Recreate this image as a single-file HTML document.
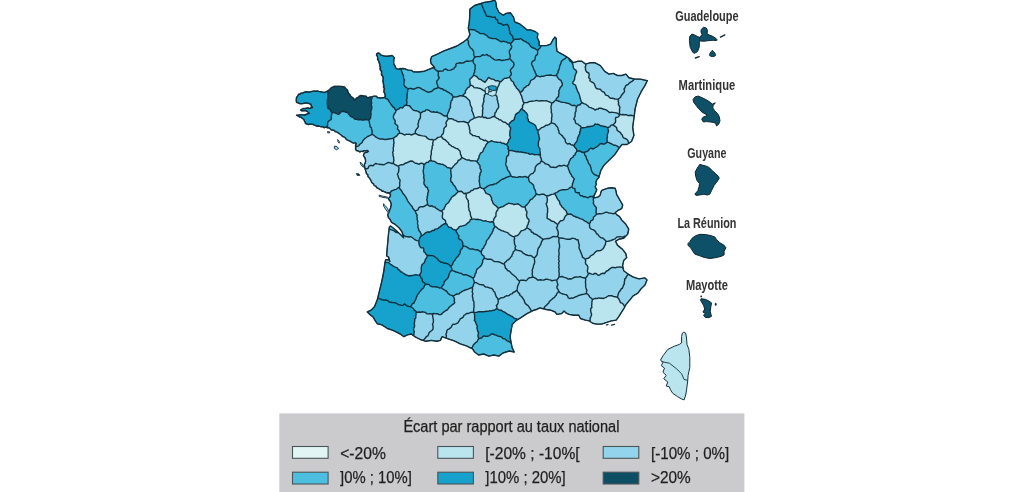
<!DOCTYPE html>
<html><head><meta charset="utf-8"><style>
html,body{margin:0;padding:0;background:#fff;}
body{width:1024px;height:492px;overflow:hidden;}
svg{display:block;filter:blur(0.35px);}
.lb{font-family:"Liberation Sans",sans-serif;font-weight:bold;font-size:15px;fill:#333;}
.lt{font-family:"Liberation Sans",sans-serif;font-size:16px;fill:#1e1e1e;stroke:#1e1e1e;stroke-width:0.25;}
.li{font-family:"Liberation Sans",sans-serif;font-size:17.2px;fill:#1e1e1e;stroke:#1e1e1e;stroke-width:0.25;}
</style></head><body>
<svg width="1024" height="492" viewBox="0 0 1024 492">
<g fill="none">
<path d="M332.0 113.2 331.2 111.9 330.6 110.5 329.8 109.2 328.1 108.6 327.5 107.1 327.7 105.5 327.2 103.9 327.5 102.3 327.3 100.7 327.6 99.1 327.9 97.5 327.9 95.9 327.7 94.3 328.0 92.7 327.5 91.0 325.4 92.2 323.8 92.6 322.2 92.1 320.7 91.7 319.1 91.4 317.5 91.0 315.9 91.2 314.3 90.9 312.7 91.1 311.1 91.7 309.5 92.2 307.9 92.1 306.3 91.7 305.0 92.0 303.7 92.5 302.5 93.1 301.1 93.0 300.1 94.2 298.7 94.1 298.0 95.3 297.3 96.5 296.4 97.7 296.3 99.3 296.1 101.0 296.8 102.5 298.3 102.7 299.5 103.6 301.2 103.7 303.0 103.6 304.6 102.9 306.3 103.0 308.0 103.1 309.4 103.9 311.0 104.3 311.2 106.2 312.5 107.5 311.1 107.6 310.0 108.6 308.3 107.8 306.5 108.2 305.2 108.5 303.8 108.4 302.5 108.8 300.5 110.0 301.8 111.0 303.5 110.8 304.9 110.4 306.3 110.6 307.5 111.5 308.3 112.7 309.5 113.3 307.7 113.7 306.0 114.5 304.4 115.3 302.7 114.9 301.0 114.8 299.5 114.9 298.0 115.3 296.5 115.3 298.2 115.8 299.5 117.0 301.3 117.2 302.5 118.5 303.9 119.4 304.5 121.0 305.2 122.2 305.5 123.5 307.0 124.0 308.5 124.6 309.9 123.9 311.5 124.3 313.0 124.2 314.2 125.1 315.6 125.5 316.9 126.4 318.5 126.0 319.9 126.4 321.3 126.9 322.8 126.4 324.1 127.8 325.7 126.9 327.0 127.7 327.3 127.8 327.3 126.2 327.7 124.7 327.6 123.1 328.0 121.6 329.6 120.5 331.2 119.4 331.4 117.9 331.3 116.2 331.6 114.7Z" fill="#16a2cc"/>
<path d="M396.1 110.3 397.5 109.4 399.1 108.8 400.2 107.4 402.4 108.1 403.5 106.7 404.8 105.5 406.4 105.0 406.8 103.4 406.9 101.8 406.4 100.2 407.0 98.7 407.0 97.1 407.1 95.5 407.2 93.9 407.4 92.3 407.7 90.8 407.8 89.2 406.6 87.6 405.0 86.6 404.1 85.1 403.9 83.5 404.0 81.8 404.5 80.1 403.7 78.6 403.5 77.0 403.4 75.3 402.5 73.9 402.2 72.3 401.4 70.8 401.3 69.2 401.4 68.7 399.9 68.5 398.5 69.3 397.3 68.9 396.1 68.5 395.4 67.1 394.9 65.6 393.7 64.5 393.7 62.8 393.6 61.1 393.6 59.4 394.5 57.9 393.3 56.6 392.0 55.4 390.5 56.0 388.8 55.9 387.2 56.3 385.6 56.1 383.9 56.1 382.3 55.4 380.7 55.1 379.7 53.5 378.2 53.0 376.6 53.8 376.5 55.2 377.4 56.4 377.7 57.7 377.5 59.1 378.2 60.3 379.1 61.6 379.5 63.0 379.9 64.4 379.8 66.0 380.7 67.2 379.8 68.8 380.3 70.0 381.6 71.1 381.5 72.5 381.4 73.9 381.5 75.3 382.9 76.3 383.3 77.6 383.1 79.0 383.0 80.3 382.8 81.7 383.3 82.9 383.3 84.3 383.9 85.5 383.3 86.8 384.4 88.1 384.4 89.4 384.0 90.7 383.9 92.0 384.9 93.2 384.9 94.7 385.5 96.1 384.7 96.9 385.6 98.3 387.2 99.0 388.4 100.1 389.1 101.6 390.0 102.9 390.9 104.2 391.9 105.5 392.8 106.8 394.2 107.7 395.0 109.2Z" fill="#16a2cc"/>
<path d="M416.3 311.8 415.2 310.7 413.9 309.8 413.3 308.3 411.9 307.5 410.7 306.4 409.1 306.6 407.6 306.1 406.2 305.3 404.8 303.9 403.1 305.1 401.5 305.4 400.0 304.9 398.5 304.7 396.6 303.3 395.2 302.8 393.6 302.6 392.1 302.5 390.6 302.2 389.1 302.0 387.9 300.6 386.5 300.2 385.0 300.0 383.4 300.0 381.9 299.9 380.6 298.9 379.1 298.6 377.7 298.2 377.4 299.3 374.6 306.6 371.0 310.2 367.3 312.0 370.1 314.8 372.8 316.6 375.5 321.2 377.4 323.9 381.9 324.8 387.4 328.5 392.9 330.3 396.6 332.2 400.2 334.0 403.9 336.7 407.5 334.9 411.2 334.0 413.9 336.0 413.9 334.5 414.0 333.0 414.3 331.5 413.6 329.9 413.7 328.4 414.4 326.9 414.6 325.4 414.3 323.8 414.5 322.3 414.7 320.8 414.7 319.3 415.8 317.9 415.7 316.3 416.0 314.8 416.0 313.3Z" fill="#16a2cc"/>
<path d="M332.0 113.2 333.5 112.3 335.0 112.8 336.6 113.5 338.3 114.5 339.7 113.7 341.1 111.7 342.6 111.5 344.2 111.3 345.8 112.4 347.3 112.0 348.2 113.6 349.3 114.9 350.5 116.3 352.2 117.0 353.7 118.0 354.9 119.2 356.4 119.2 357.9 119.8 359.5 119.5 361.1 119.7 362.6 120.2 364.1 119.8 365.7 119.5 367.2 119.7 368.7 120.2 370.5 118.2 370.7 116.7 370.9 115.1 371.1 113.6 370.7 112.0 371.1 110.5 371.7 109.0 371.9 107.5 371.6 105.9 371.2 104.3 371.8 102.9 371.2 101.3 371.5 99.7 371.9 98.2 372.4 96.7 371.7 96.9 370.0 97.0 368.5 97.7 366.9 97.7 366.0 96.0 364.4 96.1 362.8 95.7 361.1 95.4 359.5 96.1 358.4 97.2 356.7 97.8 355.7 99.1 354.6 100.2 353.9 98.7 352.9 97.6 351.4 96.9 350.4 95.8 349.8 94.4 348.4 93.6 348.1 92.0 347.6 90.6 346.9 89.3 345.4 88.6 344.9 87.2 343.1 86.8 341.2 86.4 339.8 86.4 338.3 86.1 336.9 86.4 335.4 86.2 334.0 86.5 332.7 87.1 331.5 87.6 330.5 88.5 329.6 89.6 328.5 90.5 327.5 91.0 328.0 92.7 327.7 94.3 327.9 95.9 327.9 97.5 327.6 99.1 327.3 100.7 327.5 102.3 327.2 103.9 327.7 105.5 327.5 107.1 328.1 108.6 329.8 109.2 330.6 110.5 331.2 111.9Z" fill="#0c4f64"/>
<path d="M368.7 120.2 367.2 119.7 365.7 119.5 364.1 119.8 362.6 120.2 361.1 119.7 359.5 119.5 357.9 119.8 356.4 119.2 354.9 119.2 353.7 118.0 352.2 117.0 350.5 116.3 349.3 114.9 348.2 113.6 347.3 112.0 345.8 112.4 344.2 111.3 342.6 111.5 341.1 111.7 339.7 113.7 338.3 114.5 336.6 113.5 335.0 112.8 333.5 112.3 332.0 113.2 331.6 114.7 331.3 116.2 331.4 117.9 331.2 119.4 329.6 120.5 328.0 121.6 327.6 123.1 327.7 124.7 327.3 126.2 327.3 127.8 328.7 127.5 329.8 128.4 331.4 130.0 333.0 129.9 334.3 130.7 335.5 131.9 337.1 132.1 338.6 133.1 340.0 134.2 341.4 135.2 342.5 136.5 344.2 137.1 345.4 137.8 346.0 139.1 347.1 139.9 348.5 140.6 350.0 141.1 351.3 142.0 352.4 142.8 353.7 143.2 355.2 142.6 356.3 143.5 355.5 145.2 355.6 147.0 355.6 147.2 357.1 146.4 358.7 145.8 359.6 144.5 360.9 143.5 362.2 142.5 362.8 140.7 364.0 139.6 365.0 138.3 366.4 137.5 367.7 136.5 369.2 135.8 370.7 135.2 372.0 134.1 372.1 132.5 372.2 130.8 371.5 129.4 371.4 127.8 369.9 126.5 370.0 124.8 369.4 123.3 369.4 121.7Z" fill="#4cbfe0"/>
<path d="M473.7 29.6 475.2 30.1 476.3 31.4 477.9 31.8 479.1 32.9 480.6 33.6 482.3 33.6 484.0 33.7 485.3 34.8 486.8 35.4 487.8 36.8 489.2 37.7 490.8 38.1 490.9 38.1 492.4 38.5 494.1 38.6 495.7 38.6 497.1 39.5 498.6 40.2 500.0 41.2 501.4 41.9 503.3 41.1 504.8 41.7 506.4 41.9 507.8 42.9 509.4 43.0 510.9 43.4 512.4 41.7 513.7 40.0 513.1 38.6 512.8 37.0 512.0 35.7 510.9 34.4 509.8 33.2 509.9 31.5 509.2 30.1 509.4 28.4 508.7 27.0 508.3 25.5 506.9 24.4 505.2 24.7 503.4 25.4 502.0 24.2 500.5 23.5 498.8 23.3 497.6 22.0 497.6 20.0 495.6 19.1 495.3 17.3 493.8 17.2 492.2 17.4 490.8 16.5 489.3 16.6 487.8 16.3 486.3 15.8 485.9 14.4 485.3 13.0 484.7 11.6 483.8 10.4 483.6 8.9 482.8 7.6 482.3 6.1 481.7 4.8 480.9 3.5 474.5 5.5 469.9 9.1 469.6 18.5 469.1 23.3 468.3 28.1 468.8 30.2 470.4 29.4 472.1 29.8Z" fill="#16a2cc"/>
<path d="M393.5 138.1 391.9 138.5 390.3 138.7 388.7 139.0 387.0 139.3 385.4 139.6 383.8 139.2 382.1 138.9 380.5 139.0 378.9 138.7 377.4 137.9 376.0 137.1 374.7 136.0 373.4 135.0 372.0 134.1 370.7 135.2 369.2 135.8 367.7 136.5 366.4 137.5 365.0 138.3 364.0 139.6 362.8 140.7 362.2 142.5 360.9 143.5 359.6 144.5 358.7 145.8 357.1 146.4 355.6 147.2 355.5 149.0 356.3 150.6 358.3 150.8 359.9 152.0 361.1 151.1 362.9 151.6 364.1 150.6 365.5 150.9 367.1 150.4 368.4 151.3 367.1 152.4 365.4 152.4 364.1 153.4 363.4 155.6 364.1 156.7 364.9 157.7 365.5 159.5 365.6 161.3 365.3 162.8 364.6 164.1 364.1 165.5 364.8 166.9 364.9 168.4 365.1 168.9 366.9 168.8 368.3 167.9 369.1 165.8 370.8 165.3 373.0 165.9 374.2 164.5 375.6 163.5 377.2 163.9 378.8 164.1 380.5 164.5 382.1 164.5 383.7 164.9 385.3 164.0 387.0 163.0 388.6 162.4 390.2 162.9 391.9 163.5 393.5 163.5 393.4 161.9 394.0 160.3 393.6 158.7 393.7 157.2 393.0 155.6 393.1 154.0 392.6 152.4 393.4 150.8 393.3 149.2 393.2 147.6 393.8 146.0 393.5 144.5 394.1 142.9 393.7 141.3 393.7 139.7Z" fill="#93d4ec"/>
<path d="M370.5 118.2 368.7 120.2 369.4 121.7 369.4 123.3 370.0 124.8 369.9 126.5 371.4 127.8 371.5 129.4 372.2 130.8 372.1 132.5 372.0 134.1 373.4 135.0 374.7 136.0 376.0 137.1 377.4 137.9 378.9 138.7 380.5 139.0 382.1 138.9 383.8 139.2 385.4 139.6 387.0 139.3 388.7 139.0 390.3 138.7 391.9 138.5 393.5 138.1 394.8 137.2 396.2 136.4 397.3 135.3 398.2 133.8 399.7 133.3 399.4 131.7 398.8 130.2 397.4 129.0 397.9 127.1 397.5 125.6 396.0 124.5 394.9 123.2 395.3 121.3 394.7 119.9 393.7 118.6 393.3 117.0 393.7 115.2 394.6 113.6 395.6 112.1 396.1 110.3 395.0 109.2 394.2 107.7 392.8 106.8 391.9 105.5 390.9 104.2 390.0 102.9 389.1 101.6 388.4 100.1 387.2 99.0 385.6 98.3 384.7 96.9 383.9 97.7 382.3 97.6 380.6 98.3 379.0 97.7 377.4 97.8 376.5 96.2 375.0 96.1 373.6 96.1 372.4 96.7 371.9 98.2 371.5 99.7 371.2 101.3 371.8 102.9 371.2 104.3 371.6 105.9 371.9 107.5 371.7 109.0 371.1 110.5 370.7 112.0 371.1 113.6 370.9 115.1 370.7 116.7Z" fill="#4cbfe0"/>
<path d="M399.1 187.4 399.7 186.4 399.8 184.9 399.7 183.4 399.8 181.8 400.2 180.2 399.0 178.8 398.4 177.3 398.1 175.8 397.4 174.3 398.2 172.7 398.7 171.1 398.8 169.6 399.0 168.0 398.3 166.5 396.8 165.5 395.0 164.6 393.5 163.5 391.9 163.5 390.2 162.9 388.6 162.4 387.0 163.0 385.3 164.0 383.7 164.9 382.1 164.5 380.5 164.5 378.8 164.1 377.2 163.9 375.6 163.5 374.2 164.5 373.0 165.9 370.8 165.3 369.1 165.8 368.3 167.9 366.9 168.8 365.1 168.9 365.6 170.5 366.2 172.0 366.4 173.6 367.9 174.6 367.9 176.6 369.2 177.8 370.1 179.0 370.8 180.2 371.3 181.6 372.1 182.8 373.6 183.8 374.2 185.6 376.0 186.1 376.8 187.9 378.5 188.5 379.6 189.5 381.0 189.9 381.9 191.2 383.5 191.3 385.0 192.1 386.6 193.0 388.4 192.8 388.7 193.1 390.3 192.5 391.4 191.0 393.0 190.4 394.5 189.6 396.3 189.4 397.5 188.1Z" fill="#93d4ec"/>
<path d="M389.0 262.9 390.2 264.0 391.6 264.8 392.8 265.9 394.2 266.6 395.8 267.3 397.4 267.8 398.1 269.5 399.6 270.2 400.5 271.7 402.2 272.1 403.3 273.3 404.8 274.0 406.0 275.0 407.7 275.4 409.3 276.0 411.0 275.5 412.6 275.6 414.3 274.9 416.0 274.7 417.6 275.1 419.3 275.0 420.4 273.8 421.1 272.4 421.4 270.9 421.2 269.2 421.3 267.6 421.6 266.0 422.0 264.6 423.4 263.5 424.5 262.3 425.1 260.8 425.4 259.3 426.4 258.1 427.0 256.7 427.2 255.1 425.9 254.1 425.2 252.7 423.8 251.7 423.8 249.7 423.5 247.9 421.0 247.9 420.0 246.6 419.3 245.1 418.9 243.0 418.8 240.9 417.2 240.6 415.7 240.1 414.4 239.3 413.1 238.3 411.8 237.3 410.4 236.7 408.5 237.0 407.0 236.6 405.4 236.5 404.0 235.6 402.8 234.5 403.6 237.8 400.5 234.6 398.8 232.9 397.1 232.5 395.4 232.0 394.0 230.8 392.4 230.2 390.7 229.7 389.1 229.0 388.5 234.0 387.5 244.9 386.6 255.9 388.6 257.2 389.8 261.5 388.5 259.8 385.7 259.6 385.0 262.4 387.1 262.3Z" fill="#93d4ec"/>
<path d="M393.3 117.0 393.7 118.6 394.7 119.9 395.3 121.3 394.9 123.2 396.0 124.5 397.5 125.6 397.9 127.1 397.4 129.0 398.8 130.2 399.4 131.7 399.7 133.3 401.3 133.4 402.9 134.0 404.4 135.0 406.1 134.3 407.8 134.4 409.5 134.1 411.0 135.0 412.5 134.5 413.9 133.9 415.3 133.3 415.3 131.6 415.9 130.1 416.8 128.7 418.0 127.4 418.4 125.8 417.8 124.0 418.6 122.6 418.6 120.9 419.4 119.5 420.3 118.1 420.5 116.5 420.5 114.8 420.5 113.2 419.3 112.0 417.9 111.3 416.3 110.7 414.5 110.6 413.0 109.9 411.8 108.6 410.7 107.2 409.6 105.8 407.9 105.6 406.4 105.0 404.8 105.5 403.5 106.7 402.4 108.1 400.2 107.4 399.1 108.8 397.5 109.4 396.1 110.3 395.6 112.1 394.6 113.6 393.7 115.2Z" fill="#93d4ec"/>
<path d="M396.6 303.3 398.5 304.7 400.0 304.9 401.5 305.4 403.1 305.1 404.8 303.9 406.2 305.3 407.6 306.1 409.1 306.6 410.7 306.4 411.6 305.2 412.3 303.8 414.0 303.0 414.5 301.5 415.4 300.2 416.0 298.8 416.4 297.2 417.2 295.9 417.7 294.3 418.9 293.2 419.6 291.8 420.8 290.8 421.5 289.4 423.0 288.5 423.9 287.2 424.4 285.7 425.4 284.5 424.8 282.9 423.0 282.2 422.3 280.7 422.2 278.8 421.0 277.7 420.4 276.2 419.3 275.0 417.6 275.1 416.0 274.7 414.3 274.9 412.6 275.6 411.0 275.5 409.3 276.0 407.7 275.4 406.0 275.0 404.8 274.0 403.3 273.3 402.2 272.1 400.5 271.7 399.6 270.2 398.1 269.5 397.4 267.8 395.8 267.3 394.2 266.6 392.8 265.9 391.6 264.8 390.2 264.0 389.0 262.9 387.1 262.3 385.0 262.4 384.8 263.3 383.9 270.6 382.5 278.0 381.0 284.6 379.2 291.9 377.7 298.2 379.1 298.6 380.6 298.9 381.9 299.9 383.4 300.0 385.0 300.0 386.5 300.2 387.9 300.6 389.1 302.0 390.6 302.2 392.1 302.5 393.6 302.6 395.2 302.8Z" fill="#16a2cc"/>
<path d="M438.0 71.3 439.6 71.2 441.2 71.1 442.8 71.1 444.2 69.4 445.8 69.0 447.6 70.2 449.2 70.4 450.8 70.1 452.3 69.2 453.8 68.9 454.4 67.4 456.0 66.5 455.7 64.5 457.0 63.4 458.6 63.1 460.2 62.8 461.9 63.1 463.5 62.8 465.0 61.8 466.5 61.0 468.3 61.3 469.9 61.1 471.5 60.9 473.1 60.2 473.8 58.5 475.1 57.1 474.2 55.8 473.6 54.5 473.7 52.8 473.5 51.2 472.7 49.9 471.7 48.7 470.3 47.7 469.6 46.3 468.8 45.0 468.4 43.5 468.5 41.8 468.0 40.4 467.1 39.1 466.7 39.5 462.3 42.7 456.9 46.0 450.4 48.5 443.9 50.9 437.4 54.1 431.7 56.6 430.5 60.0 431.0 63.5 434.5 67.2 433.6 67.5 434.9 69.0 436.3 70.3Z" fill="#4cbfe0"/>
<path d="M407.8 89.2 409.4 88.5 411.1 88.5 412.8 89.0 414.5 89.0 416.1 88.1 417.7 87.5 419.4 87.6 420.9 88.4 422.3 89.3 423.9 90.0 425.3 90.9 426.8 91.6 428.4 92.3 429.9 91.9 431.4 91.5 432.7 90.6 433.7 89.3 435.1 88.7 436.7 88.3 438.0 87.5 437.9 85.9 437.2 84.3 436.7 82.6 436.9 81.0 438.2 79.4 439.3 77.8 438.3 76.1 438.2 74.5 438.4 72.9 438.0 71.3 436.3 70.3 434.9 69.0 433.6 67.5 430.1 68.8 424.4 71.2 417.9 72.0 413.2 71.7 411.4 70.4 408.3 70.1 404.9 68.8 402.6 68.5 401.4 68.7 401.3 69.2 401.4 70.8 402.2 72.3 402.5 73.9 403.4 75.3 403.5 77.0 403.7 78.6 404.5 80.1 404.0 81.8 403.9 83.5 404.1 85.1 405.0 86.6 406.6 87.6Z" fill="#4cbfe0"/>
<path d="M399.7 133.3 398.2 133.8 397.3 135.3 396.2 136.4 394.8 137.2 393.5 138.1 393.7 139.7 393.7 141.3 394.1 142.9 393.5 144.5 393.8 146.0 393.2 147.6 393.3 149.2 393.4 150.8 392.6 152.4 393.1 154.0 393.0 155.6 393.7 157.2 393.6 158.7 394.0 160.3 393.4 161.9 393.5 163.5 395.0 164.6 396.8 165.5 398.3 166.5 399.4 165.3 400.9 164.8 402.6 164.8 404.0 164.1 405.3 163.2 406.8 162.8 408.1 162.1 409.5 161.5 411.0 161.0 412.7 161.2 414.1 162.5 415.6 163.3 417.3 163.5 418.8 164.3 420.9 163.1 422.6 163.4 424.0 164.6 425.3 163.7 426.4 162.4 428.2 162.2 429.3 160.9 430.9 160.5 430.7 158.9 430.7 157.3 430.7 155.7 431.4 154.2 431.3 152.6 431.3 151.0 431.8 149.5 432.2 148.0 432.1 146.4 433.0 144.9 432.7 143.3 433.0 141.8 433.4 140.2 432.0 139.4 430.2 139.6 428.6 139.1 427.3 138.2 426.1 136.7 424.6 136.1 423.0 135.9 421.3 135.6 419.8 135.2 418.1 135.0 416.7 134.0 415.3 133.3 413.9 133.9 412.5 134.5 411.0 135.0 409.5 134.1 407.8 134.4 406.1 134.3 404.4 135.0 402.9 134.0 401.3 133.4Z" fill="#bae5ef"/>
<path d="M398.8 232.9 397.0 231.2 393.5 228.2 390.6 226.0 389.4 226.8 389.1 229.0 390.7 229.7 392.4 230.2 394.0 230.8 395.4 232.0 397.1 232.5ZM418.8 240.9 419.4 239.1 420.1 237.3 421.3 235.8 421.1 234.3 420.7 232.9 419.8 231.5 418.6 230.3 418.6 228.7 417.8 227.3 418.1 225.7 417.6 224.3 417.5 222.7 417.8 221.1 417.1 219.7 417.3 218.1 416.9 216.6 417.2 215.0 416.2 213.7 415.7 212.2 415.1 210.8 414.7 210.7 413.8 209.4 412.8 208.2 412.3 206.7 411.2 205.6 410.2 204.4 409.3 203.1 408.3 201.9 407.5 200.5 406.9 199.1 406.2 197.7 405.3 196.4 404.5 195.1 403.3 194.0 402.5 192.7 401.9 191.2 400.9 190.0 399.9 188.8 399.1 187.4 397.5 188.1 396.3 189.4 394.5 189.6 393.0 190.4 391.4 191.0 390.3 192.5 388.7 193.1 389.9 193.7 390.6 194.9 389.9 197.0 388.4 198.4 388.8 199.7 389.9 200.6 391.3 204.1 390.6 207.7 389.2 211.3 387.7 214.8 388.4 217.7 389.9 219.1 391.5 222.3 395.2 224.4 399.2 228.0 402.2 232.2 402.8 234.5 404.0 235.6 405.4 236.5 407.0 236.6 408.5 237.0 410.4 236.7 411.8 237.3 413.1 238.3 414.4 239.3 415.7 240.1 417.2 240.6Z" fill="#4cbfe0"/>
<path d="M399.1 187.4 399.9 188.8 400.9 190.0 401.9 191.2 402.5 192.7 403.3 194.0 404.5 195.1 405.3 196.4 406.2 197.7 406.9 199.1 407.5 200.5 408.3 201.9 409.3 203.1 410.2 204.4 411.2 205.6 412.3 206.7 412.8 208.2 413.8 209.4 414.7 210.7 415.1 210.8 416.5 210.3 418.1 209.8 418.7 207.8 420.1 206.9 421.6 206.6 423.5 206.7 424.9 206.0 426.2 205.2 427.5 204.4 427.4 202.8 427.3 201.3 426.7 199.8 427.3 198.2 427.1 196.7 427.8 195.2 427.7 193.6 428.3 192.1 428.5 190.6 427.6 189.0 427.5 187.5 425.8 186.8 425.0 185.3 424.0 184.0 423.9 182.4 424.2 180.8 424.2 179.2 423.6 177.5 424.0 175.9 423.6 174.3 423.4 172.7 423.1 171.1 423.5 169.4 423.7 167.8 423.9 166.2 424.0 164.6 422.6 163.4 420.9 163.1 418.8 164.3 417.3 163.5 415.6 163.3 414.1 162.5 412.7 161.2 411.0 161.0 409.5 161.5 408.1 162.1 406.8 162.8 405.3 163.2 404.0 164.1 402.6 164.8 400.9 164.8 399.4 165.3 398.3 166.5 399.0 168.0 398.8 169.6 398.7 171.1 398.2 172.7 397.4 174.3 398.1 175.8 398.4 177.3 399.0 178.8 400.2 180.2 399.8 181.8 399.7 183.4 399.8 184.9 399.7 186.4Z" fill="#93d4ec"/>
<path d="M453.1 296.1 454.0 297.6 454.5 299.2 454.2 301.0 454.8 302.5 453.8 303.7 452.5 304.6 451.4 305.6 450.1 306.5 449.0 307.5 448.1 308.9 447.1 310.0 445.6 310.7 444.4 311.6 443.1 312.4 442.1 313.6 440.9 314.6 439.1 314.6 437.5 313.6 435.6 313.8 433.8 313.3 433.0 313.8 432.6 315.3 432.8 316.9 433.1 318.4 433.4 320.0 433.4 321.5 433.1 323.1 432.5 324.6 433.2 326.2 433.0 327.8 433.0 329.3 431.8 330.5 430.4 331.5 429.2 332.6 428.6 334.3 427.8 335.9 426.3 336.7 425.4 338.1 424.2 339.3 422.9 340.3 425.8 341.3 431.3 340.4 436.8 341.3 440.4 340.4 442.0 336.7 446.1 338.1 446.4 336.0 445.9 334.0 446.7 332.7 446.7 330.8 447.6 329.6 449.2 328.9 450.5 327.9 451.5 326.8 452.1 325.3 453.0 324.1 454.7 324.4 456.4 323.6 457.8 322.9 458.8 321.5 459.6 320.1 460.4 318.6 462.1 318.0 463.3 316.9 464.0 315.3 465.4 314.5 466.6 313.4 468.4 313.5 470.1 312.6 471.9 312.3 473.8 312.4 473.6 310.9 473.7 309.3 473.9 307.7 474.2 306.1 473.9 304.5 474.0 302.9 473.8 301.4 472.8 299.9 473.0 298.3 472.4 296.7 472.4 295.1 472.9 293.5 472.1 292.0 472.5 290.4 472.5 288.8 472.4 287.2 471.0 288.0 469.6 288.4 468.2 289.1 466.7 289.5 465.3 290.0 463.9 290.6 462.5 291.2 461.2 292.1 459.9 292.8 458.8 294.1 457.1 294.0 455.7 294.5 454.4 295.4Z" fill="#93d4ec"/>
<path d="M433.0 313.8 433.8 313.3 435.6 313.8 437.5 313.6 439.1 314.6 440.9 314.6 442.1 313.6 443.1 312.4 444.4 311.6 445.6 310.7 447.1 310.0 448.1 308.9 449.0 307.5 450.1 306.5 451.4 305.6 452.5 304.6 453.8 303.7 454.8 302.5 454.2 301.0 454.5 299.2 454.0 297.6 453.1 296.1 451.7 295.3 450.1 294.8 448.7 293.9 447.5 292.8 446.7 291.1 445.2 290.5 443.9 289.5 442.4 288.8 441.3 287.6 439.8 288.1 438.2 287.4 436.7 287.0 435.0 286.8 433.3 286.9 431.7 286.5 430.1 285.9 428.8 284.4 427.1 284.3 425.4 284.5 424.4 285.7 423.9 287.2 423.0 288.5 421.5 289.4 420.8 290.8 419.6 291.8 418.9 293.2 417.7 294.3 417.2 295.9 416.4 297.2 416.0 298.8 415.4 300.2 414.5 301.5 414.0 303.0 412.3 303.8 411.6 305.2 410.7 306.4 411.9 307.5 413.3 308.3 413.9 309.8 415.2 310.7 416.3 311.8 417.8 312.3 419.4 312.0 420.9 312.2 422.5 311.8 424.0 312.1 425.5 312.5 426.8 313.8 428.4 313.9 429.9 313.6 431.4 314.0Z" fill="#4cbfe0"/>
<path d="M427.5 109.8 429.0 110.3 430.3 111.4 431.8 112.1 433.6 111.7 435.0 112.4 436.9 112.0 438.3 112.7 439.9 113.1 441.3 113.8 442.6 114.9 444.0 115.8 445.6 116.0 447.2 116.4 447.4 114.8 447.7 113.3 448.5 111.9 449.2 110.4 449.5 108.9 450.6 107.5 450.3 105.8 450.6 104.2 450.8 102.7 451.1 101.1 452.3 99.8 452.5 98.3 453.2 96.8 452.4 95.5 451.5 94.2 450.1 93.6 449.0 92.6 447.6 91.9 446.3 91.1 445.1 90.2 443.5 90.0 442.5 88.7 440.8 88.7 439.5 87.9 438.0 87.5 436.7 88.3 435.1 88.7 433.7 89.3 432.7 90.6 431.4 91.5 429.9 91.9 428.4 92.3 426.8 91.6 425.3 90.9 423.9 90.0 422.3 89.3 420.9 88.4 419.4 87.6 417.7 87.5 416.1 88.1 414.5 89.0 412.8 89.0 411.1 88.5 409.4 88.5 407.8 89.2 407.7 90.8 407.4 92.3 407.2 93.9 407.1 95.5 407.0 97.1 407.0 98.7 406.4 100.2 406.9 101.8 406.8 103.4 406.4 105.0 407.9 105.6 409.6 105.8 410.7 107.2 411.8 108.6 413.0 109.9 414.5 110.6 416.3 110.7 417.9 111.3 419.3 112.0 420.5 113.2 421.9 112.4 423.1 111.4 424.8 111.3 425.8 109.9Z" fill="#4cbfe0"/>
<path d="M421.3 235.8 422.7 235.1 424.0 234.4 425.1 233.1 426.4 232.3 427.8 231.8 429.7 232.2 431.1 231.4 432.3 230.5 434.0 230.5 435.0 229.2 436.6 228.9 438.1 228.4 439.2 227.3 440.5 226.6 441.6 225.3 443.0 224.7 444.3 223.8 445.9 223.6 445.7 221.9 445.3 220.3 443.5 219.2 442.4 217.9 442.3 216.2 442.6 214.4 442.7 212.6 441.7 211.2 440.2 210.8 438.8 210.0 437.5 209.1 436.1 208.4 435.0 207.0 433.3 206.9 432.1 205.8 430.1 206.3 428.7 205.6 427.5 204.4 426.2 205.2 424.9 206.0 423.5 206.7 421.6 206.6 420.1 206.9 418.7 207.8 418.1 209.8 416.5 210.3 415.1 210.8 415.7 212.2 416.2 213.7 417.2 215.0 416.9 216.6 417.3 218.1 417.1 219.7 417.8 221.1 417.5 222.7 417.6 224.3 418.1 225.7 417.8 227.3 418.6 228.7 418.6 230.3 419.8 231.5 420.7 232.9 421.1 234.3Z" fill="#93d4ec"/>
<path d="M419.3 245.1 420.0 246.6 421.0 247.9 423.5 247.9 423.8 249.7 423.8 251.7 425.2 252.7 425.9 254.1 427.2 255.1 428.9 255.7 430.7 255.4 432.4 255.6 433.8 256.2 435.1 257.0 436.3 258.0 437.6 258.9 438.4 260.5 439.7 261.2 440.8 262.4 442.7 262.3 443.8 263.3 445.6 263.3 447.3 263.6 448.6 264.3 449.8 265.3 450.9 266.5 451.8 265.3 452.7 264.1 453.1 262.5 453.8 261.2 455.0 260.2 455.7 258.8 456.5 257.5 457.9 256.6 458.6 255.2 459.7 254.1 460.1 252.6 460.3 250.9 460.9 249.5 462.2 248.5 462.7 247.0 463.8 245.9 462.6 244.8 462.8 242.9 462.2 241.4 461.1 240.1 459.4 239.2 458.4 237.9 458.9 235.8 457.8 234.6 457.2 233.1 456.2 231.8 456.1 230.4 454.7 229.7 453.0 229.4 451.9 228.3 450.7 227.4 449.0 227.2 447.8 226.2 447.1 224.4 445.9 223.6 444.3 223.8 443.0 224.7 441.6 225.3 440.5 226.6 439.2 227.3 438.1 228.4 436.6 228.9 435.0 229.2 434.0 230.5 432.3 230.5 431.1 231.4 429.7 232.2 427.8 231.8 426.4 232.3 425.1 233.1 424.0 234.4 422.7 235.1 421.3 235.8 420.1 237.3 419.4 239.1 418.8 240.9 418.9 243.0Z" fill="#16a2cc"/>
<path d="M425.4 284.5 427.1 284.3 428.8 284.4 430.1 285.9 431.7 286.5 433.3 286.9 435.0 286.8 436.7 287.0 438.2 287.4 439.8 288.1 441.3 287.6 442.1 286.3 443.3 285.1 444.0 283.7 444.1 282.0 445.2 280.7 446.4 279.6 447.6 278.5 448.3 277.1 448.8 275.6 449.2 273.9 449.8 272.4 450.8 271.2 452.0 270.0 451.7 268.2 450.9 266.5 449.8 265.3 448.6 264.3 447.3 263.6 445.6 263.3 443.8 263.3 442.7 262.3 440.8 262.4 439.7 261.2 438.4 260.5 437.6 258.9 436.3 258.0 435.1 257.0 433.8 256.2 432.4 255.6 430.7 255.4 428.9 255.7 427.2 255.1 427.0 256.7 426.4 258.1 425.4 259.3 425.1 260.8 424.5 262.3 423.4 263.5 422.0 264.6 421.6 266.0 421.3 267.6 421.2 269.2 421.4 270.9 421.1 272.4 420.4 273.8 419.3 275.0 420.4 276.2 421.0 277.7 422.2 278.8 422.3 280.7 423.0 282.2 424.8 282.9Z" fill="#16a2cc"/>
<path d="M420.5 113.2 420.5 114.8 420.5 116.5 420.3 118.1 419.4 119.5 418.6 120.9 418.6 122.6 417.8 124.0 418.4 125.8 418.0 127.4 416.8 128.7 415.9 130.1 415.3 131.6 415.3 133.3 416.7 134.0 418.1 135.0 419.8 135.2 421.3 135.6 423.0 135.9 424.6 136.1 426.1 136.7 427.3 138.2 428.6 139.1 430.2 139.6 432.0 139.4 433.4 140.2 435.1 139.7 436.5 138.6 437.9 137.4 439.6 137.1 441.3 136.4 441.8 134.9 443.1 133.7 443.5 132.2 443.8 130.6 443.9 128.9 444.6 127.5 446.1 126.4 446.5 124.8 445.9 122.9 446.6 121.4 447.5 120.1 448.3 118.7 447.2 116.4 445.6 116.0 444.0 115.8 442.6 114.9 441.3 113.8 439.9 113.1 438.3 112.7 436.9 112.0 435.0 112.4 433.6 111.7 431.8 112.1 430.3 111.4 429.0 110.3 427.5 109.8 425.8 109.9 424.8 111.3 423.1 111.4 421.9 112.4Z" fill="#93d4ec"/>
<path d="M427.5 204.4 428.7 205.6 430.1 206.3 432.1 205.8 433.3 206.9 435.0 207.0 436.1 208.4 437.5 209.1 438.8 210.0 440.2 210.8 441.7 211.2 442.6 210.0 444.1 209.2 444.4 207.6 445.3 206.3 445.8 204.7 447.0 203.8 448.3 202.8 449.1 201.6 449.8 200.2 450.9 199.1 451.4 197.5 452.6 196.6 453.8 195.6 455.2 194.8 456.2 193.7 457.4 192.6 458.2 191.4 457.2 190.3 456.2 189.1 455.7 187.6 454.9 186.3 453.9 185.2 452.9 184.0 452.3 182.6 451.0 181.6 450.7 180.0 450.7 178.4 451.4 176.8 451.3 175.2 450.9 173.5 450.9 171.9 450.7 170.3 451.0 168.7 449.6 167.9 448.0 167.8 446.6 167.0 445.5 165.8 444.0 165.2 442.8 164.2 441.0 164.4 439.6 163.7 438.0 163.6 436.6 162.9 435.4 161.8 433.9 161.2 432.3 161.1 430.9 160.5 429.3 160.9 428.2 162.2 426.4 162.4 425.3 163.7 424.0 164.6 423.9 166.2 423.7 167.8 423.5 169.4 423.1 171.1 423.4 172.7 423.6 174.3 424.0 175.9 423.6 177.5 424.2 179.2 424.2 180.8 423.9 182.4 424.0 184.0 425.0 185.3 425.8 186.8 427.5 187.5 427.6 189.0 428.5 190.6 428.3 192.1 427.7 193.6 427.8 195.2 427.1 196.7 427.3 198.2 426.7 199.8 427.3 201.3 427.4 202.8Z" fill="#4cbfe0"/>
<path d="M413.9 336.0 414.8 336.7 420.3 339.5 422.9 340.3 424.2 339.3 425.4 338.1 426.3 336.7 427.8 335.9 428.6 334.3 429.2 332.6 430.4 331.5 431.8 330.5 433.0 329.3 433.0 327.8 433.2 326.2 432.5 324.6 433.1 323.1 433.4 321.5 433.4 320.0 433.1 318.4 432.8 316.9 432.6 315.3 433.0 313.8 431.4 314.0 429.9 313.6 428.4 313.9 426.8 313.8 425.5 312.5 424.0 312.1 422.5 311.8 420.9 312.2 419.4 312.0 417.8 312.3 416.3 311.8 416.0 313.3 416.0 314.8 415.7 316.3 415.8 317.9 414.7 319.3 414.7 320.8 414.5 322.3 414.3 323.8 414.6 325.4 414.4 326.9 413.7 328.4 413.6 329.9 414.3 331.5 414.0 333.0 413.9 334.5Z" fill="#93d4ec"/>
<path d="M475.3 68.8 475.0 67.0 475.3 65.1 474.0 63.6 473.1 62.0 473.1 60.2 471.5 60.9 469.9 61.1 468.3 61.3 466.5 61.0 465.0 61.8 463.5 62.8 461.9 63.1 460.2 62.8 458.6 63.1 457.0 63.4 455.7 64.5 456.0 66.5 454.4 67.4 453.8 68.9 452.3 69.2 450.8 70.1 449.2 70.4 447.6 70.2 445.8 69.0 444.2 69.4 442.8 71.1 441.2 71.1 439.6 71.2 438.0 71.3 438.4 72.9 438.2 74.5 438.3 76.1 439.3 77.8 438.2 79.4 436.9 81.0 436.7 82.6 437.2 84.3 437.9 85.9 438.0 87.5 439.5 87.9 440.8 88.7 442.5 88.7 443.5 90.0 445.1 90.2 446.3 91.1 447.6 91.9 449.0 92.6 450.1 93.6 451.5 94.2 452.4 95.5 453.2 96.8 454.8 97.0 456.4 96.9 457.9 96.5 459.5 95.8 461.0 95.7 462.6 96.0 463.3 94.7 464.5 93.7 465.5 92.5 465.4 90.7 466.5 89.6 467.2 88.2 468.6 87.4 469.8 86.4 470.1 84.8 470.1 83.1 469.8 81.5 469.7 79.9 470.4 78.5 471.7 77.7 472.6 76.4 473.7 75.3 473.7 73.6 474.7 72.1 474.6 70.3Z" fill="#4cbfe0"/>
<path d="M430.9 160.5 432.3 161.1 433.9 161.2 435.4 161.8 436.6 162.9 438.0 163.6 439.6 163.7 441.0 164.4 442.8 164.2 444.0 165.2 445.5 165.8 446.6 167.0 448.0 167.8 449.6 167.9 451.0 168.7 452.3 167.8 453.2 166.5 454.2 165.4 455.2 164.2 456.5 163.3 457.6 162.1 458.1 160.5 459.6 159.8 460.9 158.9 461.7 157.5 461.3 155.9 460.5 154.4 460.3 152.7 460.0 151.0 458.8 150.0 457.7 148.8 456.1 148.4 454.6 147.6 453.3 146.8 451.7 146.3 450.6 145.1 449.1 144.4 448.4 142.8 447.2 141.8 446.1 140.6 444.9 139.6 443.3 139.0 442.3 137.7 441.3 136.4 439.6 137.1 437.9 137.4 436.5 138.6 435.1 139.7 433.4 140.2 433.0 141.8 432.7 143.3 433.0 144.9 432.1 146.4 432.2 148.0 431.8 149.5 431.3 151.0 431.3 152.6 431.4 154.2 430.7 155.7 430.7 157.3 430.7 158.9Z" fill="#bae5ef"/>
<path d="M456.4 323.6 454.7 324.4 453.0 324.1 452.1 325.3 451.5 326.8 450.5 327.9 449.2 328.9 447.6 329.6 446.7 330.8 446.7 332.7 445.9 334.0 446.4 336.0 446.1 338.1 448.1 338.8 454.2 340.8 460.3 343.9 466.4 345.9 471.5 348.4 471.5 348.3 472.5 346.9 473.2 345.3 474.2 344.0 475.5 342.7 477.0 341.8 477.7 340.2 478.7 338.8 478.3 337.2 477.9 335.7 478.3 334.1 478.5 332.4 477.6 331.0 477.4 329.5 476.9 328.0 477.3 326.3 476.6 324.8 475.9 323.4 475.6 321.8 474.3 320.5 474.8 318.8 474.5 317.3 474.7 315.6 474.4 314.1 474.0 312.6 473.8 312.4 471.9 312.3 470.1 312.6 468.4 313.5 466.6 313.4 465.4 314.5 464.0 315.3 463.3 316.9 462.1 318.0 460.4 318.6 459.6 320.1 458.8 321.5 457.8 322.9Z" fill="#93d4ec"/>
<path d="M445.9 223.6 447.1 224.4 447.8 226.2 449.0 227.2 450.7 227.4 451.9 228.3 453.0 229.4 454.7 229.7 456.1 230.4 457.2 229.2 458.4 228.1 459.3 226.7 460.9 226.2 462.7 225.9 464.3 225.3 465.9 224.8 467.0 223.6 468.2 222.6 469.6 221.7 470.2 219.9 471.6 219.2 471.5 217.6 470.7 216.2 470.4 214.7 470.3 213.1 469.9 211.6 468.9 210.2 469.0 208.6 468.5 207.1 468.5 205.5 468.7 203.9 468.2 202.4 468.4 200.7 467.3 199.4 466.5 198.0 466.0 196.5 466.3 194.8 465.8 193.3 464.1 193.7 462.8 192.5 461.5 191.2 459.8 191.5 458.2 191.4 457.4 192.6 456.2 193.7 455.2 194.8 453.8 195.6 452.6 196.6 451.4 197.5 450.9 199.1 449.8 200.2 449.1 201.6 448.3 202.8 447.0 203.8 445.8 204.7 445.3 206.3 444.4 207.6 444.1 209.2 442.6 210.0 441.7 211.2 442.7 212.6 442.6 214.4 442.3 216.2 442.4 217.9 443.5 219.2 445.3 220.3 445.7 221.9Z" fill="#bae5ef"/>
<path d="M448.3 118.7 449.8 118.8 451.4 118.7 453.0 119.1 454.3 120.1 455.8 120.4 457.2 121.5 458.7 121.8 460.4 121.6 462.0 121.6 463.6 121.5 465.1 122.0 466.6 122.5 468.0 123.1 469.2 122.0 470.1 120.4 471.6 119.6 473.0 118.8 474.4 117.9 474.0 116.4 473.6 114.9 473.1 113.5 472.6 112.0 471.8 110.6 472.0 109.0 471.7 107.5 470.9 106.1 470.4 104.7 470.1 103.2 469.9 101.7 469.3 100.2 468.1 99.2 466.9 98.1 465.8 97.0 464.3 96.3 462.6 96.0 461.0 95.7 459.5 95.8 457.9 96.5 456.4 96.9 454.8 97.0 453.2 96.8 452.5 98.3 452.3 99.8 451.1 101.1 450.8 102.7 450.6 104.2 450.3 105.8 450.6 107.5 449.5 108.9 449.2 110.4 448.5 111.9 447.7 113.3 447.4 114.8 447.2 116.4Z" fill="#93d4ec"/>
<path d="M458.2 191.4 459.8 191.5 461.5 191.2 462.8 192.5 464.1 193.7 465.8 193.3 467.4 193.1 468.8 192.5 470.2 191.8 471.3 190.5 473.0 190.4 474.0 188.9 475.6 188.7 477.2 188.5 478.6 188.0 480.0 187.2 480.0 185.6 479.6 184.1 479.5 182.6 479.1 181.0 479.5 179.5 479.4 177.9 479.4 176.4 480.1 174.9 480.0 173.3 481.2 171.8 481.2 170.2 480.2 168.7 480.0 167.2 480.0 165.6 478.9 164.2 477.9 162.8 476.7 161.5 475.3 160.9 473.7 160.9 472.1 160.6 470.5 160.9 469.1 159.9 467.5 160.0 466.0 159.6 464.6 158.8 463.1 158.2 461.7 157.5 460.9 158.9 459.6 159.8 458.1 160.5 457.6 162.1 456.5 163.3 455.2 164.2 454.2 165.4 453.2 166.5 452.3 167.8 451.0 168.7 450.7 170.3 450.9 171.9 450.9 173.5 451.3 175.2 451.4 176.8 450.7 178.4 450.7 180.0 451.0 181.6 452.3 182.6 452.9 184.0 453.9 185.2 454.9 186.3 455.7 187.6 456.2 189.1 457.2 190.3Z" fill="#93d4ec"/>
<path d="M460.0 151.0 460.3 152.7 460.5 154.4 461.3 155.9 461.7 157.5 463.1 158.2 464.6 158.8 466.0 159.6 467.5 160.0 469.1 159.9 470.5 160.9 472.1 160.6 473.7 160.9 475.3 160.9 476.7 161.5 477.6 160.3 478.2 158.9 479.0 157.6 479.1 155.9 479.9 154.6 480.4 153.2 482.1 152.4 483.0 151.2 483.5 149.8 484.0 148.3 485.0 147.1 485.6 145.8 486.2 144.4 487.3 143.3 488.2 142.0 486.9 141.2 485.7 140.2 483.8 140.5 482.6 139.6 481.1 139.1 479.8 138.4 478.9 136.7 477.2 136.6 475.8 136.2 474.4 135.6 472.7 135.5 471.6 134.3 470.2 133.6 469.8 132.2 470.1 130.5 469.4 129.1 469.5 127.5 468.9 126.0 468.3 124.6 468.0 123.1 466.6 122.5 465.1 122.0 463.6 121.5 462.0 121.6 460.4 121.6 458.7 121.8 457.2 121.5 455.8 120.4 454.3 120.1 453.0 119.1 451.4 118.7 449.8 118.8 448.3 118.7 447.5 120.1 446.6 121.4 445.9 122.9 446.5 124.8 446.1 126.4 444.6 127.5 443.9 128.9 443.8 130.6 443.5 132.2 443.1 133.7 441.8 134.9 441.3 136.4 442.3 137.7 443.3 139.0 444.9 139.6 446.1 140.6 447.2 141.8 448.4 142.8 449.1 144.4 450.6 145.1 451.7 146.3 453.3 146.8 454.6 147.6 456.1 148.4 457.7 148.8 458.8 150.0Z" fill="#bae5ef"/>
<path d="M453.1 296.1 454.4 295.4 455.7 294.5 457.1 294.0 458.8 294.1 459.9 292.8 461.2 292.1 462.5 291.2 463.9 290.6 465.3 290.0 466.7 289.5 468.2 289.1 469.6 288.4 471.0 288.0 472.4 287.2 473.3 285.8 473.6 284.0 474.7 282.6 474.0 281.1 473.5 279.6 473.1 278.0 471.7 277.4 470.5 276.5 469.1 276.0 467.7 275.4 466.3 274.7 464.7 274.8 463.1 274.7 461.9 273.7 460.4 273.2 458.9 272.9 457.6 272.3 456.1 272.0 454.7 271.3 453.2 270.9 452.0 270.0 450.8 271.2 449.8 272.4 449.2 273.9 448.8 275.6 448.3 277.1 447.6 278.5 446.4 279.6 445.2 280.7 444.1 282.0 444.0 283.7 443.3 285.1 442.1 286.3 441.3 287.6 442.4 288.8 443.9 289.5 445.2 290.5 446.7 291.1 447.5 292.8 448.7 293.9 450.1 294.8 451.7 295.3Z" fill="#4cbfe0"/>
<path d="M456.2 231.8 457.2 233.1 457.8 234.6 458.9 235.8 458.4 237.9 459.4 239.2 461.1 240.1 462.2 241.4 462.8 242.9 462.6 244.8 463.8 245.9 465.3 246.4 466.7 246.9 468.1 247.8 469.3 248.8 470.8 249.1 472.5 248.8 473.9 249.3 475.4 249.9 477.0 249.8 478.5 250.2 479.7 251.3 481.2 251.7 481.9 250.4 482.3 248.9 483.7 247.9 484.0 246.4 485.0 245.2 485.8 243.9 486.2 242.3 486.5 240.8 487.4 239.6 488.6 238.5 489.3 237.2 490.1 235.9 490.7 234.5 491.9 233.4 492.3 231.9 493.1 230.6 493.3 229.0 494.3 227.8 495.0 226.4 494.1 225.0 493.9 223.4 493.0 222.0 491.5 221.8 489.9 222.1 488.4 221.6 486.9 221.4 485.4 220.6 483.8 221.2 482.3 220.6 480.9 219.9 479.3 219.6 477.8 219.3 476.3 219.5 474.8 219.1 473.2 219.1 471.6 219.2 470.2 219.9 469.6 221.7 468.2 222.6 467.0 223.6 465.9 224.8 464.3 225.3 462.7 225.9 460.9 226.2 459.3 226.7 458.4 228.1 457.2 229.2 456.1 230.4Z" fill="#4cbfe0"/>
<path d="M493.0 334.0 491.4 334.0 490.2 335.1 488.8 335.8 487.4 336.3 485.8 336.4 484.0 335.8 482.7 336.6 481.6 338.1 480.1 338.2 478.7 338.8 477.7 340.2 477.0 341.8 475.5 342.7 474.2 344.0 473.2 345.3 472.5 346.9 471.5 348.3 471.5 348.4 472.5 348.9 474.6 352.0 478.6 355.0 483.7 354.0 488.8 356.1 493.9 355.0 498.9 356.1 503.0 353.0 509.1 351.0 514.2 352.0 512.2 347.9 511.2 343.1 509.9 342.1 508.5 341.3 507.0 340.9 505.9 339.7 504.6 338.7 502.9 338.6 501.9 337.2 500.4 336.6 498.9 336.2 497.3 335.9 496.0 335.0 494.4 334.7Z" fill="#4cbfe0"/>
<path d="M452.0 270.0 453.2 270.9 454.7 271.3 456.1 272.0 457.6 272.3 458.9 272.9 460.4 273.2 461.9 273.7 463.1 274.7 464.7 274.8 466.3 274.7 467.7 275.4 469.1 276.0 470.5 276.5 471.7 277.4 473.1 278.0 474.3 276.9 474.9 275.5 475.1 273.9 476.1 272.7 476.3 271.1 476.7 269.6 477.8 268.5 479.2 267.5 480.3 266.4 481.4 265.3 482.0 263.9 482.6 262.5 482.6 260.7 483.3 259.4 484.3 258.2 484.1 256.3 482.5 255.1 481.4 253.6 481.2 251.7 479.7 251.3 478.5 250.2 477.0 249.8 475.4 249.9 473.9 249.3 472.5 248.8 470.8 249.1 469.3 248.8 468.1 247.8 466.7 246.9 465.3 246.4 463.8 245.9 462.7 247.0 462.2 248.5 460.9 249.5 460.3 250.9 460.1 252.6 459.7 254.1 458.6 255.2 457.9 256.6 456.5 257.5 455.7 258.8 455.0 260.2 453.8 261.2 453.1 262.5 452.7 264.1 451.8 265.3 450.9 266.5 451.7 268.2Z" fill="#4cbfe0"/>
<path d="M470.1 84.8 471.6 85.4 473.0 86.1 474.1 87.6 475.7 87.9 477.4 87.8 478.9 88.3 480.6 88.6 481.9 89.4 483.2 90.3 484.7 90.9 485.9 93.4 487.4 93.9 489.0 93.6 490.5 94.1 492.0 94.0 493.5 94.1 495.0 94.6 495.4 93.0 496.4 91.6 496.9 90.0 497.4 88.4 497.8 86.8 498.8 85.4 499.3 83.8 499.8 82.2 498.7 80.9 497.1 80.7 495.4 80.7 494.2 79.7 492.8 79.1 491.1 79.0 489.8 78.1 488.5 77.4 487.7 78.7 486.9 79.9 485.9 81.1 485.0 82.3 483.6 81.4 482.1 80.6 480.9 79.5 479.2 79.1 477.9 78.0 476.8 76.6 475.3 75.8 473.7 75.3 472.6 76.4 471.7 77.7 470.4 78.5 469.7 79.9 469.8 81.5 470.1 83.1Z" fill="#bae5ef"/>
<path d="M488.2 142.0 490.0 141.7 491.5 140.7 492.9 141.4 494.4 141.9 496.0 142.0 497.5 142.3 499.1 142.4 500.7 142.3 502.1 143.5 503.7 143.1 505.1 144.2 506.7 144.1 507.6 142.8 508.5 141.6 508.7 139.9 509.9 138.8 510.5 137.3 509.8 135.8 509.8 134.3 509.9 132.7 510.0 131.0 510.5 129.4 510.5 127.8 509.3 126.4 508.8 124.9 507.4 124.2 506.2 123.0 504.9 122.2 503.2 122.0 502.0 121.0 500.8 119.9 499.1 119.7 498.0 118.6 496.5 118.1 495.3 117.0 493.9 116.4 492.1 117.0 490.5 117.9 488.7 118.4 487.0 118.4 485.6 117.2 483.8 117.6 482.4 116.6 480.8 117.2 479.1 116.7 477.6 117.2 476.0 117.7 474.4 117.9 473.0 118.8 471.6 119.6 470.1 120.4 469.2 122.0 468.0 123.1 468.3 124.6 468.9 126.0 469.5 127.5 469.4 129.1 470.1 130.5 469.8 132.2 470.2 133.6 471.6 134.3 472.7 135.5 474.4 135.6 475.8 136.2 477.2 136.6 478.9 136.7 479.8 138.4 481.1 139.1 482.6 139.6 483.8 140.5 485.7 140.2 486.9 141.2Z" fill="#bae5ef"/>
<path d="M491.8 288.5 493.0 289.7 493.5 291.2 494.9 292.3 495.2 294.0 495.8 295.5 496.4 297.0 497.5 298.2 498.1 299.7 499.4 298.9 500.7 298.0 502.2 297.6 503.8 297.5 505.0 296.6 506.3 295.8 508.0 295.9 509.4 295.3 510.5 294.1 512.1 293.9 513.1 292.5 514.5 292.0 515.7 291.1 517.0 290.2 517.3 288.7 517.5 287.0 517.9 285.5 518.6 284.0 519.2 282.5 519.6 281.0 518.3 280.1 517.1 279.0 516.3 277.5 515.1 276.5 513.9 275.4 512.6 274.5 511.4 273.4 510.4 272.2 509.2 271.1 507.6 270.5 506.7 269.1 505.4 268.2 505.0 266.0 504.1 263.9 502.6 263.7 501.1 262.8 499.7 262.1 498.2 261.7 496.6 261.6 494.9 261.5 493.4 261.1 492.1 259.8 490.6 259.2 489.0 259.3 487.3 259.3 485.9 258.5 484.3 258.2 483.3 259.4 482.6 260.7 482.6 262.5 482.0 263.9 481.4 265.3 480.3 266.4 479.2 267.5 477.8 268.5 476.7 269.6 476.3 271.1 476.1 272.7 475.1 273.9 474.9 275.5 474.3 276.9 473.1 278.0 473.5 279.6 474.0 281.1 474.7 282.6 476.3 282.6 477.6 283.5 478.9 284.2 480.4 284.6 481.9 284.8 483.5 285.0 484.6 286.4 485.9 287.0 487.5 287.1 488.9 287.7 490.4 288.1Z" fill="#93d4ec"/>
<path d="M473.7 75.3 475.3 75.8 476.8 76.6 477.9 78.0 479.2 79.1 480.9 79.5 482.1 80.6 483.6 81.4 485.0 82.3 485.9 81.1 486.9 79.9 487.7 78.7 488.5 77.4 489.8 78.1 491.1 79.0 492.8 79.1 494.2 79.7 495.4 80.7 497.1 80.7 498.7 80.9 499.8 82.2 501.2 81.5 502.2 80.4 503.3 79.3 504.7 78.3 506.4 78.4 507.9 77.6 509.5 77.4 510.0 76.0 511.2 74.8 511.4 73.3 510.4 71.4 510.5 69.9 511.5 68.6 512.8 67.4 513.5 66.0 514.0 64.5 513.7 62.9 512.4 61.4 511.0 60.1 509.7 58.6 508.2 59.5 506.5 59.6 504.9 60.1 503.2 60.2 501.6 60.6 499.9 59.7 498.2 59.8 496.6 60.1 494.9 59.9 493.6 59.1 492.3 58.2 491.0 57.2 490.0 55.9 488.2 55.7 487.1 54.5 485.6 54.9 484.1 55.1 482.4 54.7 481.1 56.1 479.7 56.5 478.1 56.6 476.5 56.6 475.1 57.1 473.8 58.5 473.1 60.2 473.1 62.0 474.0 63.6 475.3 65.1 475.0 67.0 475.3 68.8 474.6 70.3 474.7 72.1 473.7 73.6Z" fill="#4cbfe0"/>
<path d="M469.3 100.2 469.9 101.7 470.1 103.2 470.4 104.7 470.9 106.1 471.7 107.5 472.0 109.0 471.8 110.6 472.6 112.0 473.1 113.5 473.6 114.9 474.0 116.4 474.4 117.9 476.0 117.7 477.6 117.2 479.1 116.7 480.8 117.2 482.4 116.6 482.3 115.1 482.6 113.6 482.6 112.0 482.5 110.5 482.9 109.0 482.9 107.4 482.3 105.8 483.1 104.4 483.2 102.8 484.0 101.4 483.7 99.8 483.8 98.3 484.4 96.8 484.3 95.2 485.9 93.4 484.7 90.9 483.2 90.3 481.9 89.4 480.6 88.6 478.9 88.3 477.4 87.8 475.7 87.9 474.1 87.6 473.0 86.1 471.6 85.4 470.1 84.8 469.8 86.4 468.6 87.4 467.2 88.2 466.5 89.6 465.4 90.7 465.5 92.5 464.5 93.7 463.3 94.7 462.6 96.0 464.3 96.3 465.8 97.0 466.9 98.1 468.1 99.2Z" fill="#bae5ef"/>
<path d="M471.6 219.2 473.2 219.1 474.8 219.1 476.3 219.5 477.8 219.3 479.3 219.6 480.9 219.9 482.3 220.6 483.8 221.2 485.4 220.6 486.9 221.4 488.4 221.6 489.9 222.1 491.5 221.8 493.0 222.0 493.6 220.5 493.9 218.9 494.8 217.5 495.9 216.2 496.0 214.5 496.0 212.8 496.7 211.3 497.7 210.0 498.2 208.4 497.3 207.2 496.2 206.0 494.8 205.1 493.7 204.1 492.8 202.8 492.4 201.2 491.5 199.9 491.6 197.9 490.8 196.6 490.1 195.2 488.6 194.3 486.9 193.7 485.6 192.8 485.0 191.3 484.3 189.9 483.4 188.6 481.6 188.2 480.0 187.2 478.6 188.0 477.2 188.5 475.6 188.7 474.0 188.9 473.0 190.4 471.3 190.5 470.2 191.8 468.8 192.5 467.4 193.1 465.8 193.3 466.3 194.8 466.0 196.5 466.5 198.0 467.3 199.4 468.4 200.7 468.2 202.4 468.7 203.9 468.5 205.5 468.5 207.1 469.0 208.6 468.9 210.2 469.9 211.6 470.3 213.1 470.4 214.7 470.7 216.2 471.5 217.6Z" fill="#bae5ef"/>
<path d="M472.4 287.2 472.5 288.8 472.5 290.4 472.1 292.0 472.9 293.5 472.4 295.1 472.4 296.7 473.0 298.3 472.8 299.9 473.8 301.4 474.0 302.9 473.9 304.5 474.2 306.1 473.9 307.7 473.7 309.3 473.6 310.9 473.8 312.4 474.0 312.6 475.6 312.4 477.2 312.2 478.7 311.7 480.3 311.8 481.9 311.6 483.5 311.7 485.0 311.5 486.6 311.1 488.2 311.5 489.7 310.7 491.3 310.9 492.8 310.3 494.4 310.3 496.7 308.6 497.0 307.1 496.3 305.5 497.6 304.2 498.1 302.7 498.3 301.2 498.1 299.7 497.5 298.2 496.4 297.0 495.8 295.5 495.2 294.0 494.9 292.3 493.5 291.2 493.0 289.7 491.8 288.5 490.4 288.1 488.9 287.7 487.5 287.1 485.9 287.0 484.6 286.4 483.5 285.0 481.9 284.8 480.4 284.6 478.9 284.2 477.6 283.5 476.3 282.6 474.7 282.6 473.6 284.0 473.3 285.8Z" fill="#93d4ec"/>
<path d="M493.0 334.0 494.4 334.7 496.0 335.0 497.3 335.9 498.9 336.2 500.4 336.6 501.9 337.2 502.9 338.6 504.6 338.7 505.9 339.7 507.0 340.9 508.5 341.3 509.9 342.1 511.2 343.1 511.1 342.8 510.1 336.7 511.1 330.7 512.2 324.6 516.2 320.5 517.7 319.6 516.4 318.8 514.7 318.5 513.4 317.6 512.2 316.5 510.7 315.9 509.4 315.0 507.9 314.4 506.6 313.7 505.4 312.6 504.0 311.8 502.5 311.3 501.3 310.1 499.4 310.3 498.2 309.3 496.7 308.6 494.4 310.3 492.8 310.3 491.3 310.9 489.7 310.7 488.2 311.5 486.6 311.1 485.0 311.5 483.5 311.7 481.9 311.6 480.3 311.8 478.7 311.7 477.2 312.2 475.6 312.4 474.0 312.6 474.4 314.1 474.7 315.6 474.5 317.3 474.8 318.8 474.3 320.5 475.6 321.8 475.9 323.4 476.6 324.8 477.3 326.3 476.9 328.0 477.4 329.5 477.6 331.0 478.5 332.4 478.3 334.1 477.9 335.7 478.3 337.2 478.7 338.8 480.1 338.2 481.6 338.1 482.7 336.6 484.0 335.8 485.8 336.4 487.4 336.3 488.8 335.8 490.2 335.1 491.4 334.0Z" fill="#16a2cc"/>
<path d="M498.8 23.3 500.5 23.5 502.0 24.2 503.4 25.4 505.2 24.7 506.9 24.4 508.3 25.5 508.7 27.0 509.4 28.4 509.2 30.1 509.9 31.5 509.8 33.2 510.9 34.4 512.0 35.7 512.8 37.0 513.1 38.6 513.7 40.0 515.3 39.2 517.0 39.1 518.8 39.3 520.3 38.5 521.7 39.4 523.0 40.3 524.3 41.3 526.0 41.7 527.1 42.9 528.7 43.4 529.6 44.9 530.6 46.3 531.8 47.4 533.4 48.0 534.9 48.6 536.3 49.5 537.5 50.4 538.7 49.4 539.6 48.2 540.6 47.1 541.2 45.6 539.3 45.6 539.1 41.5 537.3 37.8 537.9 33.5 535.5 31.7 530.6 29.9 527.0 29.9 523.3 26.8 519.6 23.8 514.8 22.0 513.5 17.1 510.5 12.8 506.2 13.4 503.2 15.2 498.9 12.2 496.5 7.3 495.9 2.4 494.6 0.0 491.6 1.2 484.3 2.4 480.9 3.5 481.7 4.8 482.3 6.1 482.8 7.6 483.6 8.9 483.8 10.4 484.7 11.6 485.3 13.0 485.9 14.4 486.3 15.8 487.8 16.3 489.3 16.6 490.8 16.5 492.2 17.4 493.8 17.2 495.3 17.3 495.6 19.1 497.6 20.0 497.6 22.0Z" fill="#16a2cc"/>
<path d="M487.1 54.5 488.2 55.7 490.0 55.9 491.0 57.2 492.3 58.2 493.6 59.1 494.9 59.9 496.6 60.1 498.2 59.8 499.9 59.7 501.6 60.6 503.2 60.2 504.9 60.1 506.5 59.6 508.2 59.5 509.7 58.6 510.1 57.1 510.3 55.6 509.7 54.0 509.3 52.4 509.3 50.9 510.4 49.5 511.4 48.0 511.8 46.5 510.7 44.9 510.9 43.4 509.4 43.0 507.8 42.9 506.4 41.9 504.8 41.7 503.3 41.1 501.4 41.9 500.0 41.2 498.6 40.2 497.1 39.5 495.7 38.6 494.1 38.6 492.4 38.5 490.9 38.1 490.8 38.1 489.2 37.7 487.8 36.8 486.8 35.4 485.3 34.8 484.0 33.7 482.3 33.6 480.6 33.6 479.1 32.9 477.9 31.8 476.3 31.4 475.2 30.1 473.7 29.6 472.1 29.8 470.4 29.4 468.8 30.2 469.9 34.6 468.3 37.9 467.1 39.1 468.0 40.4 468.5 41.8 468.4 43.5 468.8 45.0 469.6 46.3 470.3 47.7 471.7 48.7 472.7 49.9 473.5 51.2 473.7 52.8 473.6 54.5 474.2 55.8 475.1 57.1 476.5 56.6 478.1 56.6 479.7 56.5 481.1 56.1 482.4 54.7 484.1 55.1 485.6 54.9Z" fill="#4cbfe0"/>
<path d="M480.0 187.2 481.6 188.2 483.4 188.6 484.8 188.1 486.1 187.4 487.3 186.3 488.7 185.7 490.1 185.1 491.5 184.6 493.2 184.7 494.5 183.9 496.2 183.9 497.3 182.7 498.7 182.1 499.8 180.8 501.1 180.0 502.3 179.2 503.8 178.8 505.1 178.0 506.5 177.4 507.9 176.8 509.4 176.4 510.8 175.8 510.4 174.3 509.7 172.9 509.0 171.4 507.8 170.3 507.3 168.8 507.1 167.1 506.2 165.8 505.6 164.3 505.9 162.8 506.4 161.2 506.3 159.5 506.5 157.9 506.9 156.4 508.5 155.1 508.7 153.5 508.6 151.8 508.9 150.2 507.9 148.8 508.4 147.0 507.2 145.6 506.7 144.1 505.1 144.2 503.7 143.1 502.1 143.5 500.7 142.3 499.1 142.4 497.5 142.3 496.0 142.0 494.4 141.9 492.9 141.4 491.5 140.7 490.0 141.7 488.2 142.0 487.3 143.3 486.2 144.4 485.6 145.8 485.0 147.1 484.0 148.3 483.5 149.8 483.0 151.2 482.1 152.4 480.4 153.2 479.9 154.6 479.1 155.9 479.0 157.6 478.2 158.9 477.6 160.3 476.7 161.5 477.9 162.8 478.9 164.2 480.0 165.6 480.0 167.2 480.2 168.7 481.2 170.2 481.2 171.8 480.0 173.3 480.1 174.9 479.4 176.4 479.4 177.9 479.5 179.5 479.1 181.0 479.5 182.6 479.6 184.1 480.0 185.6Z" fill="#4cbfe0"/>
<path d="M484.3 95.2 484.4 96.8 483.8 98.3 483.7 99.8 484.0 101.4 483.2 102.8 483.1 104.4 482.3 105.8 482.9 107.4 482.9 109.0 482.5 110.5 482.6 112.0 482.6 113.6 482.3 115.1 482.4 116.6 483.8 117.6 485.6 117.2 487.0 118.4 488.7 118.4 490.5 117.9 492.1 117.0 493.9 116.4 494.9 115.0 494.9 113.0 496.2 111.8 496.6 110.1 497.7 108.8 498.6 107.3 498.6 105.7 498.4 104.1 497.8 102.6 497.8 101.0 497.1 99.5 497.2 97.9 496.8 96.3 495.0 94.6 493.5 94.1 492.0 94.0 490.5 94.1 489.0 93.6 487.4 93.9 485.9 93.4Z" fill="#93d4ec"/>
<path d="M484.3 258.2 485.9 258.5 487.3 259.3 489.0 259.3 490.6 259.2 492.1 259.8 493.4 261.1 494.9 261.5 496.6 261.6 498.2 261.7 499.7 262.1 501.1 262.8 502.6 263.7 504.1 263.9 504.8 262.5 506.1 261.6 507.1 260.4 508.5 259.6 509.7 258.6 510.6 257.3 511.8 256.3 512.1 254.6 513.0 253.4 513.3 251.7 514.6 250.7 515.5 249.5 515.0 248.0 515.7 246.3 514.9 244.8 514.4 243.3 514.4 241.7 514.1 240.1 514.7 238.5 514.1 236.9 512.6 236.4 511.2 235.7 509.9 234.8 508.7 233.7 507.6 232.6 506.0 232.1 504.5 231.6 503.1 231.0 501.6 230.6 500.2 229.8 498.8 229.2 497.5 228.2 496.4 227.1 495.0 226.4 494.3 227.8 493.3 229.0 493.1 230.6 492.3 231.9 491.9 233.4 490.7 234.5 490.1 235.9 489.3 237.2 488.6 238.5 487.4 239.6 486.5 240.8 486.2 242.3 485.8 243.9 485.0 245.2 484.0 246.4 483.7 247.9 482.3 248.9 481.9 250.4 481.2 251.7 481.4 253.6 482.5 255.1 484.1 256.3Z" fill="#93d4ec"/>
<path d="M495.0 226.4 496.4 227.1 497.5 228.2 498.8 229.2 500.2 229.8 501.6 230.6 503.1 231.0 504.5 231.6 506.0 232.1 507.6 232.6 508.7 233.7 509.9 234.8 511.2 235.7 512.6 236.4 514.1 236.9 515.3 236.0 517.0 235.7 518.3 234.8 519.4 233.6 520.3 232.1 521.3 230.8 523.0 230.4 524.5 229.9 525.8 228.9 526.9 227.7 527.1 225.9 528.1 224.4 528.4 222.6 529.2 221.1 528.8 219.4 527.3 218.2 526.8 216.6 526.4 215.0 526.9 213.1 526.8 211.4 525.7 210.0 525.5 208.3 524.8 206.8 523.1 207.0 521.5 206.6 520.1 205.3 518.6 204.2 517.1 203.8 515.3 204.3 513.5 204.5 512.0 203.7 510.4 203.6 508.8 203.1 507.3 204.0 505.8 204.7 504.4 205.7 503.0 206.6 501.3 207.0 499.7 207.7 498.2 208.4 497.7 210.0 496.7 211.3 496.0 212.8 496.0 214.5 495.9 216.2 494.8 217.5 493.9 218.9 493.6 220.5 493.0 222.0 493.9 223.4 494.1 225.0Z" fill="#bae5ef"/>
<path d="M496.8 96.3 497.2 97.9 497.1 99.5 497.8 101.0 497.8 102.6 498.4 104.1 498.6 105.7 498.6 107.3 497.7 108.8 496.6 110.1 496.2 111.8 494.9 113.0 494.9 115.0 493.9 116.4 495.3 117.0 496.5 118.1 498.0 118.6 499.1 119.7 500.8 119.9 502.0 121.0 503.2 122.0 504.9 122.2 506.2 123.0 507.4 124.2 508.8 124.9 509.4 123.4 510.6 122.4 511.5 121.2 513.1 120.5 514.3 119.5 514.5 117.7 515.2 116.3 515.5 114.6 516.7 113.6 518.1 112.7 519.3 111.7 520.2 110.5 521.1 109.2 521.9 108.7 522.7 107.3 522.4 105.6 523.6 104.3 523.9 102.8 522.9 101.2 522.7 99.5 522.0 97.9 521.7 96.1 520.8 94.6 520.2 93.0 520.2 92.9 519.5 91.5 518.6 90.2 517.6 89.0 516.4 87.9 515.8 86.4 514.6 85.3 513.9 83.9 513.5 82.3 512.2 81.3 511.1 80.2 510.6 78.6 509.5 77.4 507.9 77.6 506.4 78.4 504.7 78.3 503.3 79.3 502.2 80.4 501.2 81.5 499.8 82.2 499.3 83.8 498.8 85.4 497.8 86.8 497.4 88.4 496.9 90.0 496.4 91.6 495.4 93.0 495.0 94.6Z" fill="#bae5ef"/>
<path d="M558.8 291.2 558.1 289.7 557.1 288.2 556.9 286.6 557.9 284.8 557.4 283.2 557.0 281.6 556.7 280.0 555.1 280.1 553.5 280.4 551.9 280.8 550.3 279.9 548.7 279.6 547.1 279.2 545.5 279.3 543.9 280.0 542.3 280.1 540.7 279.7 539.1 280.0 537.5 280.0 536.1 278.6 534.4 277.7 532.6 277.0 531.2 277.5 529.7 277.6 528.3 278.4 527.2 279.8 525.9 280.8 524.1 280.2 522.6 280.3 520.9 280.1 519.6 281.0 519.2 282.5 518.6 284.0 517.9 285.5 517.5 287.0 517.3 288.7 517.0 290.2 517.7 291.6 518.5 292.9 519.7 293.9 520.0 295.5 521.4 296.3 522.3 297.5 523.2 298.8 524.0 300.0 524.5 301.5 525.0 303.0 526.0 304.2 527.3 305.1 528.4 306.1 529.3 307.3 530.1 308.6 530.8 309.9 531.5 311.3 533.5 310.3 536.5 309.5 539.8 307.9 543.0 308.7 543.5 308.8 544.4 307.5 545.2 306.2 546.5 305.2 547.6 304.1 548.7 303.0 549.4 301.6 550.5 300.5 551.8 299.5 552.8 298.3 554.3 297.6 555.1 296.3 556.3 295.2 556.8 293.6 557.9 292.5Z" fill="#93d4ec"/>
<path d="M592.5 299.5 591.3 298.3 589.9 297.3 589.1 295.8 588.0 294.4 586.5 293.5 585.0 293.9 583.5 294.4 581.9 294.5 580.4 295.0 578.8 295.2 577.4 296.3 575.9 296.7 574.5 297.4 573.0 298.2 571.3 297.9 569.8 298.6 568.3 297.9 567.6 296.0 566.4 294.7 564.6 294.4 562.9 294.0 561.3 293.4 559.8 292.7 558.8 291.2 557.9 292.5 556.8 293.6 556.3 295.2 555.1 296.3 554.3 297.6 552.8 298.3 551.8 299.5 550.5 300.5 549.4 301.6 548.7 303.0 547.6 304.1 546.5 305.2 545.2 306.2 544.4 307.5 543.5 308.8 546.3 309.5 551.1 310.3 555.2 312.0 556.8 314.4 561.7 313.6 564.1 311.1 565.8 312.8 569.0 314.4 573.9 315.2 578.8 315.2 580.4 318.5 585.3 320.1 589.3 320.9 590.1 321.5 590.2 319.9 590.0 318.3 590.8 316.8 591.5 315.3 591.5 313.7 590.8 312.0 590.7 310.4 590.6 308.8 591.9 307.4 591.6 305.7 591.9 304.2 591.8 302.6 592.1 301.0Z" fill="#93d4ec"/>
<path d="M536.3 194.0 535.7 192.6 535.5 191.0 535.0 189.6 534.1 188.3 533.7 186.8 533.6 185.2 532.4 184.0 531.2 182.9 529.6 182.0 529.0 180.6 528.7 179.0 528.4 177.5 526.9 177.3 525.4 176.4 523.8 176.7 522.3 177.1 520.7 176.8 519.2 176.8 517.6 177.2 516.0 177.4 514.5 176.9 513.0 177.0 511.5 176.4 510.8 175.8 509.4 176.4 507.9 176.8 506.5 177.4 505.1 178.0 503.8 178.8 502.3 179.2 501.1 180.0 499.8 180.8 498.7 182.1 497.3 182.7 496.2 183.9 494.5 183.9 493.2 184.7 491.5 184.6 490.1 185.1 488.7 185.7 487.3 186.3 486.1 187.4 484.8 188.1 483.4 188.6 484.3 189.9 485.0 191.3 485.6 192.8 486.9 193.7 488.6 194.3 490.1 195.2 490.8 196.6 491.6 197.9 491.5 199.9 492.4 201.2 492.8 202.8 493.7 204.1 494.8 205.1 496.2 206.0 497.3 207.2 498.2 208.4 499.7 207.7 501.3 207.0 503.0 206.6 504.4 205.7 505.8 204.7 507.3 204.0 508.8 203.1 510.4 203.6 512.0 203.7 513.5 204.5 515.3 204.3 517.1 203.8 518.6 204.2 520.1 205.3 521.5 206.6 523.1 207.0 524.8 206.8 525.8 205.6 527.0 204.6 528.0 203.4 529.0 202.1 529.7 200.7 530.7 199.5 532.4 198.9 533.4 197.6 534.4 196.5 535.5 195.4Z" fill="#4cbfe0"/>
<path d="M510.8 175.8 511.5 176.4 513.0 177.0 514.5 176.9 516.0 177.4 517.6 177.2 519.2 176.8 520.7 176.8 522.3 177.1 523.8 176.7 525.4 176.4 526.9 177.3 528.4 177.5 529.0 176.1 530.0 174.9 531.1 173.9 533.0 173.4 533.8 172.1 534.8 171.0 535.1 169.3 535.2 167.5 536.0 166.2 536.9 165.0 538.1 164.0 539.8 163.4 540.5 162.0 541.4 160.9 541.4 158.9 540.4 157.1 540.4 155.2 538.9 154.8 537.4 154.6 535.9 154.6 534.3 154.7 532.9 154.1 531.4 153.9 529.8 154.4 528.4 153.4 526.9 153.1 525.4 152.7 523.9 152.6 522.4 152.3 520.9 152.0 519.4 152.1 517.9 151.5 516.3 151.9 514.9 151.2 513.4 151.1 512.0 150.4 510.4 150.6 508.9 150.2 508.6 151.8 508.7 153.5 508.5 155.1 506.9 156.4 506.5 157.9 506.3 159.5 506.4 161.2 505.9 162.8 505.6 164.3 506.2 165.8 507.1 167.1 507.3 168.8 507.8 170.3 509.0 171.4 509.7 172.9 510.4 174.3Z" fill="#93d4ec"/>
<path d="M509.7 58.6 511.0 60.1 512.4 61.4 513.7 62.9 514.0 64.5 513.5 66.0 512.8 67.4 511.5 68.6 510.5 69.9 510.4 71.4 511.4 73.3 511.2 74.8 510.0 76.0 509.5 77.4 510.6 78.6 511.1 80.2 512.2 81.3 513.5 82.3 513.9 83.9 514.6 85.3 515.8 86.4 516.4 87.9 517.6 89.0 518.6 90.2 519.5 91.5 520.2 92.9 521.2 91.7 522.5 90.8 523.3 89.3 524.1 87.9 525.7 87.2 526.6 85.9 528.4 85.4 529.3 84.0 530.1 82.5 530.5 80.8 531.8 79.8 533.5 79.2 534.7 78.1 535.6 76.8 536.5 75.5 536.0 74.0 535.2 72.7 534.9 71.1 534.0 69.8 533.4 68.4 532.9 66.9 532.3 65.5 531.5 64.2 531.8 62.5 532.7 61.2 534.5 60.4 535.1 58.9 535.3 57.1 535.8 55.6 537.3 54.6 537.7 52.5 537.5 50.4 536.3 49.5 534.9 48.6 533.4 48.0 531.8 47.4 530.6 46.3 529.6 44.9 528.7 43.4 527.1 42.9 526.0 41.7 524.3 41.3 523.0 40.3 521.7 39.4 520.3 38.5 518.8 39.3 517.0 39.1 515.3 39.2 513.7 40.0 512.4 41.7 510.9 43.4 510.7 44.9 511.8 46.5 511.4 48.0 510.4 49.5 509.3 50.9 509.3 52.4 509.7 54.0 510.3 55.6 510.1 57.1Z" fill="#4cbfe0"/>
<path d="M506.7 144.1 507.2 145.6 508.4 147.0 507.9 148.8 508.9 150.2 510.4 150.6 512.0 150.4 513.4 151.1 514.9 151.2 516.3 151.9 517.9 151.5 519.4 152.1 520.9 152.0 522.4 152.3 523.9 152.6 525.4 152.7 526.9 153.1 528.4 153.4 529.8 154.4 531.4 153.9 532.9 154.1 534.3 154.7 535.9 154.6 537.4 154.6 538.9 154.8 540.4 155.2 540.4 155.0 540.3 153.4 540.1 151.9 539.8 150.3 540.0 148.8 538.9 147.3 538.3 145.8 538.4 144.2 538.4 142.6 538.6 141.0 539.5 139.4 539.4 137.8 538.8 136.3 538.8 134.7 538.0 133.3 538.1 131.7 537.8 130.1 537.2 129.9 536.6 128.5 536.0 127.0 535.5 125.5 534.2 124.5 532.7 123.7 531.2 122.9 529.7 122.1 528.4 121.1 528.3 119.3 527.3 118.1 527.7 115.9 527.3 114.4 526.5 113.0 525.3 112.0 524.3 110.8 522.9 109.9 521.9 108.7 521.1 109.2 520.2 110.5 519.3 111.7 518.1 112.7 516.7 113.6 515.5 114.6 515.2 116.3 514.5 117.7 514.3 119.5 513.1 120.5 511.5 121.2 510.6 122.4 509.4 123.4 508.8 124.9 509.3 126.4 510.5 127.8 510.5 129.4 510.0 131.0 509.9 132.7 509.8 134.3 509.8 135.8 510.5 137.3 509.9 138.8 508.7 139.9 508.5 141.6 507.6 142.8Z" fill="#16a2cc"/>
<path d="M505.4 268.2 506.7 269.1 507.6 270.5 509.2 271.1 510.4 272.2 511.4 273.4 512.6 274.5 513.9 275.4 515.1 276.5 516.3 277.5 517.1 279.0 518.3 280.1 519.6 281.0 520.9 280.1 522.6 280.3 524.1 280.2 525.9 280.8 527.2 279.8 528.3 278.4 529.7 277.6 531.2 277.5 532.6 277.0 532.5 275.3 532.1 273.7 532.5 272.1 532.1 270.4 532.6 268.9 533.3 267.3 533.4 265.7 534.2 264.1 534.6 262.6 534.7 261.0 534.4 259.3 534.3 257.7 532.8 257.1 531.6 255.9 530.1 255.5 528.4 255.6 526.9 255.0 525.4 254.5 524.1 253.6 522.7 252.8 521.6 251.4 520.1 250.8 518.5 250.6 517.0 250.1 515.5 249.5 514.6 250.7 513.3 251.7 513.0 253.4 512.1 254.6 511.8 256.3 510.6 257.3 509.7 258.6 508.5 259.6 507.1 260.4 506.1 261.6 504.8 262.5 504.1 263.9 505.0 266.0Z" fill="#93d4ec"/>
<path d="M517.0 290.2 515.7 291.1 514.5 292.0 513.1 292.5 512.1 293.9 510.5 294.1 509.4 295.3 508.0 295.9 506.3 295.8 505.0 296.6 503.8 297.5 502.2 297.6 500.7 298.0 499.4 298.9 498.1 299.7 498.3 301.2 498.1 302.7 497.6 304.2 496.3 305.5 497.0 307.1 496.7 308.6 498.2 309.3 499.4 310.3 501.3 310.1 502.5 311.3 504.0 311.8 505.4 312.6 506.6 313.7 507.9 314.4 509.4 315.0 510.7 315.9 512.2 316.5 513.4 317.6 514.7 318.5 516.4 318.8 517.7 319.6 521.3 317.4 527.4 313.4 531.5 311.3 530.8 309.9 530.1 308.6 529.3 307.3 528.4 306.1 527.3 305.1 526.0 304.2 525.0 303.0 524.5 301.5 524.0 300.0 523.2 298.8 522.3 297.5 521.4 296.3 520.0 295.5 519.7 293.9 518.5 292.9 517.7 291.6Z" fill="#93d4ec"/>
<path d="M585.5 70.1 586.7 72.0 588.7 73.0 589.2 74.5 589.0 76.1 588.7 77.7 590.2 79.1 589.8 80.7 591.3 81.8 592.9 82.5 594.3 83.7 594.8 85.2 595.3 86.6 596.0 88.0 597.2 88.8 598.8 89.1 600.4 89.3 601.4 90.7 602.6 91.8 604.1 92.1 605.4 94.8 606.7 95.4 608.2 95.9 609.3 97.2 610.5 98.3 612.1 98.3 613.6 98.5 615.0 99.0 616.6 99.1 618.1 99.4 619.4 98.3 620.6 97.3 621.2 95.8 622.2 94.5 623.2 93.3 624.3 92.1 624.5 90.5 624.0 89.0 625.0 87.8 625.5 86.1 626.7 85.0 628.2 84.3 629.2 83.1 630.6 82.2 632.0 81.4 633.3 80.4 634.0 79.0 628.9 77.7 626.0 74.1 621.8 75.5 617.5 75.5 613.2 73.4 609.0 74.1 604.7 71.3 600.4 65.6 594.7 62.7 590.5 62.7 585.5 64.1 585.9 65.6 585.1 67.1 585.6 68.6Z" fill="#93d4ec"/>
<path d="M523.9 102.8 525.5 102.6 527.1 102.6 528.6 101.8 530.1 101.4 531.7 101.2 533.3 101.1 534.9 100.9 536.5 100.4 538.1 100.9 539.7 101.0 541.3 100.7 542.9 100.8 544.5 100.9 546.1 100.6 547.9 101.4 549.8 102.0 551.5 103.0 553.3 102.5 554.5 101.0 556.0 100.1 556.4 98.5 557.7 97.3 558.7 96.0 558.6 94.2 559.0 92.6 558.8 90.8 559.6 89.4 560.1 87.8 561.2 86.5 562.3 85.2 562.4 83.5 561.5 82.1 561.1 80.4 559.5 79.6 558.2 78.5 557.4 77.1 556.7 75.6 555.2 75.5 553.7 75.6 552.2 75.4 550.7 75.0 549.2 75.3 547.7 75.3 546.1 75.4 544.7 75.9 543.2 76.4 541.7 76.2 540.2 76.8 538.6 76.4 536.5 75.5 535.6 76.8 534.7 78.1 533.5 79.2 531.8 79.8 530.5 80.8 530.1 82.5 529.3 84.0 528.4 85.4 526.6 85.9 525.7 87.2 524.1 87.9 523.3 89.3 522.5 90.8 521.2 91.7 520.2 92.9 520.2 93.0 520.8 94.6 521.7 96.1 522.0 97.9 522.7 99.5 522.9 101.2Z" fill="#93d4ec"/>
<path d="M514.1 236.9 514.7 238.5 514.1 240.1 514.4 241.7 514.4 243.3 514.9 244.8 515.7 246.3 515.0 248.0 515.5 249.5 517.0 250.1 518.5 250.6 520.1 250.8 521.6 251.4 522.7 252.8 524.1 253.6 525.4 254.5 526.9 255.0 528.4 255.6 530.1 255.5 531.6 255.9 532.8 257.1 534.3 257.7 535.3 257.1 536.3 255.8 537.2 254.5 537.3 252.8 537.6 251.1 537.9 249.5 538.4 248.0 539.5 246.7 540.2 245.3 541.0 243.9 541.3 242.3 542.1 240.9 543.0 239.6 541.9 238.5 540.7 237.6 539.5 236.6 538.2 235.8 536.9 234.9 535.5 234.2 533.9 233.8 532.9 232.5 531.4 232.0 530.8 230.2 529.5 229.3 528.2 228.5 526.9 227.7 525.8 228.9 524.5 229.9 523.0 230.4 521.3 230.8 520.3 232.1 519.4 233.6 518.3 234.8 517.0 235.7 515.3 236.0Z" fill="#93d4ec"/>
<path d="M521.9 108.7 522.9 109.9 524.3 110.8 525.3 112.0 526.5 113.0 527.3 114.4 527.7 115.9 527.3 118.1 528.3 119.3 528.4 121.1 529.7 122.1 531.2 122.9 532.7 123.7 534.2 124.5 535.5 125.5 536.0 127.0 536.6 128.5 537.2 129.9 537.8 130.1 539.3 129.8 540.5 128.5 541.7 127.6 543.2 127.1 544.6 126.4 545.8 125.3 547.5 125.2 548.9 124.6 550.2 123.6 551.5 122.8 551.3 121.3 551.7 119.7 551.5 118.2 551.9 116.7 551.9 115.2 551.9 113.7 551.1 112.1 551.5 110.6 551.1 109.1 551.0 107.6 551.1 106.1 551.6 104.5 551.5 103.0 549.8 102.0 547.9 101.4 546.1 100.6 544.5 100.9 542.9 100.8 541.3 100.7 539.7 101.0 538.1 100.9 536.5 100.4 534.9 100.9 533.3 101.1 531.7 101.2 530.1 101.4 528.6 101.8 527.1 102.6 525.5 102.6 523.9 102.8 523.6 104.3 522.4 105.6 522.7 107.3Z" fill="#bae5ef"/>
<path d="M526.9 227.7 528.2 228.5 529.5 229.3 530.8 230.2 531.4 232.0 532.9 232.5 533.9 233.8 535.5 234.2 536.9 234.9 538.2 235.8 539.5 236.6 540.7 237.6 541.9 238.5 543.0 239.6 544.6 238.9 546.2 238.8 547.8 238.4 549.5 238.5 551.0 237.6 552.5 236.8 554.1 236.4 555.9 236.9 557.5 236.3 558.2 234.6 558.3 232.9 558.0 231.2 557.3 229.5 556.5 227.9 557.5 226.2 557.5 224.5 556.3 223.4 555.0 222.7 553.9 221.6 552.2 221.3 550.9 220.6 549.7 219.6 548.3 218.9 547.0 218.1 547.2 216.5 547.2 214.9 547.3 213.3 547.7 211.7 547.5 210.1 547.7 208.5 547.2 206.9 546.6 205.3 546.2 203.7 547.1 202.1 547.3 200.5 547.4 198.9 546.9 197.3 547.0 195.8 545.5 195.4 544.1 194.3 542.5 194.3 541.0 194.3 539.3 194.9 537.8 194.5 536.3 194.0 535.5 195.4 534.4 196.5 533.4 197.6 532.4 198.9 530.7 199.5 529.7 200.7 529.0 202.1 528.0 203.4 527.0 204.6 525.8 205.6 524.8 206.8 525.5 208.3 525.7 210.0 526.8 211.4 526.9 213.1 526.4 215.0 526.8 216.6 527.3 218.2 528.8 219.4 529.2 221.1 528.4 222.6 528.1 224.4 527.1 225.9Z" fill="#93d4ec"/>
<path d="M536.3 194.0 537.8 194.5 539.3 194.9 541.0 194.3 542.5 194.3 544.1 194.3 545.5 195.4 547.0 195.8 548.7 195.7 550.2 195.0 551.7 194.4 553.3 194.1 554.8 193.4 555.1 192.9 556.7 192.6 558.1 191.5 559.4 190.6 561.0 190.1 562.5 189.6 564.3 189.7 566.0 189.6 567.6 189.4 569.0 188.5 570.3 187.4 571.9 186.9 572.4 185.3 572.5 183.6 573.3 182.1 573.6 180.4 574.3 178.9 573.2 177.6 572.0 176.4 571.4 174.9 570.4 173.5 569.6 172.1 569.1 170.5 568.4 169.0 568.1 167.3 567.1 166.0 565.6 165.9 564.0 165.1 562.5 165.7 561.1 166.0 559.5 165.5 558.1 166.2 556.6 167.2 555.2 167.5 553.6 167.3 552.1 167.3 550.4 167.0 549.5 165.6 548.2 164.7 546.8 164.1 545.2 163.7 544.1 162.5 542.7 161.7 541.4 160.9 540.5 162.0 539.8 163.4 538.1 164.0 536.9 165.0 536.0 166.2 535.2 167.5 535.1 169.3 534.8 171.0 533.8 172.1 533.0 173.4 531.1 173.9 530.0 174.9 529.0 176.1 528.4 177.5 528.7 179.0 529.0 180.6 529.6 182.0 531.2 182.9 532.4 184.0 533.6 185.2 533.7 186.8 534.1 188.3 535.0 189.6 535.5 191.0 535.7 192.6Z" fill="#93d4ec"/>
<path d="M537.5 50.4 537.7 52.5 537.3 54.6 535.8 55.6 535.3 57.1 535.1 58.9 534.5 60.4 532.7 61.2 531.8 62.5 531.5 64.2 532.3 65.5 532.9 66.9 533.4 68.4 534.0 69.8 534.9 71.1 535.2 72.7 536.0 74.0 536.5 75.5 538.6 76.4 540.2 76.8 541.7 76.2 543.2 76.4 544.7 75.9 546.1 75.4 547.7 75.3 549.2 75.3 550.7 75.0 552.2 75.4 553.7 75.6 555.2 75.5 556.7 75.6 557.0 74.0 558.1 72.7 558.1 71.0 559.0 69.6 559.4 68.1 559.6 66.5 560.1 65.0 560.9 63.5 561.1 61.9 562.3 60.5 563.8 59.3 565.5 58.4 566.7 56.9 563.4 54.9 557.0 51.3 556.3 45.6 556.3 38.5 554.9 37.1 552.8 40.0 550.6 44.2 546.4 45.6 541.2 45.6 540.6 47.1 539.6 48.2 538.7 49.4Z" fill="#4cbfe0"/>
<path d="M535.3 257.1 534.3 257.7 534.4 259.3 534.7 261.0 534.6 262.6 534.2 264.1 533.4 265.7 533.3 267.3 532.6 268.9 532.1 270.4 532.5 272.1 532.1 273.7 532.5 275.3 532.6 277.0 534.4 277.7 536.1 278.6 537.5 280.0 539.1 280.0 540.7 279.7 542.3 280.1 543.9 280.0 545.5 279.3 547.1 279.2 548.7 279.6 550.3 279.9 551.9 280.8 553.5 280.4 555.1 280.1 556.7 280.0 558.1 278.6 559.0 276.8 559.1 275.2 559.3 273.7 558.9 272.1 558.9 270.6 559.2 269.0 558.7 267.5 559.0 265.9 558.9 264.3 558.6 262.8 559.3 261.2 558.6 259.7 559.0 258.1 558.6 256.6 559.0 255.0 559.2 253.5 558.9 251.9 558.8 250.4 559.1 248.8 559.6 247.2 559.5 245.7 559.4 244.1 558.9 242.6 558.8 241.0 558.9 239.5 559.0 237.9 557.5 236.3 555.9 236.9 554.1 236.4 552.5 236.8 551.0 237.6 549.5 238.5 547.8 238.4 546.2 238.8 544.6 238.9 543.0 239.6 542.1 240.9 541.3 242.3 541.0 243.9 540.2 245.3 539.5 246.7 538.4 248.0 537.9 249.5 537.6 251.1 537.3 252.8 537.2 254.5 536.3 255.8Z" fill="#93d4ec"/>
<path d="M540.4 155.2 540.4 157.1 541.4 158.9 541.4 160.9 542.7 161.7 544.1 162.5 545.2 163.7 546.8 164.1 548.2 164.7 549.5 165.6 550.4 167.0 552.1 167.3 553.6 167.3 555.2 167.5 556.6 167.2 558.1 166.2 559.5 165.5 561.1 166.0 562.5 165.7 564.0 165.1 565.6 165.9 567.1 166.0 568.1 164.8 568.8 163.5 569.1 161.8 569.8 160.5 570.5 159.1 571.6 158.0 573.0 157.2 573.6 155.7 575.1 154.9 575.4 153.3 576.4 152.1 577.0 150.7 576.4 149.0 575.1 147.6 574.1 146.1 572.7 145.0 571.0 144.7 569.7 143.5 567.6 144.0 566.2 143.0 565.4 141.6 565.3 139.9 564.6 138.6 563.3 137.5 562.7 136.1 561.4 135.1 560.2 134.0 558.9 133.0 559.0 131.1 558.2 129.8 558.0 128.2 557.3 126.8 556.1 125.7 555.3 124.4 553.4 123.4 551.5 122.8 550.2 123.6 548.9 124.6 547.5 125.2 545.8 125.3 544.6 126.4 543.2 127.1 541.7 127.6 540.5 128.5 539.3 129.8 537.8 130.1 538.1 131.7 538.0 133.3 538.8 134.7 538.8 136.3 539.4 137.8 539.5 139.4 538.6 141.0 538.4 142.6 538.4 144.2 538.3 145.8 538.9 147.3 540.0 148.8 539.8 150.3 540.1 151.9 540.3 153.4 540.4 155.0Z" fill="#93d4ec"/>
<path d="M557.5 224.5 558.6 223.4 559.5 221.9 560.6 220.8 562.6 220.5 563.9 219.5 564.5 217.8 565.2 216.2 566.4 215.1 567.8 214.2 566.8 213.0 566.4 211.5 565.6 210.2 564.2 209.2 563.3 208.0 562.0 207.0 561.3 205.6 560.2 204.5 559.7 203.0 559.4 201.3 558.3 200.2 557.5 198.9 556.8 197.6 556.2 196.2 555.4 194.9 554.8 193.4 553.3 194.1 551.7 194.4 550.2 195.0 548.7 195.7 547.0 195.8 546.9 197.3 547.4 198.9 547.3 200.5 547.1 202.1 546.2 203.7 546.6 205.3 547.2 206.9 547.7 208.5 547.5 210.1 547.7 211.7 547.3 213.3 547.2 214.9 547.2 216.5 547.0 218.1 548.3 218.9 549.7 219.6 550.9 220.6 552.2 221.3 553.9 221.6 555.0 222.7 556.3 223.4Z" fill="#bae5ef"/>
<path d="M559.0 237.9 560.6 238.0 562.2 238.2 563.8 238.4 565.3 238.9 566.9 239.2 568.5 239.2 570.1 239.3 571.8 238.3 573.3 238.4 574.9 238.6 576.4 239.7 578.0 239.6 578.4 241.1 578.6 242.6 578.9 244.1 579.4 245.5 578.9 247.2 579.2 248.7 579.9 250.0 580.5 251.4 581.1 252.9 581.6 254.3 582.2 255.7 582.4 257.2 583.9 258.1 585.2 259.3 586.6 258.5 588.3 258.2 589.7 257.4 590.5 255.8 592.0 255.2 593.4 254.4 594.4 253.1 595.6 252.0 596.9 250.9 598.6 250.7 600.4 250.6 601.7 249.8 603.0 248.8 603.9 247.5 604.5 245.9 605.4 244.6 605.6 242.9 606.0 241.3 605.0 240.1 603.9 239.0 602.8 238.0 600.9 237.8 599.8 236.8 598.7 235.7 597.8 234.4 596.4 233.6 595.8 232.0 594.8 230.8 593.5 229.9 592.0 229.3 590.6 228.6 589.6 227.4 589.6 225.5 589.3 223.7 587.9 222.8 586.6 221.9 585.1 221.2 583.8 220.3 582.5 219.3 580.9 218.9 579.4 218.3 578.0 217.5 576.4 217.3 575.0 216.4 573.4 216.0 572.2 214.9 570.8 214.0 569.3 214.2 567.8 214.2 566.4 215.1 565.2 216.2 564.5 217.8 563.9 219.5 562.6 220.5 560.6 220.8 559.5 221.9 558.6 223.4 557.5 224.5 557.5 226.2 556.5 227.9 557.3 229.5 558.0 231.2 558.3 232.9 558.2 234.6 557.5 236.3Z" fill="#93d4ec"/>
<path d="M556.0 100.1 557.5 100.8 559.0 101.2 560.4 101.9 561.9 102.3 563.5 102.4 565.1 102.6 566.6 103.0 568.1 103.3 569.6 103.9 570.9 104.9 572.4 105.6 574.1 105.2 575.5 105.9 577.0 106.3 578.0 105.0 579.8 105.0 580.8 103.7 582.1 102.9 581.3 101.5 580.7 100.0 580.3 98.5 579.9 97.0 579.5 95.4 579.0 93.9 578.4 92.5 577.5 91.1 577.1 89.6 576.4 88.1 576.0 86.6 575.4 85.1 574.1 84.4 572.8 83.5 572.9 81.9 574.0 80.7 574.6 79.3 574.7 77.6 575.0 76.1 575.5 74.7 576.0 73.3 576.7 71.9 576.1 70.4 574.6 69.4 573.5 68.1 573.2 66.4 572.9 64.7 572.2 63.2 571.4 61.8 569.8 60.9 569.2 59.4 568.4 58.0 566.7 56.9 565.5 58.4 563.8 59.3 562.3 60.5 561.1 61.9 560.9 63.5 560.1 65.0 559.6 66.5 559.4 68.1 559.0 69.6 558.1 71.0 558.1 72.7 557.0 74.0 556.7 75.6 557.4 77.1 558.2 78.5 559.5 79.6 561.1 80.4 561.5 82.1 562.4 83.5 562.3 85.2 561.2 86.5 560.1 87.8 559.6 89.4 558.8 90.8 559.0 92.6 558.6 94.2 558.7 96.0 557.7 97.3 556.4 98.5Z" fill="#4cbfe0"/>
<path d="M559.0 237.9 558.9 239.5 558.8 241.0 558.9 242.6 559.4 244.1 559.5 245.7 559.6 247.2 559.1 248.8 558.8 250.4 558.9 251.9 559.2 253.5 559.0 255.0 558.6 256.6 559.0 258.1 558.6 259.7 559.3 261.2 558.6 262.8 558.9 264.3 559.0 265.9 558.7 267.5 559.2 269.0 558.9 270.6 558.9 272.1 559.3 273.7 559.1 275.2 559.0 276.8 560.6 276.8 562.1 276.5 563.7 277.1 565.2 277.6 566.7 278.2 568.2 279.1 569.8 278.8 571.4 279.0 573.0 278.0 574.6 277.2 576.1 277.0 577.7 277.1 579.3 276.7 580.8 276.8 582.4 277.6 583.9 277.8 585.4 278.2 586.7 276.8 587.7 275.3 588.4 273.5 587.5 272.0 587.4 270.4 587.8 268.7 587.9 267.0 587.2 265.5 585.8 264.1 585.4 262.5 585.7 260.8 585.2 259.3 583.9 258.1 582.4 257.2 582.2 255.7 581.6 254.3 581.1 252.9 580.5 251.4 579.9 250.0 579.2 248.7 578.9 247.2 579.4 245.5 578.9 244.1 578.6 242.6 578.4 241.1 578.0 239.6 576.4 239.7 574.9 238.6 573.3 238.4 571.8 238.3 570.1 239.3 568.5 239.2 566.9 239.2 565.3 238.9 563.8 238.4 562.2 238.2 560.6 238.0Z" fill="#93d4ec"/>
<path d="M558.8 291.2 559.8 292.7 561.3 293.4 562.9 294.0 564.6 294.4 566.4 294.7 567.6 296.0 568.3 297.9 569.8 298.6 571.3 297.9 573.0 298.2 574.5 297.4 575.9 296.7 577.4 296.3 578.8 295.2 580.4 295.0 581.9 294.5 583.5 294.4 585.0 293.9 586.5 293.5 586.4 292.0 586.9 290.4 586.2 288.9 585.8 287.4 585.6 285.9 585.7 284.3 585.5 282.8 585.5 281.3 585.7 279.7 585.4 278.2 583.9 277.8 582.4 277.6 580.8 276.8 579.3 276.7 577.7 277.1 576.1 277.0 574.6 277.2 573.0 278.0 571.4 279.0 569.8 278.8 568.2 279.1 566.7 278.2 565.2 277.6 563.7 277.1 562.1 276.5 560.6 276.8 559.0 276.8 558.1 278.6 556.7 280.0 557.0 281.6 557.4 283.2 557.9 284.8 556.9 286.6 557.1 288.2 558.1 289.7Z" fill="#93d4ec"/>
<path d="M555.3 124.4 556.1 125.7 557.3 126.8 558.0 128.2 558.2 129.8 559.0 131.1 558.9 133.0 560.2 134.0 561.4 135.1 562.7 136.1 563.3 137.5 564.6 138.6 565.3 139.9 565.4 141.6 566.2 143.0 567.6 144.0 569.7 143.5 571.0 144.7 572.7 145.0 574.1 146.1 574.4 144.6 575.2 143.3 576.2 142.1 577.0 140.8 577.5 139.3 577.6 137.8 578.4 136.4 579.0 135.0 579.8 133.7 579.6 132.0 580.5 130.8 580.4 129.1 581.2 127.8 580.6 126.2 579.1 125.3 578.0 124.2 576.2 123.6 575.3 122.3 575.1 120.3 573.8 119.2 574.4 117.7 575.1 116.1 575.1 114.4 575.2 112.7 576.0 111.2 576.0 109.5 576.1 107.8 577.0 106.3 575.5 105.9 574.1 105.2 572.4 105.6 570.9 104.9 569.6 103.9 568.1 103.3 566.6 103.0 565.1 102.6 563.5 102.4 561.9 102.3 560.4 101.9 559.0 101.2 557.5 100.8 556.0 100.1 554.5 101.0 553.3 102.5 551.5 103.0 551.6 104.5 551.1 106.1 551.0 107.6 551.1 109.1 551.5 110.6 551.1 112.1 551.9 113.7 551.9 115.2 551.9 116.7 551.5 118.2 551.7 119.7 551.3 121.3 551.5 122.8 553.4 123.4Z" fill="#93d4ec"/>
<path d="M567.8 214.2 569.3 214.2 570.8 214.0 572.2 214.9 573.4 216.0 575.0 216.4 576.4 217.3 578.0 217.5 579.4 218.3 580.9 218.9 582.5 219.3 583.8 220.3 585.1 221.2 586.6 221.9 587.9 222.8 589.3 223.7 590.3 222.6 590.7 220.9 592.3 220.2 593.3 219.1 593.4 217.3 594.6 216.3 595.7 215.2 596.6 213.9 596.0 212.4 596.2 210.7 596.2 209.1 596.3 207.5 594.9 206.1 594.0 204.7 593.2 203.2 593.7 201.5 593.2 200.0 593.5 198.3 592.8 196.8 591.3 196.5 589.8 196.5 588.2 197.8 586.7 197.3 585.2 196.7 583.7 196.8 582.2 195.8 580.7 195.7 579.5 194.7 579.3 192.7 577.1 192.7 575.4 192.2 575.0 190.3 574.8 188.4 572.9 188.1 571.9 186.9 570.3 187.4 569.0 188.5 567.6 189.4 566.0 189.6 564.3 189.7 562.5 189.6 561.0 190.1 559.4 190.6 558.1 191.5 556.7 192.6 555.1 192.9 554.8 193.4 555.4 194.9 556.2 196.2 556.8 197.6 557.5 198.9 558.3 200.2 559.4 201.3 559.7 203.0 560.2 204.5 561.3 205.6 562.0 207.0 563.3 208.0 564.2 209.2 565.6 210.2 566.4 211.5 566.8 213.0Z" fill="#4cbfe0"/>
<path d="M572.8 83.5 574.1 84.4 575.4 85.1 576.0 86.6 576.4 88.1 577.1 89.6 577.5 91.1 578.4 92.5 579.0 93.9 579.5 95.4 579.9 97.0 580.3 98.5 580.7 100.0 581.3 101.5 582.1 102.9 582.5 102.9 583.9 103.7 585.5 104.2 586.8 105.0 588.1 106.0 589.2 107.4 590.9 107.6 592.4 108.3 593.8 108.9 595.0 110.1 596.3 109.3 598.0 109.1 599.2 108.1 600.8 108.3 602.4 108.7 603.9 109.3 605.5 109.6 606.9 110.4 608.3 111.5 609.6 112.6 611.4 112.3 613.1 112.4 614.7 112.6 616.3 112.9 617.8 113.5 619.3 114.3 619.7 114.0 619.4 112.4 619.6 110.7 619.5 109.1 619.9 107.4 619.2 105.8 618.4 104.3 618.6 102.6 618.2 101.0 618.1 99.4 616.6 99.1 615.0 99.0 613.6 98.5 612.1 98.3 610.5 98.3 609.3 97.2 608.2 95.9 606.7 95.4 605.4 94.8 604.1 92.1 602.6 91.8 601.4 90.7 600.4 89.3 598.8 89.1 597.2 88.8 596.0 88.0 595.3 86.6 594.8 85.2 594.3 83.7 592.9 82.5 591.3 81.8 589.8 80.7 590.2 79.1 588.7 77.7 589.0 76.1 589.2 74.5 588.7 73.0 586.7 72.0 585.5 70.1 585.6 68.6 585.1 67.1 585.9 65.6 585.5 64.1 581.9 61.3 577.7 61.3 573.4 62.7 569.1 58.4 568.4 58.0 569.2 59.4 569.8 60.9 571.4 61.8 572.2 63.2 572.9 64.7 573.2 66.4 573.5 68.1 574.6 69.4 576.1 70.4 576.7 71.9 576.0 73.3 575.5 74.7 575.0 76.1 574.7 77.6 574.6 79.3 574.0 80.7 572.9 81.9Z" fill="#bae5ef"/>
<path d="M574.3 178.9 573.6 180.4 573.3 182.1 572.5 183.6 572.4 185.3 571.9 186.9 572.9 188.1 574.8 188.4 575.0 190.3 575.4 192.2 577.1 192.7 579.3 192.7 579.5 194.7 580.7 195.7 582.2 195.8 583.7 196.8 585.2 196.7 586.7 197.3 588.2 197.8 589.8 196.5 591.3 196.5 592.8 196.8 594.6 194.6 595.2 193.4 596.8 189.8 595.2 186.8 596.3 184.2 595.8 182.2 596.8 179.7 598.8 177.6 599.1 176.5 597.5 175.9 596.0 175.1 594.4 174.5 593.2 173.4 592.3 172.1 591.5 170.8 591.2 169.2 590.9 167.7 590.4 166.3 589.9 164.8 588.7 163.7 588.1 162.3 587.8 160.7 586.8 159.5 586.4 158.0 586.1 156.5 584.9 155.3 584.6 153.8 583.9 152.5 582.1 152.3 580.5 151.3 578.8 151.0 577.0 150.7 576.4 152.1 575.4 153.3 575.1 154.9 573.6 155.7 573.0 157.2 571.6 158.0 570.5 159.1 569.8 160.5 569.1 161.8 568.8 163.5 568.1 164.8 567.1 166.0 568.1 167.3 568.4 169.0 569.1 170.5 569.6 172.1 570.4 173.5 571.4 174.9 572.0 176.4 573.2 177.6Z" fill="#4cbfe0"/>
<path d="M581.2 127.8 582.8 127.7 584.4 127.6 586.0 127.4 587.5 126.5 589.2 126.7 590.8 126.3 592.4 126.1 594.0 125.4 595.0 123.9 596.4 124.4 598.0 124.3 599.4 125.0 600.7 125.8 602.3 125.9 603.6 126.5 605.2 126.4 606.6 127.1 608.0 127.5 609.8 126.8 611.1 125.1 613.1 124.8 614.2 123.7 615.3 122.5 615.7 121.0 615.4 119.1 615.8 117.5 618.0 117.1 619.2 116.0 619.3 114.3 617.8 113.5 616.3 112.9 614.7 112.6 613.1 112.4 611.4 112.3 609.6 112.6 608.3 111.5 606.9 110.4 605.5 109.6 603.9 109.3 602.4 108.7 600.8 108.3 599.2 108.1 598.0 109.1 596.3 109.3 595.0 110.1 593.8 108.9 592.4 108.3 590.9 107.6 589.2 107.4 588.1 106.0 586.8 105.0 585.5 104.2 583.9 103.7 582.5 102.9 582.1 102.9 580.8 103.7 579.8 105.0 578.0 105.0 577.0 106.3 576.1 107.8 576.0 109.5 576.0 111.2 575.2 112.7 575.1 114.4 575.1 116.1 574.4 117.7 573.8 119.2 575.1 120.3 575.3 122.3 576.2 123.6 578.0 124.2 579.1 125.3 580.6 126.2Z" fill="#93d4ec"/>
<path d="M581.2 127.8 580.4 129.1 580.5 130.8 579.6 132.0 579.8 133.7 579.0 135.0 578.4 136.4 577.6 137.8 577.5 139.3 577.0 140.8 576.2 142.1 575.2 143.3 574.4 144.6 574.1 146.1 575.1 147.6 576.4 149.0 577.0 150.7 578.8 151.0 580.5 151.3 582.1 152.3 583.9 152.5 585.4 151.9 587.0 151.5 588.4 150.6 589.5 149.0 590.9 148.2 593.1 149.0 594.5 148.2 595.9 147.2 596.0 147.3 597.3 146.5 598.5 145.4 599.7 144.2 601.0 143.5 602.9 144.0 604.6 144.0 605.9 143.1 607.1 142.1 607.2 140.4 606.9 138.8 607.4 137.2 607.3 135.6 607.5 134.0 608.1 132.4 608.5 130.8 607.9 129.1 608.0 127.5 606.6 127.1 605.2 126.4 603.6 126.5 602.3 125.9 600.7 125.8 599.4 125.0 598.0 124.3 596.4 124.4 595.0 123.9 594.0 125.4 592.4 126.1 590.8 126.3 589.2 126.7 587.5 126.5 586.0 127.4 584.4 127.6 582.8 127.7Z" fill="#16a2cc"/>
<path d="M585.2 259.3 585.7 260.8 585.4 262.5 585.8 264.1 587.2 265.5 587.9 267.0 587.8 268.7 587.4 270.4 587.5 272.0 588.4 273.5 590.0 273.3 591.6 274.1 593.2 274.4 594.8 273.3 596.4 273.7 598.1 275.2 599.7 275.1 601.3 273.6 602.9 273.2 604.5 273.5 605.5 272.3 606.5 271.0 608.1 270.5 609.2 269.3 610.5 268.4 611.7 267.5 613.3 267.4 614.9 267.8 616.5 267.3 618.2 267.1 619.8 266.9 621.4 267.3 623.0 267.5 622.6 265.7 623.7 260.6 626.7 257.6 625.7 253.5 622.6 249.4 617.6 245.4 615.5 241.3 618.6 239.3 623.7 238.3 625.9 236.0 624.4 236.3 623.0 237.2 621.2 236.9 619.5 236.6 617.9 236.9 616.4 237.3 615.2 238.9 613.7 239.4 612.2 240.0 610.7 240.6 609.2 241.0 607.6 241.4 606.0 241.3 605.6 242.9 605.4 244.6 604.5 245.9 603.9 247.5 603.0 248.8 601.7 249.8 600.4 250.6 598.6 250.7 596.9 250.9 595.6 252.0 594.4 253.1 593.4 254.4 592.0 255.2 590.5 255.8 589.7 257.4 588.3 258.2 586.6 258.5Z" fill="#bae5ef"/>
<path d="M617.2 297.4 615.5 296.7 613.5 296.6 611.9 295.6 610.3 295.7 608.8 295.7 607.4 296.5 606.0 297.3 604.6 297.9 603.1 298.5 601.5 298.1 600.0 298.2 598.4 297.9 597.0 298.6 595.4 298.3 593.9 298.8 592.5 299.5 592.1 301.0 591.8 302.6 591.9 304.2 591.6 305.7 591.9 307.4 590.6 308.8 590.7 310.4 590.8 312.0 591.5 313.7 591.5 315.3 590.8 316.8 590.0 318.3 590.2 319.9 590.1 321.5 592.6 323.3 596.7 324.1 601.5 324.1 611.3 320.9 616.2 320.1 618.6 316.8 621.1 312.8 624.3 307.9 624.8 306.8 624.0 305.5 623.3 304.2 622.1 303.2 620.3 302.7 619.9 301.0 619.2 299.6 618.5 298.3Z" fill="#bae5ef"/>
<path d="M588.4 273.5 587.7 275.3 586.7 276.8 585.4 278.2 585.7 279.7 585.5 281.3 585.5 282.8 585.7 284.3 585.6 285.9 585.8 287.4 586.2 288.9 586.9 290.4 586.4 292.0 586.5 293.5 588.0 294.4 589.1 295.8 589.9 297.3 591.3 298.3 592.5 299.5 593.9 298.8 595.4 298.3 597.0 298.6 598.4 297.9 600.0 298.2 601.5 298.1 603.1 298.5 604.6 297.9 606.0 297.3 607.4 296.5 608.8 295.7 610.3 295.7 611.9 295.6 613.5 296.6 615.5 296.7 617.2 297.4 617.8 296.0 618.1 294.5 618.6 293.0 619.3 291.7 620.4 290.5 621.0 289.1 622.4 288.1 623.0 286.7 623.4 285.3 624.4 284.0 624.2 282.3 624.7 280.8 624.6 279.1 625.9 278.1 626.3 276.5 627.4 275.4 628.2 274.1 627.7 273.8 623.7 270.8 623.0 267.5 621.4 267.3 619.8 266.9 618.2 267.1 616.5 267.3 614.9 267.8 613.3 267.4 611.7 267.5 610.5 268.4 609.2 269.3 608.1 270.5 606.5 271.0 605.5 272.3 604.5 273.5 602.9 273.2 601.3 273.6 599.7 275.1 598.1 275.2 596.4 273.7 594.8 273.3 593.2 274.4 591.6 274.1 590.0 273.3Z" fill="#93d4ec"/>
<path d="M589.6 227.4 590.6 228.6 592.0 229.3 593.5 229.9 594.8 230.8 595.8 232.0 596.4 233.6 597.8 234.4 598.7 235.7 599.8 236.8 600.9 237.8 602.8 238.0 603.9 239.0 605.0 240.1 606.0 241.3 607.6 241.4 609.2 241.0 610.7 240.6 612.2 240.0 613.7 239.4 615.2 238.9 616.4 237.3 617.9 236.9 619.5 236.6 621.2 236.9 623.0 237.2 624.4 236.3 625.9 236.0 627.7 234.2 628.7 229.1 625.7 224.1 621.7 220.0 619.6 216.7 616.6 214.7 615.4 213.1 613.9 213.7 612.3 213.6 610.7 213.1 609.1 213.1 607.5 212.4 605.9 212.2 604.4 212.9 602.8 213.4 601.3 213.9 599.7 213.6 598.1 214.0 596.6 213.9 595.7 215.2 594.6 216.3 593.4 217.3 593.3 219.1 592.3 220.2 590.7 220.9 590.3 222.6 589.3 223.7 589.6 225.5Z" fill="#93d4ec"/>
<path d="M595.9 147.2 594.5 148.2 593.1 149.0 590.9 148.2 589.5 149.0 588.4 150.6 587.0 151.5 585.4 151.9 583.9 152.5 584.6 153.8 584.9 155.3 586.1 156.5 586.4 158.0 586.8 159.5 587.8 160.7 588.1 162.3 588.7 163.7 589.9 164.8 590.4 166.3 590.9 167.7 591.2 169.2 591.5 170.8 592.3 172.1 593.2 173.4 594.4 174.5 596.0 175.1 597.5 175.9 599.1 176.5 600.7 170.7 603.7 165.6 608.8 160.5 614.9 154.4 619.0 148.3 619.6 147.5 618.2 147.0 617.0 145.8 615.6 145.3 613.9 145.3 612.6 144.5 611.3 143.7 609.8 143.3 608.6 142.4 607.1 142.1 605.9 143.1 604.6 144.0 602.9 144.0 601.0 143.5 599.7 144.2 598.5 145.4 597.3 146.5 596.0 147.3Z" fill="#4cbfe0"/>
<path d="M596.6 213.9 598.1 214.0 599.7 213.6 601.3 213.9 602.8 213.4 604.4 212.9 605.9 212.2 607.5 212.4 609.1 213.1 610.7 213.1 612.3 213.6 613.9 213.7 615.4 213.1 615.1 212.7 617.6 210.7 621.7 208.6 622.7 205.1 620.7 201.5 618.6 197.9 616.6 194.4 616.1 191.3 615.1 188.3 611.5 187.8 607.4 188.3 604.4 189.3 601.8 190.3 600.8 192.4 600.3 194.9 598.3 196.9 594.7 197.9 593.7 196.4 594.6 194.6 592.8 196.8 593.5 198.3 593.2 200.0 593.7 201.5 593.2 203.2 594.0 204.7 594.9 206.1 596.3 207.5 596.2 209.1 596.2 210.7 596.0 212.4Z" fill="#93d4ec"/>
<path d="M617.2 297.4 618.5 298.3 619.2 299.6 619.9 301.0 620.3 302.7 622.1 303.2 623.3 304.2 624.0 305.5 624.8 306.8 625.9 304.6 630.0 299.8 632.8 296.1 637.9 293.1 640.9 289.0 645.0 285.0 647.0 279.9 645.0 277.9 638.9 278.9 632.8 276.9 628.2 274.1 627.4 275.4 626.3 276.5 625.9 278.1 624.6 279.1 624.7 280.8 624.2 282.3 624.4 284.0 623.4 285.3 623.0 286.7 622.4 288.1 621.0 289.1 620.4 290.5 619.3 291.7 618.6 293.0 618.1 294.5 617.8 296.0Z" fill="#93d4ec"/>
<path d="M613.1 124.8 614.2 125.9 615.7 126.7 616.7 127.8 616.9 129.7 617.8 130.8 619.1 131.7 620.5 132.6 621.2 134.0 622.3 135.0 622.7 136.7 623.6 137.9 625.2 138.5 626.6 139.2 627.8 140.2 628.2 141.9 629.3 143.0 631.5 141.5 633.9 135.6 632.7 127.1 633.9 118.5 634.2 116.3 632.6 115.6 631.0 115.2 629.3 115.5 627.7 115.5 626.2 114.6 624.5 114.8 622.9 114.5 621.2 114.9 619.7 114.0 619.3 114.3 619.2 116.0 618.0 117.1 615.8 117.5 615.4 119.1 615.7 121.0 615.3 122.5 614.2 123.7Z" fill="#bae5ef"/>
<path d="M607.1 142.1 608.6 142.4 609.8 143.3 611.3 143.7 612.6 144.5 613.9 145.3 615.6 145.3 617.0 145.8 618.2 147.0 619.6 147.5 622.0 144.5 627.0 144.5 629.3 143.0 628.2 141.9 627.8 140.2 626.6 139.2 625.2 138.5 623.6 137.9 622.7 136.7 622.3 135.0 621.2 134.0 620.5 132.6 619.1 131.7 617.8 130.8 616.9 129.7 616.7 127.8 615.7 126.7 614.2 125.9 613.1 124.8 611.1 125.1 609.8 126.8 608.0 127.5 607.9 129.1 608.5 130.8 608.1 132.4 607.5 134.0 607.3 135.6 607.4 137.2 606.9 138.8 607.2 140.4Z" fill="#93d4ec"/>
<path d="M624.3 92.1 623.2 93.3 622.2 94.5 621.2 95.8 620.6 97.3 619.4 98.3 618.1 99.4 618.2 101.0 618.6 102.6 618.4 104.3 619.2 105.8 619.9 107.4 619.5 109.1 619.6 110.7 619.4 112.4 619.7 114.0 621.2 114.9 622.9 114.5 624.5 114.8 626.2 114.6 627.7 115.5 629.3 115.5 631.0 115.2 632.6 115.6 634.2 116.3 635.1 108.8 637.6 99.0 641.2 91.7 644.9 85.6 647.3 80.7 640.3 79.1 634.6 79.1 634.0 79.0 633.3 80.4 632.0 81.4 630.6 82.2 629.2 83.1 628.2 84.3 626.7 85.0 625.5 86.1 625.0 87.8 624.0 89.0 624.5 90.5Z" fill="#93d4ec"/>
</g>
<path d="M332.0 113.2 331.2 111.9 330.6 110.5 329.8 109.2 328.1 108.6 327.5 107.1 327.7 105.5 327.2 103.9 327.5 102.3 327.3 100.7 327.6 99.1 327.9 97.5 327.9 95.9 327.7 94.3 328.0 92.7 327.5 91.0 325.4 92.2 323.8 92.6 322.2 92.1 320.7 91.7 319.1 91.4 317.5 91.0 315.9 91.2 314.3 90.9 312.7 91.1 311.1 91.7 309.5 92.2 307.9 92.1 306.3 91.7 305.0 92.0 303.7 92.5 302.5 93.1 301.1 93.0 300.1 94.2 298.7 94.1 298.0 95.3 297.3 96.5 296.4 97.7 296.3 99.3 296.1 101.0 296.8 102.5 298.3 102.7 299.5 103.6 301.2 103.7 303.0 103.6 304.6 102.9 306.3 103.0 308.0 103.1 309.4 103.9 311.0 104.3 311.2 106.2 312.5 107.5 311.1 107.6 310.0 108.6 308.3 107.8 306.5 108.2 305.2 108.5 303.8 108.4 302.5 108.8 300.5 110.0 301.8 111.0 303.5 110.8 304.9 110.4 306.3 110.6 307.5 111.5 308.3 112.7 309.5 113.3 307.7 113.7 306.0 114.5 304.4 115.3 302.7 114.9 301.0 114.8 299.5 114.9 298.0 115.3 296.5 115.3 298.2 115.8 299.5 117.0 301.3 117.2 302.5 118.5 303.9 119.4 304.5 121.0 305.2 122.2 305.5 123.5 307.0 124.0 308.5 124.6 309.9 123.9 311.5 124.3 313.0 124.2 314.2 125.1 315.6 125.5 316.9 126.4 318.5 126.0 319.9 126.4 321.3 126.9 322.8 126.4 324.1 127.8 325.7 126.9 327.0 127.7 327.3 127.8 327.3 126.2 327.7 124.7 327.6 123.1 328.0 121.6 329.6 120.5 331.2 119.4 331.4 117.9 331.3 116.2 331.6 114.7ZM396.1 110.3 397.5 109.4 399.1 108.8 400.2 107.4 402.4 108.1 403.5 106.7 404.8 105.5 406.4 105.0 406.8 103.4 406.9 101.8 406.4 100.2 407.0 98.7 407.0 97.1 407.1 95.5 407.2 93.9 407.4 92.3 407.7 90.8 407.8 89.2 406.6 87.6 405.0 86.6 404.1 85.1 403.9 83.5 404.0 81.8 404.5 80.1 403.7 78.6 403.5 77.0 403.4 75.3 402.5 73.9 402.2 72.3 401.4 70.8 401.3 69.2 401.4 68.7 399.9 68.5 398.5 69.3 397.3 68.9 396.1 68.5 395.4 67.1 394.9 65.6 393.7 64.5 393.7 62.8 393.6 61.1 393.6 59.4 394.5 57.9 393.3 56.6 392.0 55.4 390.5 56.0 388.8 55.9 387.2 56.3 385.6 56.1 383.9 56.1 382.3 55.4 380.7 55.1 379.7 53.5 378.2 53.0 376.6 53.8 376.5 55.2 377.4 56.4 377.7 57.7 377.5 59.1 378.2 60.3 379.1 61.6 379.5 63.0 379.9 64.4 379.8 66.0 380.7 67.2 379.8 68.8 380.3 70.0 381.6 71.1 381.5 72.5 381.4 73.9 381.5 75.3 382.9 76.3 383.3 77.6 383.1 79.0 383.0 80.3 382.8 81.7 383.3 82.9 383.3 84.3 383.9 85.5 383.3 86.8 384.4 88.1 384.4 89.4 384.0 90.7 383.9 92.0 384.9 93.2 384.9 94.7 385.5 96.1 384.7 96.9 385.6 98.3 387.2 99.0 388.4 100.1 389.1 101.6 390.0 102.9 390.9 104.2 391.9 105.5 392.8 106.8 394.2 107.7 395.0 109.2ZM416.3 311.8 415.2 310.7 413.9 309.8 413.3 308.3 411.9 307.5 410.7 306.4 409.1 306.6 407.6 306.1 406.2 305.3 404.8 303.9 403.1 305.1 401.5 305.4 400.0 304.9 398.5 304.7 396.6 303.3 395.2 302.8 393.6 302.6 392.1 302.5 390.6 302.2 389.1 302.0 387.9 300.6 386.5 300.2 385.0 300.0 383.4 300.0 381.9 299.9 380.6 298.9 379.1 298.6 377.7 298.2 377.4 299.3 374.6 306.6 371.0 310.2 367.3 312.0 370.1 314.8 372.8 316.6 375.5 321.2 377.4 323.9 381.9 324.8 387.4 328.5 392.9 330.3 396.6 332.2 400.2 334.0 403.9 336.7 407.5 334.9 411.2 334.0 413.9 336.0 413.9 334.5 414.0 333.0 414.3 331.5 413.6 329.9 413.7 328.4 414.4 326.9 414.6 325.4 414.3 323.8 414.5 322.3 414.7 320.8 414.7 319.3 415.8 317.9 415.7 316.3 416.0 314.8 416.0 313.3ZM332.0 113.2 333.5 112.3 335.0 112.8 336.6 113.5 338.3 114.5 339.7 113.7 341.1 111.7 342.6 111.5 344.2 111.3 345.8 112.4 347.3 112.0 348.2 113.6 349.3 114.9 350.5 116.3 352.2 117.0 353.7 118.0 354.9 119.2 356.4 119.2 357.9 119.8 359.5 119.5 361.1 119.7 362.6 120.2 364.1 119.8 365.7 119.5 367.2 119.7 368.7 120.2 370.5 118.2 370.7 116.7 370.9 115.1 371.1 113.6 370.7 112.0 371.1 110.5 371.7 109.0 371.9 107.5 371.6 105.9 371.2 104.3 371.8 102.9 371.2 101.3 371.5 99.7 371.9 98.2 372.4 96.7 371.7 96.9 370.0 97.0 368.5 97.7 366.9 97.7 366.0 96.0 364.4 96.1 362.8 95.7 361.1 95.4 359.5 96.1 358.4 97.2 356.7 97.8 355.7 99.1 354.6 100.2 353.9 98.7 352.9 97.6 351.4 96.9 350.4 95.8 349.8 94.4 348.4 93.6 348.1 92.0 347.6 90.6 346.9 89.3 345.4 88.6 344.9 87.2 343.1 86.8 341.2 86.4 339.8 86.4 338.3 86.1 336.9 86.4 335.4 86.2 334.0 86.5 332.7 87.1 331.5 87.6 330.5 88.5 329.6 89.6 328.5 90.5 327.5 91.0 328.0 92.7 327.7 94.3 327.9 95.9 327.9 97.5 327.6 99.1 327.3 100.7 327.5 102.3 327.2 103.9 327.7 105.5 327.5 107.1 328.1 108.6 329.8 109.2 330.6 110.5 331.2 111.9ZM368.7 120.2 367.2 119.7 365.7 119.5 364.1 119.8 362.6 120.2 361.1 119.7 359.5 119.5 357.9 119.8 356.4 119.2 354.9 119.2 353.7 118.0 352.2 117.0 350.5 116.3 349.3 114.9 348.2 113.6 347.3 112.0 345.8 112.4 344.2 111.3 342.6 111.5 341.1 111.7 339.7 113.7 338.3 114.5 336.6 113.5 335.0 112.8 333.5 112.3 332.0 113.2 331.6 114.7 331.3 116.2 331.4 117.9 331.2 119.4 329.6 120.5 328.0 121.6 327.6 123.1 327.7 124.7 327.3 126.2 327.3 127.8 328.7 127.5 329.8 128.4 331.4 130.0 333.0 129.9 334.3 130.7 335.5 131.9 337.1 132.1 338.6 133.1 340.0 134.2 341.4 135.2 342.5 136.5 344.2 137.1 345.4 137.8 346.0 139.1 347.1 139.9 348.5 140.6 350.0 141.1 351.3 142.0 352.4 142.8 353.7 143.2 355.2 142.6 356.3 143.5 355.5 145.2 355.6 147.0 355.6 147.2 357.1 146.4 358.7 145.8 359.6 144.5 360.9 143.5 362.2 142.5 362.8 140.7 364.0 139.6 365.0 138.3 366.4 137.5 367.7 136.5 369.2 135.8 370.7 135.2 372.0 134.1 372.1 132.5 372.2 130.8 371.5 129.4 371.4 127.8 369.9 126.5 370.0 124.8 369.4 123.3 369.4 121.7ZM473.7 29.6 475.2 30.1 476.3 31.4 477.9 31.8 479.1 32.9 480.6 33.6 482.3 33.6 484.0 33.7 485.3 34.8 486.8 35.4 487.8 36.8 489.2 37.7 490.8 38.1 490.9 38.1 492.4 38.5 494.1 38.6 495.7 38.6 497.1 39.5 498.6 40.2 500.0 41.2 501.4 41.9 503.3 41.1 504.8 41.7 506.4 41.9 507.8 42.9 509.4 43.0 510.9 43.4 512.4 41.7 513.7 40.0 513.1 38.6 512.8 37.0 512.0 35.7 510.9 34.4 509.8 33.2 509.9 31.5 509.2 30.1 509.4 28.4 508.7 27.0 508.3 25.5 506.9 24.4 505.2 24.7 503.4 25.4 502.0 24.2 500.5 23.5 498.8 23.3 497.6 22.0 497.6 20.0 495.6 19.1 495.3 17.3 493.8 17.2 492.2 17.4 490.8 16.5 489.3 16.6 487.8 16.3 486.3 15.8 485.9 14.4 485.3 13.0 484.7 11.6 483.8 10.4 483.6 8.9 482.8 7.6 482.3 6.1 481.7 4.8 480.9 3.5 474.5 5.5 469.9 9.1 469.6 18.5 469.1 23.3 468.3 28.1 468.8 30.2 470.4 29.4 472.1 29.8ZM393.5 138.1 391.9 138.5 390.3 138.7 388.7 139.0 387.0 139.3 385.4 139.6 383.8 139.2 382.1 138.9 380.5 139.0 378.9 138.7 377.4 137.9 376.0 137.1 374.7 136.0 373.4 135.0 372.0 134.1 370.7 135.2 369.2 135.8 367.7 136.5 366.4 137.5 365.0 138.3 364.0 139.6 362.8 140.7 362.2 142.5 360.9 143.5 359.6 144.5 358.7 145.8 357.1 146.4 355.6 147.2 355.5 149.0 356.3 150.6 358.3 150.8 359.9 152.0 361.1 151.1 362.9 151.6 364.1 150.6 365.5 150.9 367.1 150.4 368.4 151.3 367.1 152.4 365.4 152.4 364.1 153.4 363.4 155.6 364.1 156.7 364.9 157.7 365.5 159.5 365.6 161.3 365.3 162.8 364.6 164.1 364.1 165.5 364.8 166.9 364.9 168.4 365.1 168.9 366.9 168.8 368.3 167.9 369.1 165.8 370.8 165.3 373.0 165.9 374.2 164.5 375.6 163.5 377.2 163.9 378.8 164.1 380.5 164.5 382.1 164.5 383.7 164.9 385.3 164.0 387.0 163.0 388.6 162.4 390.2 162.9 391.9 163.5 393.5 163.5 393.4 161.9 394.0 160.3 393.6 158.7 393.7 157.2 393.0 155.6 393.1 154.0 392.6 152.4 393.4 150.8 393.3 149.2 393.2 147.6 393.8 146.0 393.5 144.5 394.1 142.9 393.7 141.3 393.7 139.7ZM370.5 118.2 368.7 120.2 369.4 121.7 369.4 123.3 370.0 124.8 369.9 126.5 371.4 127.8 371.5 129.4 372.2 130.8 372.1 132.5 372.0 134.1 373.4 135.0 374.7 136.0 376.0 137.1 377.4 137.9 378.9 138.7 380.5 139.0 382.1 138.9 383.8 139.2 385.4 139.6 387.0 139.3 388.7 139.0 390.3 138.7 391.9 138.5 393.5 138.1 394.8 137.2 396.2 136.4 397.3 135.3 398.2 133.8 399.7 133.3 399.4 131.7 398.8 130.2 397.4 129.0 397.9 127.1 397.5 125.6 396.0 124.5 394.9 123.2 395.3 121.3 394.7 119.9 393.7 118.6 393.3 117.0 393.7 115.2 394.6 113.6 395.6 112.1 396.1 110.3 395.0 109.2 394.2 107.7 392.8 106.8 391.9 105.5 390.9 104.2 390.0 102.9 389.1 101.6 388.4 100.1 387.2 99.0 385.6 98.3 384.7 96.9 383.9 97.7 382.3 97.6 380.6 98.3 379.0 97.7 377.4 97.8 376.5 96.2 375.0 96.1 373.6 96.1 372.4 96.7 371.9 98.2 371.5 99.7 371.2 101.3 371.8 102.9 371.2 104.3 371.6 105.9 371.9 107.5 371.7 109.0 371.1 110.5 370.7 112.0 371.1 113.6 370.9 115.1 370.7 116.7ZM399.1 187.4 399.7 186.4 399.8 184.9 399.7 183.4 399.8 181.8 400.2 180.2 399.0 178.8 398.4 177.3 398.1 175.8 397.4 174.3 398.2 172.7 398.7 171.1 398.8 169.6 399.0 168.0 398.3 166.5 396.8 165.5 395.0 164.6 393.5 163.5 391.9 163.5 390.2 162.9 388.6 162.4 387.0 163.0 385.3 164.0 383.7 164.9 382.1 164.5 380.5 164.5 378.8 164.1 377.2 163.9 375.6 163.5 374.2 164.5 373.0 165.9 370.8 165.3 369.1 165.8 368.3 167.9 366.9 168.8 365.1 168.9 365.6 170.5 366.2 172.0 366.4 173.6 367.9 174.6 367.9 176.6 369.2 177.8 370.1 179.0 370.8 180.2 371.3 181.6 372.1 182.8 373.6 183.8 374.2 185.6 376.0 186.1 376.8 187.9 378.5 188.5 379.6 189.5 381.0 189.9 381.9 191.2 383.5 191.3 385.0 192.1 386.6 193.0 388.4 192.8 388.7 193.1 390.3 192.5 391.4 191.0 393.0 190.4 394.5 189.6 396.3 189.4 397.5 188.1ZM389.0 262.9 390.2 264.0 391.6 264.8 392.8 265.9 394.2 266.6 395.8 267.3 397.4 267.8 398.1 269.5 399.6 270.2 400.5 271.7 402.2 272.1 403.3 273.3 404.8 274.0 406.0 275.0 407.7 275.4 409.3 276.0 411.0 275.5 412.6 275.6 414.3 274.9 416.0 274.7 417.6 275.1 419.3 275.0 420.4 273.8 421.1 272.4 421.4 270.9 421.2 269.2 421.3 267.6 421.6 266.0 422.0 264.6 423.4 263.5 424.5 262.3 425.1 260.8 425.4 259.3 426.4 258.1 427.0 256.7 427.2 255.1 425.9 254.1 425.2 252.7 423.8 251.7 423.8 249.7 423.5 247.9 421.0 247.9 420.0 246.6 419.3 245.1 418.9 243.0 418.8 240.9 417.2 240.6 415.7 240.1 414.4 239.3 413.1 238.3 411.8 237.3 410.4 236.7 408.5 237.0 407.0 236.6 405.4 236.5 404.0 235.6 402.8 234.5 403.6 237.8 400.5 234.6 398.8 232.9 397.1 232.5 395.4 232.0 394.0 230.8 392.4 230.2 390.7 229.7 389.1 229.0 388.5 234.0 387.5 244.9 386.6 255.9 388.6 257.2 389.8 261.5 388.5 259.8 385.7 259.6 385.0 262.4 387.1 262.3ZM393.3 117.0 393.7 118.6 394.7 119.9 395.3 121.3 394.9 123.2 396.0 124.5 397.5 125.6 397.9 127.1 397.4 129.0 398.8 130.2 399.4 131.7 399.7 133.3 401.3 133.4 402.9 134.0 404.4 135.0 406.1 134.3 407.8 134.4 409.5 134.1 411.0 135.0 412.5 134.5 413.9 133.9 415.3 133.3 415.3 131.6 415.9 130.1 416.8 128.7 418.0 127.4 418.4 125.8 417.8 124.0 418.6 122.6 418.6 120.9 419.4 119.5 420.3 118.1 420.5 116.5 420.5 114.8 420.5 113.2 419.3 112.0 417.9 111.3 416.3 110.7 414.5 110.6 413.0 109.9 411.8 108.6 410.7 107.2 409.6 105.8 407.9 105.6 406.4 105.0 404.8 105.5 403.5 106.7 402.4 108.1 400.2 107.4 399.1 108.8 397.5 109.4 396.1 110.3 395.6 112.1 394.6 113.6 393.7 115.2ZM396.6 303.3 398.5 304.7 400.0 304.9 401.5 305.4 403.1 305.1 404.8 303.9 406.2 305.3 407.6 306.1 409.1 306.6 410.7 306.4 411.6 305.2 412.3 303.8 414.0 303.0 414.5 301.5 415.4 300.2 416.0 298.8 416.4 297.2 417.2 295.9 417.7 294.3 418.9 293.2 419.6 291.8 420.8 290.8 421.5 289.4 423.0 288.5 423.9 287.2 424.4 285.7 425.4 284.5 424.8 282.9 423.0 282.2 422.3 280.7 422.2 278.8 421.0 277.7 420.4 276.2 419.3 275.0 417.6 275.1 416.0 274.7 414.3 274.9 412.6 275.6 411.0 275.5 409.3 276.0 407.7 275.4 406.0 275.0 404.8 274.0 403.3 273.3 402.2 272.1 400.5 271.7 399.6 270.2 398.1 269.5 397.4 267.8 395.8 267.3 394.2 266.6 392.8 265.9 391.6 264.8 390.2 264.0 389.0 262.9 387.1 262.3 385.0 262.4 384.8 263.3 383.9 270.6 382.5 278.0 381.0 284.6 379.2 291.9 377.7 298.2 379.1 298.6 380.6 298.9 381.9 299.9 383.4 300.0 385.0 300.0 386.5 300.2 387.9 300.6 389.1 302.0 390.6 302.2 392.1 302.5 393.6 302.6 395.2 302.8ZM438.0 71.3 439.6 71.2 441.2 71.1 442.8 71.1 444.2 69.4 445.8 69.0 447.6 70.2 449.2 70.4 450.8 70.1 452.3 69.2 453.8 68.9 454.4 67.4 456.0 66.5 455.7 64.5 457.0 63.4 458.6 63.1 460.2 62.8 461.9 63.1 463.5 62.8 465.0 61.8 466.5 61.0 468.3 61.3 469.9 61.1 471.5 60.9 473.1 60.2 473.8 58.5 475.1 57.1 474.2 55.8 473.6 54.5 473.7 52.8 473.5 51.2 472.7 49.9 471.7 48.7 470.3 47.7 469.6 46.3 468.8 45.0 468.4 43.5 468.5 41.8 468.0 40.4 467.1 39.1 466.7 39.5 462.3 42.7 456.9 46.0 450.4 48.5 443.9 50.9 437.4 54.1 431.7 56.6 430.5 60.0 431.0 63.5 434.5 67.2 433.6 67.5 434.9 69.0 436.3 70.3ZM407.8 89.2 409.4 88.5 411.1 88.5 412.8 89.0 414.5 89.0 416.1 88.1 417.7 87.5 419.4 87.6 420.9 88.4 422.3 89.3 423.9 90.0 425.3 90.9 426.8 91.6 428.4 92.3 429.9 91.9 431.4 91.5 432.7 90.6 433.7 89.3 435.1 88.7 436.7 88.3 438.0 87.5 437.9 85.9 437.2 84.3 436.7 82.6 436.9 81.0 438.2 79.4 439.3 77.8 438.3 76.1 438.2 74.5 438.4 72.9 438.0 71.3 436.3 70.3 434.9 69.0 433.6 67.5 430.1 68.8 424.4 71.2 417.9 72.0 413.2 71.7 411.4 70.4 408.3 70.1 404.9 68.8 402.6 68.5 401.4 68.7 401.3 69.2 401.4 70.8 402.2 72.3 402.5 73.9 403.4 75.3 403.5 77.0 403.7 78.6 404.5 80.1 404.0 81.8 403.9 83.5 404.1 85.1 405.0 86.6 406.6 87.6ZM399.7 133.3 398.2 133.8 397.3 135.3 396.2 136.4 394.8 137.2 393.5 138.1 393.7 139.7 393.7 141.3 394.1 142.9 393.5 144.5 393.8 146.0 393.2 147.6 393.3 149.2 393.4 150.8 392.6 152.4 393.1 154.0 393.0 155.6 393.7 157.2 393.6 158.7 394.0 160.3 393.4 161.9 393.5 163.5 395.0 164.6 396.8 165.5 398.3 166.5 399.4 165.3 400.9 164.8 402.6 164.8 404.0 164.1 405.3 163.2 406.8 162.8 408.1 162.1 409.5 161.5 411.0 161.0 412.7 161.2 414.1 162.5 415.6 163.3 417.3 163.5 418.8 164.3 420.9 163.1 422.6 163.4 424.0 164.6 425.3 163.7 426.4 162.4 428.2 162.2 429.3 160.9 430.9 160.5 430.7 158.9 430.7 157.3 430.7 155.7 431.4 154.2 431.3 152.6 431.3 151.0 431.8 149.5 432.2 148.0 432.1 146.4 433.0 144.9 432.7 143.3 433.0 141.8 433.4 140.2 432.0 139.4 430.2 139.6 428.6 139.1 427.3 138.2 426.1 136.7 424.6 136.1 423.0 135.9 421.3 135.6 419.8 135.2 418.1 135.0 416.7 134.0 415.3 133.3 413.9 133.9 412.5 134.5 411.0 135.0 409.5 134.1 407.8 134.4 406.1 134.3 404.4 135.0 402.9 134.0 401.3 133.4ZM398.8 232.9 397.0 231.2 393.5 228.2 390.6 226.0 389.4 226.8 389.1 229.0 390.7 229.7 392.4 230.2 394.0 230.8 395.4 232.0 397.1 232.5ZM418.8 240.9 419.4 239.1 420.1 237.3 421.3 235.8 421.1 234.3 420.7 232.9 419.8 231.5 418.6 230.3 418.6 228.7 417.8 227.3 418.1 225.7 417.6 224.3 417.5 222.7 417.8 221.1 417.1 219.7 417.3 218.1 416.9 216.6 417.2 215.0 416.2 213.7 415.7 212.2 415.1 210.8 414.7 210.7 413.8 209.4 412.8 208.2 412.3 206.7 411.2 205.6 410.2 204.4 409.3 203.1 408.3 201.9 407.5 200.5 406.9 199.1 406.2 197.7 405.3 196.4 404.5 195.1 403.3 194.0 402.5 192.7 401.9 191.2 400.9 190.0 399.9 188.8 399.1 187.4 397.5 188.1 396.3 189.4 394.5 189.6 393.0 190.4 391.4 191.0 390.3 192.5 388.7 193.1 389.9 193.7 390.6 194.9 389.9 197.0 388.4 198.4 388.8 199.7 389.9 200.6 391.3 204.1 390.6 207.7 389.2 211.3 387.7 214.8 388.4 217.7 389.9 219.1 391.5 222.3 395.2 224.4 399.2 228.0 402.2 232.2 402.8 234.5 404.0 235.6 405.4 236.5 407.0 236.6 408.5 237.0 410.4 236.7 411.8 237.3 413.1 238.3 414.4 239.3 415.7 240.1 417.2 240.6ZM399.1 187.4 399.9 188.8 400.9 190.0 401.9 191.2 402.5 192.7 403.3 194.0 404.5 195.1 405.3 196.4 406.2 197.7 406.9 199.1 407.5 200.5 408.3 201.9 409.3 203.1 410.2 204.4 411.2 205.6 412.3 206.7 412.8 208.2 413.8 209.4 414.7 210.7 415.1 210.8 416.5 210.3 418.1 209.8 418.7 207.8 420.1 206.9 421.6 206.6 423.5 206.7 424.9 206.0 426.2 205.2 427.5 204.4 427.4 202.8 427.3 201.3 426.7 199.8 427.3 198.2 427.1 196.7 427.8 195.2 427.7 193.6 428.3 192.1 428.5 190.6 427.6 189.0 427.5 187.5 425.8 186.8 425.0 185.3 424.0 184.0 423.9 182.4 424.2 180.8 424.2 179.2 423.6 177.5 424.0 175.9 423.6 174.3 423.4 172.7 423.1 171.1 423.5 169.4 423.7 167.8 423.9 166.2 424.0 164.6 422.6 163.4 420.9 163.1 418.8 164.3 417.3 163.5 415.6 163.3 414.1 162.5 412.7 161.2 411.0 161.0 409.5 161.5 408.1 162.1 406.8 162.8 405.3 163.2 404.0 164.1 402.6 164.8 400.9 164.8 399.4 165.3 398.3 166.5 399.0 168.0 398.8 169.6 398.7 171.1 398.2 172.7 397.4 174.3 398.1 175.8 398.4 177.3 399.0 178.8 400.2 180.2 399.8 181.8 399.7 183.4 399.8 184.9 399.7 186.4ZM453.1 296.1 454.0 297.6 454.5 299.2 454.2 301.0 454.8 302.5 453.8 303.7 452.5 304.6 451.4 305.6 450.1 306.5 449.0 307.5 448.1 308.9 447.1 310.0 445.6 310.7 444.4 311.6 443.1 312.4 442.1 313.6 440.9 314.6 439.1 314.6 437.5 313.6 435.6 313.8 433.8 313.3 433.0 313.8 432.6 315.3 432.8 316.9 433.1 318.4 433.4 320.0 433.4 321.5 433.1 323.1 432.5 324.6 433.2 326.2 433.0 327.8 433.0 329.3 431.8 330.5 430.4 331.5 429.2 332.6 428.6 334.3 427.8 335.9 426.3 336.7 425.4 338.1 424.2 339.3 422.9 340.3 425.8 341.3 431.3 340.4 436.8 341.3 440.4 340.4 442.0 336.7 446.1 338.1 446.4 336.0 445.9 334.0 446.7 332.7 446.7 330.8 447.6 329.6 449.2 328.9 450.5 327.9 451.5 326.8 452.1 325.3 453.0 324.1 454.7 324.4 456.4 323.6 457.8 322.9 458.8 321.5 459.6 320.1 460.4 318.6 462.1 318.0 463.3 316.9 464.0 315.3 465.4 314.5 466.6 313.4 468.4 313.5 470.1 312.6 471.9 312.3 473.8 312.4 473.6 310.9 473.7 309.3 473.9 307.7 474.2 306.1 473.9 304.5 474.0 302.9 473.8 301.4 472.8 299.9 473.0 298.3 472.4 296.7 472.4 295.1 472.9 293.5 472.1 292.0 472.5 290.4 472.5 288.8 472.4 287.2 471.0 288.0 469.6 288.4 468.2 289.1 466.7 289.5 465.3 290.0 463.9 290.6 462.5 291.2 461.2 292.1 459.9 292.8 458.8 294.1 457.1 294.0 455.7 294.5 454.4 295.4ZM433.0 313.8 433.8 313.3 435.6 313.8 437.5 313.6 439.1 314.6 440.9 314.6 442.1 313.6 443.1 312.4 444.4 311.6 445.6 310.7 447.1 310.0 448.1 308.9 449.0 307.5 450.1 306.5 451.4 305.6 452.5 304.6 453.8 303.7 454.8 302.5 454.2 301.0 454.5 299.2 454.0 297.6 453.1 296.1 451.7 295.3 450.1 294.8 448.7 293.9 447.5 292.8 446.7 291.1 445.2 290.5 443.9 289.5 442.4 288.8 441.3 287.6 439.8 288.1 438.2 287.4 436.7 287.0 435.0 286.8 433.3 286.9 431.7 286.5 430.1 285.9 428.8 284.4 427.1 284.3 425.4 284.5 424.4 285.7 423.9 287.2 423.0 288.5 421.5 289.4 420.8 290.8 419.6 291.8 418.9 293.2 417.7 294.3 417.2 295.9 416.4 297.2 416.0 298.8 415.4 300.2 414.5 301.5 414.0 303.0 412.3 303.8 411.6 305.2 410.7 306.4 411.9 307.5 413.3 308.3 413.9 309.8 415.2 310.7 416.3 311.8 417.8 312.3 419.4 312.0 420.9 312.2 422.5 311.8 424.0 312.1 425.5 312.5 426.8 313.8 428.4 313.9 429.9 313.6 431.4 314.0ZM427.5 109.8 429.0 110.3 430.3 111.4 431.8 112.1 433.6 111.7 435.0 112.4 436.9 112.0 438.3 112.7 439.9 113.1 441.3 113.8 442.6 114.9 444.0 115.8 445.6 116.0 447.2 116.4 447.4 114.8 447.7 113.3 448.5 111.9 449.2 110.4 449.5 108.9 450.6 107.5 450.3 105.8 450.6 104.2 450.8 102.7 451.1 101.1 452.3 99.8 452.5 98.3 453.2 96.8 452.4 95.5 451.5 94.2 450.1 93.6 449.0 92.6 447.6 91.9 446.3 91.1 445.1 90.2 443.5 90.0 442.5 88.7 440.8 88.7 439.5 87.9 438.0 87.5 436.7 88.3 435.1 88.7 433.7 89.3 432.7 90.6 431.4 91.5 429.9 91.9 428.4 92.3 426.8 91.6 425.3 90.9 423.9 90.0 422.3 89.3 420.9 88.4 419.4 87.6 417.7 87.5 416.1 88.1 414.5 89.0 412.8 89.0 411.1 88.5 409.4 88.5 407.8 89.2 407.7 90.8 407.4 92.3 407.2 93.9 407.1 95.5 407.0 97.1 407.0 98.7 406.4 100.2 406.9 101.8 406.8 103.4 406.4 105.0 407.9 105.6 409.6 105.8 410.7 107.2 411.8 108.6 413.0 109.9 414.5 110.6 416.3 110.7 417.9 111.3 419.3 112.0 420.5 113.2 421.9 112.4 423.1 111.4 424.8 111.3 425.8 109.9ZM421.3 235.8 422.7 235.1 424.0 234.4 425.1 233.1 426.4 232.3 427.8 231.8 429.7 232.2 431.1 231.4 432.3 230.5 434.0 230.5 435.0 229.2 436.6 228.9 438.1 228.4 439.2 227.3 440.5 226.6 441.6 225.3 443.0 224.7 444.3 223.8 445.9 223.6 445.7 221.9 445.3 220.3 443.5 219.2 442.4 217.9 442.3 216.2 442.6 214.4 442.7 212.6 441.7 211.2 440.2 210.8 438.8 210.0 437.5 209.1 436.1 208.4 435.0 207.0 433.3 206.9 432.1 205.8 430.1 206.3 428.7 205.6 427.5 204.4 426.2 205.2 424.9 206.0 423.5 206.7 421.6 206.6 420.1 206.9 418.7 207.8 418.1 209.8 416.5 210.3 415.1 210.8 415.7 212.2 416.2 213.7 417.2 215.0 416.9 216.6 417.3 218.1 417.1 219.7 417.8 221.1 417.5 222.7 417.6 224.3 418.1 225.7 417.8 227.3 418.6 228.7 418.6 230.3 419.8 231.5 420.7 232.9 421.1 234.3ZM419.3 245.1 420.0 246.6 421.0 247.9 423.5 247.9 423.8 249.7 423.8 251.7 425.2 252.7 425.9 254.1 427.2 255.1 428.9 255.7 430.7 255.4 432.4 255.6 433.8 256.2 435.1 257.0 436.3 258.0 437.6 258.9 438.4 260.5 439.7 261.2 440.8 262.4 442.7 262.3 443.8 263.3 445.6 263.3 447.3 263.6 448.6 264.3 449.8 265.3 450.9 266.5 451.8 265.3 452.7 264.1 453.1 262.5 453.8 261.2 455.0 260.2 455.7 258.8 456.5 257.5 457.9 256.6 458.6 255.2 459.7 254.1 460.1 252.6 460.3 250.9 460.9 249.5 462.2 248.5 462.7 247.0 463.8 245.9 462.6 244.8 462.8 242.9 462.2 241.4 461.1 240.1 459.4 239.2 458.4 237.9 458.9 235.8 457.8 234.6 457.2 233.1 456.2 231.8 456.1 230.4 454.7 229.7 453.0 229.4 451.9 228.3 450.7 227.4 449.0 227.2 447.8 226.2 447.1 224.4 445.9 223.6 444.3 223.8 443.0 224.7 441.6 225.3 440.5 226.6 439.2 227.3 438.1 228.4 436.6 228.9 435.0 229.2 434.0 230.5 432.3 230.5 431.1 231.4 429.7 232.2 427.8 231.8 426.4 232.3 425.1 233.1 424.0 234.4 422.7 235.1 421.3 235.8 420.1 237.3 419.4 239.1 418.8 240.9 418.9 243.0ZM425.4 284.5 427.1 284.3 428.8 284.4 430.1 285.9 431.7 286.5 433.3 286.9 435.0 286.8 436.7 287.0 438.2 287.4 439.8 288.1 441.3 287.6 442.1 286.3 443.3 285.1 444.0 283.7 444.1 282.0 445.2 280.7 446.4 279.6 447.6 278.5 448.3 277.1 448.8 275.6 449.2 273.9 449.8 272.4 450.8 271.2 452.0 270.0 451.7 268.2 450.9 266.5 449.8 265.3 448.6 264.3 447.3 263.6 445.6 263.3 443.8 263.3 442.7 262.3 440.8 262.4 439.7 261.2 438.4 260.5 437.6 258.9 436.3 258.0 435.1 257.0 433.8 256.2 432.4 255.6 430.7 255.4 428.9 255.7 427.2 255.1 427.0 256.7 426.4 258.1 425.4 259.3 425.1 260.8 424.5 262.3 423.4 263.5 422.0 264.6 421.6 266.0 421.3 267.6 421.2 269.2 421.4 270.9 421.1 272.4 420.4 273.8 419.3 275.0 420.4 276.2 421.0 277.7 422.2 278.8 422.3 280.7 423.0 282.2 424.8 282.9ZM420.5 113.2 420.5 114.8 420.5 116.5 420.3 118.1 419.4 119.5 418.6 120.9 418.6 122.6 417.8 124.0 418.4 125.8 418.0 127.4 416.8 128.7 415.9 130.1 415.3 131.6 415.3 133.3 416.7 134.0 418.1 135.0 419.8 135.2 421.3 135.6 423.0 135.9 424.6 136.1 426.1 136.7 427.3 138.2 428.6 139.1 430.2 139.6 432.0 139.4 433.4 140.2 435.1 139.7 436.5 138.6 437.9 137.4 439.6 137.1 441.3 136.4 441.8 134.9 443.1 133.7 443.5 132.2 443.8 130.6 443.9 128.9 444.6 127.5 446.1 126.4 446.5 124.8 445.9 122.9 446.6 121.4 447.5 120.1 448.3 118.7 447.2 116.4 445.6 116.0 444.0 115.8 442.6 114.9 441.3 113.8 439.9 113.1 438.3 112.7 436.9 112.0 435.0 112.4 433.6 111.7 431.8 112.1 430.3 111.4 429.0 110.3 427.5 109.8 425.8 109.9 424.8 111.3 423.1 111.4 421.9 112.4ZM427.5 204.4 428.7 205.6 430.1 206.3 432.1 205.8 433.3 206.9 435.0 207.0 436.1 208.4 437.5 209.1 438.8 210.0 440.2 210.8 441.7 211.2 442.6 210.0 444.1 209.2 444.4 207.6 445.3 206.3 445.8 204.7 447.0 203.8 448.3 202.8 449.1 201.6 449.8 200.2 450.9 199.1 451.4 197.5 452.6 196.6 453.8 195.6 455.2 194.8 456.2 193.7 457.4 192.6 458.2 191.4 457.2 190.3 456.2 189.1 455.7 187.6 454.9 186.3 453.9 185.2 452.9 184.0 452.3 182.6 451.0 181.6 450.7 180.0 450.7 178.4 451.4 176.8 451.3 175.2 450.9 173.5 450.9 171.9 450.7 170.3 451.0 168.7 449.6 167.9 448.0 167.8 446.6 167.0 445.5 165.8 444.0 165.2 442.8 164.2 441.0 164.4 439.6 163.7 438.0 163.6 436.6 162.9 435.4 161.8 433.9 161.2 432.3 161.1 430.9 160.5 429.3 160.9 428.2 162.2 426.4 162.4 425.3 163.7 424.0 164.6 423.9 166.2 423.7 167.8 423.5 169.4 423.1 171.1 423.4 172.7 423.6 174.3 424.0 175.9 423.6 177.5 424.2 179.2 424.2 180.8 423.9 182.4 424.0 184.0 425.0 185.3 425.8 186.8 427.5 187.5 427.6 189.0 428.5 190.6 428.3 192.1 427.7 193.6 427.8 195.2 427.1 196.7 427.3 198.2 426.7 199.8 427.3 201.3 427.4 202.8ZM413.9 336.0 414.8 336.7 420.3 339.5 422.9 340.3 424.2 339.3 425.4 338.1 426.3 336.7 427.8 335.9 428.6 334.3 429.2 332.6 430.4 331.5 431.8 330.5 433.0 329.3 433.0 327.8 433.2 326.2 432.5 324.6 433.1 323.1 433.4 321.5 433.4 320.0 433.1 318.4 432.8 316.9 432.6 315.3 433.0 313.8 431.4 314.0 429.9 313.6 428.4 313.9 426.8 313.8 425.5 312.5 424.0 312.1 422.5 311.8 420.9 312.2 419.4 312.0 417.8 312.3 416.3 311.8 416.0 313.3 416.0 314.8 415.7 316.3 415.8 317.9 414.7 319.3 414.7 320.8 414.5 322.3 414.3 323.8 414.6 325.4 414.4 326.9 413.7 328.4 413.6 329.9 414.3 331.5 414.0 333.0 413.9 334.5ZM475.3 68.8 475.0 67.0 475.3 65.1 474.0 63.6 473.1 62.0 473.1 60.2 471.5 60.9 469.9 61.1 468.3 61.3 466.5 61.0 465.0 61.8 463.5 62.8 461.9 63.1 460.2 62.8 458.6 63.1 457.0 63.4 455.7 64.5 456.0 66.5 454.4 67.4 453.8 68.9 452.3 69.2 450.8 70.1 449.2 70.4 447.6 70.2 445.8 69.0 444.2 69.4 442.8 71.1 441.2 71.1 439.6 71.2 438.0 71.3 438.4 72.9 438.2 74.5 438.3 76.1 439.3 77.8 438.2 79.4 436.9 81.0 436.7 82.6 437.2 84.3 437.9 85.9 438.0 87.5 439.5 87.9 440.8 88.7 442.5 88.7 443.5 90.0 445.1 90.2 446.3 91.1 447.6 91.9 449.0 92.6 450.1 93.6 451.5 94.2 452.4 95.5 453.2 96.8 454.8 97.0 456.4 96.9 457.9 96.5 459.5 95.8 461.0 95.7 462.6 96.0 463.3 94.7 464.5 93.7 465.5 92.5 465.4 90.7 466.5 89.6 467.2 88.2 468.6 87.4 469.8 86.4 470.1 84.8 470.1 83.1 469.8 81.5 469.7 79.9 470.4 78.5 471.7 77.7 472.6 76.4 473.7 75.3 473.7 73.6 474.7 72.1 474.6 70.3ZM430.9 160.5 432.3 161.1 433.9 161.2 435.4 161.8 436.6 162.9 438.0 163.6 439.6 163.7 441.0 164.4 442.8 164.2 444.0 165.2 445.5 165.8 446.6 167.0 448.0 167.8 449.6 167.9 451.0 168.7 452.3 167.8 453.2 166.5 454.2 165.4 455.2 164.2 456.5 163.3 457.6 162.1 458.1 160.5 459.6 159.8 460.9 158.9 461.7 157.5 461.3 155.9 460.5 154.4 460.3 152.7 460.0 151.0 458.8 150.0 457.7 148.8 456.1 148.4 454.6 147.6 453.3 146.8 451.7 146.3 450.6 145.1 449.1 144.4 448.4 142.8 447.2 141.8 446.1 140.6 444.9 139.6 443.3 139.0 442.3 137.7 441.3 136.4 439.6 137.1 437.9 137.4 436.5 138.6 435.1 139.7 433.4 140.2 433.0 141.8 432.7 143.3 433.0 144.9 432.1 146.4 432.2 148.0 431.8 149.5 431.3 151.0 431.3 152.6 431.4 154.2 430.7 155.7 430.7 157.3 430.7 158.9ZM456.4 323.6 454.7 324.4 453.0 324.1 452.1 325.3 451.5 326.8 450.5 327.9 449.2 328.9 447.6 329.6 446.7 330.8 446.7 332.7 445.9 334.0 446.4 336.0 446.1 338.1 448.1 338.8 454.2 340.8 460.3 343.9 466.4 345.9 471.5 348.4 471.5 348.3 472.5 346.9 473.2 345.3 474.2 344.0 475.5 342.7 477.0 341.8 477.7 340.2 478.7 338.8 478.3 337.2 477.9 335.7 478.3 334.1 478.5 332.4 477.6 331.0 477.4 329.5 476.9 328.0 477.3 326.3 476.6 324.8 475.9 323.4 475.6 321.8 474.3 320.5 474.8 318.8 474.5 317.3 474.7 315.6 474.4 314.1 474.0 312.6 473.8 312.4 471.9 312.3 470.1 312.6 468.4 313.5 466.6 313.4 465.4 314.5 464.0 315.3 463.3 316.9 462.1 318.0 460.4 318.6 459.6 320.1 458.8 321.5 457.8 322.9ZM445.9 223.6 447.1 224.4 447.8 226.2 449.0 227.2 450.7 227.4 451.9 228.3 453.0 229.4 454.7 229.7 456.1 230.4 457.2 229.2 458.4 228.1 459.3 226.7 460.9 226.2 462.7 225.9 464.3 225.3 465.9 224.8 467.0 223.6 468.2 222.6 469.6 221.7 470.2 219.9 471.6 219.2 471.5 217.6 470.7 216.2 470.4 214.7 470.3 213.1 469.9 211.6 468.9 210.2 469.0 208.6 468.5 207.1 468.5 205.5 468.7 203.9 468.2 202.4 468.4 200.7 467.3 199.4 466.5 198.0 466.0 196.5 466.3 194.8 465.8 193.3 464.1 193.7 462.8 192.5 461.5 191.2 459.8 191.5 458.2 191.4 457.4 192.6 456.2 193.7 455.2 194.8 453.8 195.6 452.6 196.6 451.4 197.5 450.9 199.1 449.8 200.2 449.1 201.6 448.3 202.8 447.0 203.8 445.8 204.7 445.3 206.3 444.4 207.6 444.1 209.2 442.6 210.0 441.7 211.2 442.7 212.6 442.6 214.4 442.3 216.2 442.4 217.9 443.5 219.2 445.3 220.3 445.7 221.9ZM448.3 118.7 449.8 118.8 451.4 118.7 453.0 119.1 454.3 120.1 455.8 120.4 457.2 121.5 458.7 121.8 460.4 121.6 462.0 121.6 463.6 121.5 465.1 122.0 466.6 122.5 468.0 123.1 469.2 122.0 470.1 120.4 471.6 119.6 473.0 118.8 474.4 117.9 474.0 116.4 473.6 114.9 473.1 113.5 472.6 112.0 471.8 110.6 472.0 109.0 471.7 107.5 470.9 106.1 470.4 104.7 470.1 103.2 469.9 101.7 469.3 100.2 468.1 99.2 466.9 98.1 465.8 97.0 464.3 96.3 462.6 96.0 461.0 95.7 459.5 95.8 457.9 96.5 456.4 96.9 454.8 97.0 453.2 96.8 452.5 98.3 452.3 99.8 451.1 101.1 450.8 102.7 450.6 104.2 450.3 105.8 450.6 107.5 449.5 108.9 449.2 110.4 448.5 111.9 447.7 113.3 447.4 114.8 447.2 116.4ZM458.2 191.4 459.8 191.5 461.5 191.2 462.8 192.5 464.1 193.7 465.8 193.3 467.4 193.1 468.8 192.5 470.2 191.8 471.3 190.5 473.0 190.4 474.0 188.9 475.6 188.7 477.2 188.5 478.6 188.0 480.0 187.2 480.0 185.6 479.6 184.1 479.5 182.6 479.1 181.0 479.5 179.5 479.4 177.9 479.4 176.4 480.1 174.9 480.0 173.3 481.2 171.8 481.2 170.2 480.2 168.7 480.0 167.2 480.0 165.6 478.9 164.2 477.9 162.8 476.7 161.5 475.3 160.9 473.7 160.9 472.1 160.6 470.5 160.9 469.1 159.9 467.5 160.0 466.0 159.6 464.6 158.8 463.1 158.2 461.7 157.5 460.9 158.9 459.6 159.8 458.1 160.5 457.6 162.1 456.5 163.3 455.2 164.2 454.2 165.4 453.2 166.5 452.3 167.8 451.0 168.7 450.7 170.3 450.9 171.9 450.9 173.5 451.3 175.2 451.4 176.8 450.7 178.4 450.7 180.0 451.0 181.6 452.3 182.6 452.9 184.0 453.9 185.2 454.9 186.3 455.7 187.6 456.2 189.1 457.2 190.3ZM460.0 151.0 460.3 152.7 460.5 154.4 461.3 155.9 461.7 157.5 463.1 158.2 464.6 158.8 466.0 159.6 467.5 160.0 469.1 159.9 470.5 160.9 472.1 160.6 473.7 160.9 475.3 160.9 476.7 161.5 477.6 160.3 478.2 158.9 479.0 157.6 479.1 155.9 479.9 154.6 480.4 153.2 482.1 152.4 483.0 151.2 483.5 149.8 484.0 148.3 485.0 147.1 485.6 145.8 486.2 144.4 487.3 143.3 488.2 142.0 486.9 141.2 485.7 140.2 483.8 140.5 482.6 139.6 481.1 139.1 479.8 138.4 478.9 136.7 477.2 136.6 475.8 136.2 474.4 135.6 472.7 135.5 471.6 134.3 470.2 133.6 469.8 132.2 470.1 130.5 469.4 129.1 469.5 127.5 468.9 126.0 468.3 124.6 468.0 123.1 466.6 122.5 465.1 122.0 463.6 121.5 462.0 121.6 460.4 121.6 458.7 121.8 457.2 121.5 455.8 120.4 454.3 120.1 453.0 119.1 451.4 118.7 449.8 118.8 448.3 118.7 447.5 120.1 446.6 121.4 445.9 122.9 446.5 124.8 446.1 126.4 444.6 127.5 443.9 128.9 443.8 130.6 443.5 132.2 443.1 133.7 441.8 134.9 441.3 136.4 442.3 137.7 443.3 139.0 444.9 139.6 446.1 140.6 447.2 141.8 448.4 142.8 449.1 144.4 450.6 145.1 451.7 146.3 453.3 146.8 454.6 147.6 456.1 148.4 457.7 148.8 458.8 150.0ZM453.1 296.1 454.4 295.4 455.7 294.5 457.1 294.0 458.8 294.1 459.9 292.8 461.2 292.1 462.5 291.2 463.9 290.6 465.3 290.0 466.7 289.5 468.2 289.1 469.6 288.4 471.0 288.0 472.4 287.2 473.3 285.8 473.6 284.0 474.7 282.6 474.0 281.1 473.5 279.6 473.1 278.0 471.7 277.4 470.5 276.5 469.1 276.0 467.7 275.4 466.3 274.7 464.7 274.8 463.1 274.7 461.9 273.7 460.4 273.2 458.9 272.9 457.6 272.3 456.1 272.0 454.7 271.3 453.2 270.9 452.0 270.0 450.8 271.2 449.8 272.4 449.2 273.9 448.8 275.6 448.3 277.1 447.6 278.5 446.4 279.6 445.2 280.7 444.1 282.0 444.0 283.7 443.3 285.1 442.1 286.3 441.3 287.6 442.4 288.8 443.9 289.5 445.2 290.5 446.7 291.1 447.5 292.8 448.7 293.9 450.1 294.8 451.7 295.3ZM456.2 231.8 457.2 233.1 457.8 234.6 458.9 235.8 458.4 237.9 459.4 239.2 461.1 240.1 462.2 241.4 462.8 242.9 462.6 244.8 463.8 245.9 465.3 246.4 466.7 246.9 468.1 247.8 469.3 248.8 470.8 249.1 472.5 248.8 473.9 249.3 475.4 249.9 477.0 249.8 478.5 250.2 479.7 251.3 481.2 251.7 481.9 250.4 482.3 248.9 483.7 247.9 484.0 246.4 485.0 245.2 485.8 243.9 486.2 242.3 486.5 240.8 487.4 239.6 488.6 238.5 489.3 237.2 490.1 235.9 490.7 234.5 491.9 233.4 492.3 231.9 493.1 230.6 493.3 229.0 494.3 227.8 495.0 226.4 494.1 225.0 493.9 223.4 493.0 222.0 491.5 221.8 489.9 222.1 488.4 221.6 486.9 221.4 485.4 220.6 483.8 221.2 482.3 220.6 480.9 219.9 479.3 219.6 477.8 219.3 476.3 219.5 474.8 219.1 473.2 219.1 471.6 219.2 470.2 219.9 469.6 221.7 468.2 222.6 467.0 223.6 465.9 224.8 464.3 225.3 462.7 225.9 460.9 226.2 459.3 226.7 458.4 228.1 457.2 229.2 456.1 230.4ZM493.0 334.0 491.4 334.0 490.2 335.1 488.8 335.8 487.4 336.3 485.8 336.4 484.0 335.8 482.7 336.6 481.6 338.1 480.1 338.2 478.7 338.8 477.7 340.2 477.0 341.8 475.5 342.7 474.2 344.0 473.2 345.3 472.5 346.9 471.5 348.3 471.5 348.4 472.5 348.9 474.6 352.0 478.6 355.0 483.7 354.0 488.8 356.1 493.9 355.0 498.9 356.1 503.0 353.0 509.1 351.0 514.2 352.0 512.2 347.9 511.2 343.1 509.9 342.1 508.5 341.3 507.0 340.9 505.9 339.7 504.6 338.7 502.9 338.6 501.9 337.2 500.4 336.6 498.9 336.2 497.3 335.9 496.0 335.0 494.4 334.7ZM452.0 270.0 453.2 270.9 454.7 271.3 456.1 272.0 457.6 272.3 458.9 272.9 460.4 273.2 461.9 273.7 463.1 274.7 464.7 274.8 466.3 274.7 467.7 275.4 469.1 276.0 470.5 276.5 471.7 277.4 473.1 278.0 474.3 276.9 474.9 275.5 475.1 273.9 476.1 272.7 476.3 271.1 476.7 269.6 477.8 268.5 479.2 267.5 480.3 266.4 481.4 265.3 482.0 263.9 482.6 262.5 482.6 260.7 483.3 259.4 484.3 258.2 484.1 256.3 482.5 255.1 481.4 253.6 481.2 251.7 479.7 251.3 478.5 250.2 477.0 249.8 475.4 249.9 473.9 249.3 472.5 248.8 470.8 249.1 469.3 248.8 468.1 247.8 466.7 246.9 465.3 246.4 463.8 245.9 462.7 247.0 462.2 248.5 460.9 249.5 460.3 250.9 460.1 252.6 459.7 254.1 458.6 255.2 457.9 256.6 456.5 257.5 455.7 258.8 455.0 260.2 453.8 261.2 453.1 262.5 452.7 264.1 451.8 265.3 450.9 266.5 451.7 268.2ZM470.1 84.8 471.6 85.4 473.0 86.1 474.1 87.6 475.7 87.9 477.4 87.8 478.9 88.3 480.6 88.6 481.9 89.4 483.2 90.3 484.7 90.9 485.9 93.4 487.4 93.9 489.0 93.6 490.5 94.1 492.0 94.0 493.5 94.1 495.0 94.6 495.4 93.0 496.4 91.6 496.9 90.0 497.4 88.4 497.8 86.8 498.8 85.4 499.3 83.8 499.8 82.2 498.7 80.9 497.1 80.7 495.4 80.7 494.2 79.7 492.8 79.1 491.1 79.0 489.8 78.1 488.5 77.4 487.7 78.7 486.9 79.9 485.9 81.1 485.0 82.3 483.6 81.4 482.1 80.6 480.9 79.5 479.2 79.1 477.9 78.0 476.8 76.6 475.3 75.8 473.7 75.3 472.6 76.4 471.7 77.7 470.4 78.5 469.7 79.9 469.8 81.5 470.1 83.1ZM488.2 142.0 490.0 141.7 491.5 140.7 492.9 141.4 494.4 141.9 496.0 142.0 497.5 142.3 499.1 142.4 500.7 142.3 502.1 143.5 503.7 143.1 505.1 144.2 506.7 144.1 507.6 142.8 508.5 141.6 508.7 139.9 509.9 138.8 510.5 137.3 509.8 135.8 509.8 134.3 509.9 132.7 510.0 131.0 510.5 129.4 510.5 127.8 509.3 126.4 508.8 124.9 507.4 124.2 506.2 123.0 504.9 122.2 503.2 122.0 502.0 121.0 500.8 119.9 499.1 119.7 498.0 118.6 496.5 118.1 495.3 117.0 493.9 116.4 492.1 117.0 490.5 117.9 488.7 118.4 487.0 118.4 485.6 117.2 483.8 117.6 482.4 116.6 480.8 117.2 479.1 116.7 477.6 117.2 476.0 117.7 474.4 117.9 473.0 118.8 471.6 119.6 470.1 120.4 469.2 122.0 468.0 123.1 468.3 124.6 468.9 126.0 469.5 127.5 469.4 129.1 470.1 130.5 469.8 132.2 470.2 133.6 471.6 134.3 472.7 135.5 474.4 135.6 475.8 136.2 477.2 136.6 478.9 136.7 479.8 138.4 481.1 139.1 482.6 139.6 483.8 140.5 485.7 140.2 486.9 141.2ZM491.8 288.5 493.0 289.7 493.5 291.2 494.9 292.3 495.2 294.0 495.8 295.5 496.4 297.0 497.5 298.2 498.1 299.7 499.4 298.9 500.7 298.0 502.2 297.6 503.8 297.5 505.0 296.6 506.3 295.8 508.0 295.9 509.4 295.3 510.5 294.1 512.1 293.9 513.1 292.5 514.5 292.0 515.7 291.1 517.0 290.2 517.3 288.7 517.5 287.0 517.9 285.5 518.6 284.0 519.2 282.5 519.6 281.0 518.3 280.1 517.1 279.0 516.3 277.5 515.1 276.5 513.9 275.4 512.6 274.5 511.4 273.4 510.4 272.2 509.2 271.1 507.6 270.5 506.7 269.1 505.4 268.2 505.0 266.0 504.1 263.9 502.6 263.7 501.1 262.8 499.7 262.1 498.2 261.7 496.6 261.6 494.9 261.5 493.4 261.1 492.1 259.8 490.6 259.2 489.0 259.3 487.3 259.3 485.9 258.5 484.3 258.2 483.3 259.4 482.6 260.7 482.6 262.5 482.0 263.9 481.4 265.3 480.3 266.4 479.2 267.5 477.8 268.5 476.7 269.6 476.3 271.1 476.1 272.7 475.1 273.9 474.9 275.5 474.3 276.9 473.1 278.0 473.5 279.6 474.0 281.1 474.7 282.6 476.3 282.6 477.6 283.5 478.9 284.2 480.4 284.6 481.9 284.8 483.5 285.0 484.6 286.4 485.9 287.0 487.5 287.1 488.9 287.7 490.4 288.1ZM473.7 75.3 475.3 75.8 476.8 76.6 477.9 78.0 479.2 79.1 480.9 79.5 482.1 80.6 483.6 81.4 485.0 82.3 485.9 81.1 486.9 79.9 487.7 78.7 488.5 77.4 489.8 78.1 491.1 79.0 492.8 79.1 494.2 79.7 495.4 80.7 497.1 80.7 498.7 80.9 499.8 82.2 501.2 81.5 502.2 80.4 503.3 79.3 504.7 78.3 506.4 78.4 507.9 77.6 509.5 77.4 510.0 76.0 511.2 74.8 511.4 73.3 510.4 71.4 510.5 69.9 511.5 68.6 512.8 67.4 513.5 66.0 514.0 64.5 513.7 62.9 512.4 61.4 511.0 60.1 509.7 58.6 508.2 59.5 506.5 59.6 504.9 60.1 503.2 60.2 501.6 60.6 499.9 59.7 498.2 59.8 496.6 60.1 494.9 59.9 493.6 59.1 492.3 58.2 491.0 57.2 490.0 55.9 488.2 55.7 487.1 54.5 485.6 54.9 484.1 55.1 482.4 54.7 481.1 56.1 479.7 56.5 478.1 56.6 476.5 56.6 475.1 57.1 473.8 58.5 473.1 60.2 473.1 62.0 474.0 63.6 475.3 65.1 475.0 67.0 475.3 68.8 474.6 70.3 474.7 72.1 473.7 73.6ZM469.3 100.2 469.9 101.7 470.1 103.2 470.4 104.7 470.9 106.1 471.7 107.5 472.0 109.0 471.8 110.6 472.6 112.0 473.1 113.5 473.6 114.9 474.0 116.4 474.4 117.9 476.0 117.7 477.6 117.2 479.1 116.7 480.8 117.2 482.4 116.6 482.3 115.1 482.6 113.6 482.6 112.0 482.5 110.5 482.9 109.0 482.9 107.4 482.3 105.8 483.1 104.4 483.2 102.8 484.0 101.4 483.7 99.8 483.8 98.3 484.4 96.8 484.3 95.2 485.9 93.4 484.7 90.9 483.2 90.3 481.9 89.4 480.6 88.6 478.9 88.3 477.4 87.8 475.7 87.9 474.1 87.6 473.0 86.1 471.6 85.4 470.1 84.8 469.8 86.4 468.6 87.4 467.2 88.2 466.5 89.6 465.4 90.7 465.5 92.5 464.5 93.7 463.3 94.7 462.6 96.0 464.3 96.3 465.8 97.0 466.9 98.1 468.1 99.2ZM471.6 219.2 473.2 219.1 474.8 219.1 476.3 219.5 477.8 219.3 479.3 219.6 480.9 219.9 482.3 220.6 483.8 221.2 485.4 220.6 486.9 221.4 488.4 221.6 489.9 222.1 491.5 221.8 493.0 222.0 493.6 220.5 493.9 218.9 494.8 217.5 495.9 216.2 496.0 214.5 496.0 212.8 496.7 211.3 497.7 210.0 498.2 208.4 497.3 207.2 496.2 206.0 494.8 205.1 493.7 204.1 492.8 202.8 492.4 201.2 491.5 199.9 491.6 197.9 490.8 196.6 490.1 195.2 488.6 194.3 486.9 193.7 485.6 192.8 485.0 191.3 484.3 189.9 483.4 188.6 481.6 188.2 480.0 187.2 478.6 188.0 477.2 188.5 475.6 188.7 474.0 188.9 473.0 190.4 471.3 190.5 470.2 191.8 468.8 192.5 467.4 193.1 465.8 193.3 466.3 194.8 466.0 196.5 466.5 198.0 467.3 199.4 468.4 200.7 468.2 202.4 468.7 203.9 468.5 205.5 468.5 207.1 469.0 208.6 468.9 210.2 469.9 211.6 470.3 213.1 470.4 214.7 470.7 216.2 471.5 217.6ZM472.4 287.2 472.5 288.8 472.5 290.4 472.1 292.0 472.9 293.5 472.4 295.1 472.4 296.7 473.0 298.3 472.8 299.9 473.8 301.4 474.0 302.9 473.9 304.5 474.2 306.1 473.9 307.7 473.7 309.3 473.6 310.9 473.8 312.4 474.0 312.6 475.6 312.4 477.2 312.2 478.7 311.7 480.3 311.8 481.9 311.6 483.5 311.7 485.0 311.5 486.6 311.1 488.2 311.5 489.7 310.7 491.3 310.9 492.8 310.3 494.4 310.3 496.7 308.6 497.0 307.1 496.3 305.5 497.6 304.2 498.1 302.7 498.3 301.2 498.1 299.7 497.5 298.2 496.4 297.0 495.8 295.5 495.2 294.0 494.9 292.3 493.5 291.2 493.0 289.7 491.8 288.5 490.4 288.1 488.9 287.7 487.5 287.1 485.9 287.0 484.6 286.4 483.5 285.0 481.9 284.8 480.4 284.6 478.9 284.2 477.6 283.5 476.3 282.6 474.7 282.6 473.6 284.0 473.3 285.8ZM493.0 334.0 494.4 334.7 496.0 335.0 497.3 335.9 498.9 336.2 500.4 336.6 501.9 337.2 502.9 338.6 504.6 338.7 505.9 339.7 507.0 340.9 508.5 341.3 509.9 342.1 511.2 343.1 511.1 342.8 510.1 336.7 511.1 330.7 512.2 324.6 516.2 320.5 517.7 319.6 516.4 318.8 514.7 318.5 513.4 317.6 512.2 316.5 510.7 315.9 509.4 315.0 507.9 314.4 506.6 313.7 505.4 312.6 504.0 311.8 502.5 311.3 501.3 310.1 499.4 310.3 498.2 309.3 496.7 308.6 494.4 310.3 492.8 310.3 491.3 310.9 489.7 310.7 488.2 311.5 486.6 311.1 485.0 311.5 483.5 311.7 481.9 311.6 480.3 311.8 478.7 311.7 477.2 312.2 475.6 312.4 474.0 312.6 474.4 314.1 474.7 315.6 474.5 317.3 474.8 318.8 474.3 320.5 475.6 321.8 475.9 323.4 476.6 324.8 477.3 326.3 476.9 328.0 477.4 329.5 477.6 331.0 478.5 332.4 478.3 334.1 477.9 335.7 478.3 337.2 478.7 338.8 480.1 338.2 481.6 338.1 482.7 336.6 484.0 335.8 485.8 336.4 487.4 336.3 488.8 335.8 490.2 335.1 491.4 334.0ZM498.8 23.3 500.5 23.5 502.0 24.2 503.4 25.4 505.2 24.7 506.9 24.4 508.3 25.5 508.7 27.0 509.4 28.4 509.2 30.1 509.9 31.5 509.8 33.2 510.9 34.4 512.0 35.7 512.8 37.0 513.1 38.6 513.7 40.0 515.3 39.2 517.0 39.1 518.8 39.3 520.3 38.5 521.7 39.4 523.0 40.3 524.3 41.3 526.0 41.7 527.1 42.9 528.7 43.4 529.6 44.9 530.6 46.3 531.8 47.4 533.4 48.0 534.9 48.6 536.3 49.5 537.5 50.4 538.7 49.4 539.6 48.2 540.6 47.1 541.2 45.6 539.3 45.6 539.1 41.5 537.3 37.8 537.9 33.5 535.5 31.7 530.6 29.9 527.0 29.9 523.3 26.8 519.6 23.8 514.8 22.0 513.5 17.1 510.5 12.8 506.2 13.4 503.2 15.2 498.9 12.2 496.5 7.3 495.9 2.4 494.6 0.0 491.6 1.2 484.3 2.4 480.9 3.5 481.7 4.8 482.3 6.1 482.8 7.6 483.6 8.9 483.8 10.4 484.7 11.6 485.3 13.0 485.9 14.4 486.3 15.8 487.8 16.3 489.3 16.6 490.8 16.5 492.2 17.4 493.8 17.2 495.3 17.3 495.6 19.1 497.6 20.0 497.6 22.0ZM487.1 54.5 488.2 55.7 490.0 55.9 491.0 57.2 492.3 58.2 493.6 59.1 494.9 59.9 496.6 60.1 498.2 59.8 499.9 59.7 501.6 60.6 503.2 60.2 504.9 60.1 506.5 59.6 508.2 59.5 509.7 58.6 510.1 57.1 510.3 55.6 509.7 54.0 509.3 52.4 509.3 50.9 510.4 49.5 511.4 48.0 511.8 46.5 510.7 44.9 510.9 43.4 509.4 43.0 507.8 42.9 506.4 41.9 504.8 41.7 503.3 41.1 501.4 41.9 500.0 41.2 498.6 40.2 497.1 39.5 495.7 38.6 494.1 38.6 492.4 38.5 490.9 38.1 490.8 38.1 489.2 37.7 487.8 36.8 486.8 35.4 485.3 34.8 484.0 33.7 482.3 33.6 480.6 33.6 479.1 32.9 477.9 31.8 476.3 31.4 475.2 30.1 473.7 29.6 472.1 29.8 470.4 29.4 468.8 30.2 469.9 34.6 468.3 37.9 467.1 39.1 468.0 40.4 468.5 41.8 468.4 43.5 468.8 45.0 469.6 46.3 470.3 47.7 471.7 48.7 472.7 49.9 473.5 51.2 473.7 52.8 473.6 54.5 474.2 55.8 475.1 57.1 476.5 56.6 478.1 56.6 479.7 56.5 481.1 56.1 482.4 54.7 484.1 55.1 485.6 54.9ZM480.0 187.2 481.6 188.2 483.4 188.6 484.8 188.1 486.1 187.4 487.3 186.3 488.7 185.7 490.1 185.1 491.5 184.6 493.2 184.7 494.5 183.9 496.2 183.9 497.3 182.7 498.7 182.1 499.8 180.8 501.1 180.0 502.3 179.2 503.8 178.8 505.1 178.0 506.5 177.4 507.9 176.8 509.4 176.4 510.8 175.8 510.4 174.3 509.7 172.9 509.0 171.4 507.8 170.3 507.3 168.8 507.1 167.1 506.2 165.8 505.6 164.3 505.9 162.8 506.4 161.2 506.3 159.5 506.5 157.9 506.9 156.4 508.5 155.1 508.7 153.5 508.6 151.8 508.9 150.2 507.9 148.8 508.4 147.0 507.2 145.6 506.7 144.1 505.1 144.2 503.7 143.1 502.1 143.5 500.7 142.3 499.1 142.4 497.5 142.3 496.0 142.0 494.4 141.9 492.9 141.4 491.5 140.7 490.0 141.7 488.2 142.0 487.3 143.3 486.2 144.4 485.6 145.8 485.0 147.1 484.0 148.3 483.5 149.8 483.0 151.2 482.1 152.4 480.4 153.2 479.9 154.6 479.1 155.9 479.0 157.6 478.2 158.9 477.6 160.3 476.7 161.5 477.9 162.8 478.9 164.2 480.0 165.6 480.0 167.2 480.2 168.7 481.2 170.2 481.2 171.8 480.0 173.3 480.1 174.9 479.4 176.4 479.4 177.9 479.5 179.5 479.1 181.0 479.5 182.6 479.6 184.1 480.0 185.6ZM484.3 95.2 484.4 96.8 483.8 98.3 483.7 99.8 484.0 101.4 483.2 102.8 483.1 104.4 482.3 105.8 482.9 107.4 482.9 109.0 482.5 110.5 482.6 112.0 482.6 113.6 482.3 115.1 482.4 116.6 483.8 117.6 485.6 117.2 487.0 118.4 488.7 118.4 490.5 117.9 492.1 117.0 493.9 116.4 494.9 115.0 494.9 113.0 496.2 111.8 496.6 110.1 497.7 108.8 498.6 107.3 498.6 105.7 498.4 104.1 497.8 102.6 497.8 101.0 497.1 99.5 497.2 97.9 496.8 96.3 495.0 94.6 493.5 94.1 492.0 94.0 490.5 94.1 489.0 93.6 487.4 93.9 485.9 93.4ZM484.3 258.2 485.9 258.5 487.3 259.3 489.0 259.3 490.6 259.2 492.1 259.8 493.4 261.1 494.9 261.5 496.6 261.6 498.2 261.7 499.7 262.1 501.1 262.8 502.6 263.7 504.1 263.9 504.8 262.5 506.1 261.6 507.1 260.4 508.5 259.6 509.7 258.6 510.6 257.3 511.8 256.3 512.1 254.6 513.0 253.4 513.3 251.7 514.6 250.7 515.5 249.5 515.0 248.0 515.7 246.3 514.9 244.8 514.4 243.3 514.4 241.7 514.1 240.1 514.7 238.5 514.1 236.9 512.6 236.4 511.2 235.7 509.9 234.8 508.7 233.7 507.6 232.6 506.0 232.1 504.5 231.6 503.1 231.0 501.6 230.6 500.2 229.8 498.8 229.2 497.5 228.2 496.4 227.1 495.0 226.4 494.3 227.8 493.3 229.0 493.1 230.6 492.3 231.9 491.9 233.4 490.7 234.5 490.1 235.9 489.3 237.2 488.6 238.5 487.4 239.6 486.5 240.8 486.2 242.3 485.8 243.9 485.0 245.2 484.0 246.4 483.7 247.9 482.3 248.9 481.9 250.4 481.2 251.7 481.4 253.6 482.5 255.1 484.1 256.3ZM495.0 226.4 496.4 227.1 497.5 228.2 498.8 229.2 500.2 229.8 501.6 230.6 503.1 231.0 504.5 231.6 506.0 232.1 507.6 232.6 508.7 233.7 509.9 234.8 511.2 235.7 512.6 236.4 514.1 236.9 515.3 236.0 517.0 235.7 518.3 234.8 519.4 233.6 520.3 232.1 521.3 230.8 523.0 230.4 524.5 229.9 525.8 228.9 526.9 227.7 527.1 225.9 528.1 224.4 528.4 222.6 529.2 221.1 528.8 219.4 527.3 218.2 526.8 216.6 526.4 215.0 526.9 213.1 526.8 211.4 525.7 210.0 525.5 208.3 524.8 206.8 523.1 207.0 521.5 206.6 520.1 205.3 518.6 204.2 517.1 203.8 515.3 204.3 513.5 204.5 512.0 203.7 510.4 203.6 508.8 203.1 507.3 204.0 505.8 204.7 504.4 205.7 503.0 206.6 501.3 207.0 499.7 207.7 498.2 208.4 497.7 210.0 496.7 211.3 496.0 212.8 496.0 214.5 495.9 216.2 494.8 217.5 493.9 218.9 493.6 220.5 493.0 222.0 493.9 223.4 494.1 225.0ZM496.8 96.3 497.2 97.9 497.1 99.5 497.8 101.0 497.8 102.6 498.4 104.1 498.6 105.7 498.6 107.3 497.7 108.8 496.6 110.1 496.2 111.8 494.9 113.0 494.9 115.0 493.9 116.4 495.3 117.0 496.5 118.1 498.0 118.6 499.1 119.7 500.8 119.9 502.0 121.0 503.2 122.0 504.9 122.2 506.2 123.0 507.4 124.2 508.8 124.9 509.4 123.4 510.6 122.4 511.5 121.2 513.1 120.5 514.3 119.5 514.5 117.7 515.2 116.3 515.5 114.6 516.7 113.6 518.1 112.7 519.3 111.7 520.2 110.5 521.1 109.2 521.9 108.7 522.7 107.3 522.4 105.6 523.6 104.3 523.9 102.8 522.9 101.2 522.7 99.5 522.0 97.9 521.7 96.1 520.8 94.6 520.2 93.0 520.2 92.9 519.5 91.5 518.6 90.2 517.6 89.0 516.4 87.9 515.8 86.4 514.6 85.3 513.9 83.9 513.5 82.3 512.2 81.3 511.1 80.2 510.6 78.6 509.5 77.4 507.9 77.6 506.4 78.4 504.7 78.3 503.3 79.3 502.2 80.4 501.2 81.5 499.8 82.2 499.3 83.8 498.8 85.4 497.8 86.8 497.4 88.4 496.9 90.0 496.4 91.6 495.4 93.0 495.0 94.6ZM558.8 291.2 558.1 289.7 557.1 288.2 556.9 286.6 557.9 284.8 557.4 283.2 557.0 281.6 556.7 280.0 555.1 280.1 553.5 280.4 551.9 280.8 550.3 279.9 548.7 279.6 547.1 279.2 545.5 279.3 543.9 280.0 542.3 280.1 540.7 279.7 539.1 280.0 537.5 280.0 536.1 278.6 534.4 277.7 532.6 277.0 531.2 277.5 529.7 277.6 528.3 278.4 527.2 279.8 525.9 280.8 524.1 280.2 522.6 280.3 520.9 280.1 519.6 281.0 519.2 282.5 518.6 284.0 517.9 285.5 517.5 287.0 517.3 288.7 517.0 290.2 517.7 291.6 518.5 292.9 519.7 293.9 520.0 295.5 521.4 296.3 522.3 297.5 523.2 298.8 524.0 300.0 524.5 301.5 525.0 303.0 526.0 304.2 527.3 305.1 528.4 306.1 529.3 307.3 530.1 308.6 530.8 309.9 531.5 311.3 533.5 310.3 536.5 309.5 539.8 307.9 543.0 308.7 543.5 308.8 544.4 307.5 545.2 306.2 546.5 305.2 547.6 304.1 548.7 303.0 549.4 301.6 550.5 300.5 551.8 299.5 552.8 298.3 554.3 297.6 555.1 296.3 556.3 295.2 556.8 293.6 557.9 292.5ZM592.5 299.5 591.3 298.3 589.9 297.3 589.1 295.8 588.0 294.4 586.5 293.5 585.0 293.9 583.5 294.4 581.9 294.5 580.4 295.0 578.8 295.2 577.4 296.3 575.9 296.7 574.5 297.4 573.0 298.2 571.3 297.9 569.8 298.6 568.3 297.9 567.6 296.0 566.4 294.7 564.6 294.4 562.9 294.0 561.3 293.4 559.8 292.7 558.8 291.2 557.9 292.5 556.8 293.6 556.3 295.2 555.1 296.3 554.3 297.6 552.8 298.3 551.8 299.5 550.5 300.5 549.4 301.6 548.7 303.0 547.6 304.1 546.5 305.2 545.2 306.2 544.4 307.5 543.5 308.8 546.3 309.5 551.1 310.3 555.2 312.0 556.8 314.4 561.7 313.6 564.1 311.1 565.8 312.8 569.0 314.4 573.9 315.2 578.8 315.2 580.4 318.5 585.3 320.1 589.3 320.9 590.1 321.5 590.2 319.9 590.0 318.3 590.8 316.8 591.5 315.3 591.5 313.7 590.8 312.0 590.7 310.4 590.6 308.8 591.9 307.4 591.6 305.7 591.9 304.2 591.8 302.6 592.1 301.0ZM536.3 194.0 535.7 192.6 535.5 191.0 535.0 189.6 534.1 188.3 533.7 186.8 533.6 185.2 532.4 184.0 531.2 182.9 529.6 182.0 529.0 180.6 528.7 179.0 528.4 177.5 526.9 177.3 525.4 176.4 523.8 176.7 522.3 177.1 520.7 176.8 519.2 176.8 517.6 177.2 516.0 177.4 514.5 176.9 513.0 177.0 511.5 176.4 510.8 175.8 509.4 176.4 507.9 176.8 506.5 177.4 505.1 178.0 503.8 178.8 502.3 179.2 501.1 180.0 499.8 180.8 498.7 182.1 497.3 182.7 496.2 183.9 494.5 183.9 493.2 184.7 491.5 184.6 490.1 185.1 488.7 185.7 487.3 186.3 486.1 187.4 484.8 188.1 483.4 188.6 484.3 189.9 485.0 191.3 485.6 192.8 486.9 193.7 488.6 194.3 490.1 195.2 490.8 196.6 491.6 197.9 491.5 199.9 492.4 201.2 492.8 202.8 493.7 204.1 494.8 205.1 496.2 206.0 497.3 207.2 498.2 208.4 499.7 207.7 501.3 207.0 503.0 206.6 504.4 205.7 505.8 204.7 507.3 204.0 508.8 203.1 510.4 203.6 512.0 203.7 513.5 204.5 515.3 204.3 517.1 203.8 518.6 204.2 520.1 205.3 521.5 206.6 523.1 207.0 524.8 206.8 525.8 205.6 527.0 204.6 528.0 203.4 529.0 202.1 529.7 200.7 530.7 199.5 532.4 198.9 533.4 197.6 534.4 196.5 535.5 195.4ZM510.8 175.8 511.5 176.4 513.0 177.0 514.5 176.9 516.0 177.4 517.6 177.2 519.2 176.8 520.7 176.8 522.3 177.1 523.8 176.7 525.4 176.4 526.9 177.3 528.4 177.5 529.0 176.1 530.0 174.9 531.1 173.9 533.0 173.4 533.8 172.1 534.8 171.0 535.1 169.3 535.2 167.5 536.0 166.2 536.9 165.0 538.1 164.0 539.8 163.4 540.5 162.0 541.4 160.9 541.4 158.9 540.4 157.1 540.4 155.2 538.9 154.8 537.4 154.6 535.9 154.6 534.3 154.7 532.9 154.1 531.4 153.9 529.8 154.4 528.4 153.4 526.9 153.1 525.4 152.7 523.9 152.6 522.4 152.3 520.9 152.0 519.4 152.1 517.9 151.5 516.3 151.9 514.9 151.2 513.4 151.1 512.0 150.4 510.4 150.6 508.9 150.2 508.6 151.8 508.7 153.5 508.5 155.1 506.9 156.4 506.5 157.9 506.3 159.5 506.4 161.2 505.9 162.8 505.6 164.3 506.2 165.8 507.1 167.1 507.3 168.8 507.8 170.3 509.0 171.4 509.7 172.9 510.4 174.3ZM509.7 58.6 511.0 60.1 512.4 61.4 513.7 62.9 514.0 64.5 513.5 66.0 512.8 67.4 511.5 68.6 510.5 69.9 510.4 71.4 511.4 73.3 511.2 74.8 510.0 76.0 509.5 77.4 510.6 78.6 511.1 80.2 512.2 81.3 513.5 82.3 513.9 83.9 514.6 85.3 515.8 86.4 516.4 87.9 517.6 89.0 518.6 90.2 519.5 91.5 520.2 92.9 521.2 91.7 522.5 90.8 523.3 89.3 524.1 87.9 525.7 87.2 526.6 85.9 528.4 85.4 529.3 84.0 530.1 82.5 530.5 80.8 531.8 79.8 533.5 79.2 534.7 78.1 535.6 76.8 536.5 75.5 536.0 74.0 535.2 72.7 534.9 71.1 534.0 69.8 533.4 68.4 532.9 66.9 532.3 65.5 531.5 64.2 531.8 62.5 532.7 61.2 534.5 60.4 535.1 58.9 535.3 57.1 535.8 55.6 537.3 54.6 537.7 52.5 537.5 50.4 536.3 49.5 534.9 48.6 533.4 48.0 531.8 47.4 530.6 46.3 529.6 44.9 528.7 43.4 527.1 42.9 526.0 41.7 524.3 41.3 523.0 40.3 521.7 39.4 520.3 38.5 518.8 39.3 517.0 39.1 515.3 39.2 513.7 40.0 512.4 41.7 510.9 43.4 510.7 44.9 511.8 46.5 511.4 48.0 510.4 49.5 509.3 50.9 509.3 52.4 509.7 54.0 510.3 55.6 510.1 57.1ZM506.7 144.1 507.2 145.6 508.4 147.0 507.9 148.8 508.9 150.2 510.4 150.6 512.0 150.4 513.4 151.1 514.9 151.2 516.3 151.9 517.9 151.5 519.4 152.1 520.9 152.0 522.4 152.3 523.9 152.6 525.4 152.7 526.9 153.1 528.4 153.4 529.8 154.4 531.4 153.9 532.9 154.1 534.3 154.7 535.9 154.6 537.4 154.6 538.9 154.8 540.4 155.2 540.4 155.0 540.3 153.4 540.1 151.9 539.8 150.3 540.0 148.8 538.9 147.3 538.3 145.8 538.4 144.2 538.4 142.6 538.6 141.0 539.5 139.4 539.4 137.8 538.8 136.3 538.8 134.7 538.0 133.3 538.1 131.7 537.8 130.1 537.2 129.9 536.6 128.5 536.0 127.0 535.5 125.5 534.2 124.5 532.7 123.7 531.2 122.9 529.7 122.1 528.4 121.1 528.3 119.3 527.3 118.1 527.7 115.9 527.3 114.4 526.5 113.0 525.3 112.0 524.3 110.8 522.9 109.9 521.9 108.7 521.1 109.2 520.2 110.5 519.3 111.7 518.1 112.7 516.7 113.6 515.5 114.6 515.2 116.3 514.5 117.7 514.3 119.5 513.1 120.5 511.5 121.2 510.6 122.4 509.4 123.4 508.8 124.9 509.3 126.4 510.5 127.8 510.5 129.4 510.0 131.0 509.9 132.7 509.8 134.3 509.8 135.8 510.5 137.3 509.9 138.8 508.7 139.9 508.5 141.6 507.6 142.8ZM505.4 268.2 506.7 269.1 507.6 270.5 509.2 271.1 510.4 272.2 511.4 273.4 512.6 274.5 513.9 275.4 515.1 276.5 516.3 277.5 517.1 279.0 518.3 280.1 519.6 281.0 520.9 280.1 522.6 280.3 524.1 280.2 525.9 280.8 527.2 279.8 528.3 278.4 529.7 277.6 531.2 277.5 532.6 277.0 532.5 275.3 532.1 273.7 532.5 272.1 532.1 270.4 532.6 268.9 533.3 267.3 533.4 265.7 534.2 264.1 534.6 262.6 534.7 261.0 534.4 259.3 534.3 257.7 532.8 257.1 531.6 255.9 530.1 255.5 528.4 255.6 526.9 255.0 525.4 254.5 524.1 253.6 522.7 252.8 521.6 251.4 520.1 250.8 518.5 250.6 517.0 250.1 515.5 249.5 514.6 250.7 513.3 251.7 513.0 253.4 512.1 254.6 511.8 256.3 510.6 257.3 509.7 258.6 508.5 259.6 507.1 260.4 506.1 261.6 504.8 262.5 504.1 263.9 505.0 266.0ZM517.0 290.2 515.7 291.1 514.5 292.0 513.1 292.5 512.1 293.9 510.5 294.1 509.4 295.3 508.0 295.9 506.3 295.8 505.0 296.6 503.8 297.5 502.2 297.6 500.7 298.0 499.4 298.9 498.1 299.7 498.3 301.2 498.1 302.7 497.6 304.2 496.3 305.5 497.0 307.1 496.7 308.6 498.2 309.3 499.4 310.3 501.3 310.1 502.5 311.3 504.0 311.8 505.4 312.6 506.6 313.7 507.9 314.4 509.4 315.0 510.7 315.9 512.2 316.5 513.4 317.6 514.7 318.5 516.4 318.8 517.7 319.6 521.3 317.4 527.4 313.4 531.5 311.3 530.8 309.9 530.1 308.6 529.3 307.3 528.4 306.1 527.3 305.1 526.0 304.2 525.0 303.0 524.5 301.5 524.0 300.0 523.2 298.8 522.3 297.5 521.4 296.3 520.0 295.5 519.7 293.9 518.5 292.9 517.7 291.6ZM585.5 70.1 586.7 72.0 588.7 73.0 589.2 74.5 589.0 76.1 588.7 77.7 590.2 79.1 589.8 80.7 591.3 81.8 592.9 82.5 594.3 83.7 594.8 85.2 595.3 86.6 596.0 88.0 597.2 88.8 598.8 89.1 600.4 89.3 601.4 90.7 602.6 91.8 604.1 92.1 605.4 94.8 606.7 95.4 608.2 95.9 609.3 97.2 610.5 98.3 612.1 98.3 613.6 98.5 615.0 99.0 616.6 99.1 618.1 99.4 619.4 98.3 620.6 97.3 621.2 95.8 622.2 94.5 623.2 93.3 624.3 92.1 624.5 90.5 624.0 89.0 625.0 87.8 625.5 86.1 626.7 85.0 628.2 84.3 629.2 83.1 630.6 82.2 632.0 81.4 633.3 80.4 634.0 79.0 628.9 77.7 626.0 74.1 621.8 75.5 617.5 75.5 613.2 73.4 609.0 74.1 604.7 71.3 600.4 65.6 594.7 62.7 590.5 62.7 585.5 64.1 585.9 65.6 585.1 67.1 585.6 68.6ZM523.9 102.8 525.5 102.6 527.1 102.6 528.6 101.8 530.1 101.4 531.7 101.2 533.3 101.1 534.9 100.9 536.5 100.4 538.1 100.9 539.7 101.0 541.3 100.7 542.9 100.8 544.5 100.9 546.1 100.6 547.9 101.4 549.8 102.0 551.5 103.0 553.3 102.5 554.5 101.0 556.0 100.1 556.4 98.5 557.7 97.3 558.7 96.0 558.6 94.2 559.0 92.6 558.8 90.8 559.6 89.4 560.1 87.8 561.2 86.5 562.3 85.2 562.4 83.5 561.5 82.1 561.1 80.4 559.5 79.6 558.2 78.5 557.4 77.1 556.7 75.6 555.2 75.5 553.7 75.6 552.2 75.4 550.7 75.0 549.2 75.3 547.7 75.3 546.1 75.4 544.7 75.9 543.2 76.4 541.7 76.2 540.2 76.8 538.6 76.4 536.5 75.5 535.6 76.8 534.7 78.1 533.5 79.2 531.8 79.8 530.5 80.8 530.1 82.5 529.3 84.0 528.4 85.4 526.6 85.9 525.7 87.2 524.1 87.9 523.3 89.3 522.5 90.8 521.2 91.7 520.2 92.9 520.2 93.0 520.8 94.6 521.7 96.1 522.0 97.9 522.7 99.5 522.9 101.2ZM514.1 236.9 514.7 238.5 514.1 240.1 514.4 241.7 514.4 243.3 514.9 244.8 515.7 246.3 515.0 248.0 515.5 249.5 517.0 250.1 518.5 250.6 520.1 250.8 521.6 251.4 522.7 252.8 524.1 253.6 525.4 254.5 526.9 255.0 528.4 255.6 530.1 255.5 531.6 255.9 532.8 257.1 534.3 257.7 535.3 257.1 536.3 255.8 537.2 254.5 537.3 252.8 537.6 251.1 537.9 249.5 538.4 248.0 539.5 246.7 540.2 245.3 541.0 243.9 541.3 242.3 542.1 240.9 543.0 239.6 541.9 238.5 540.7 237.6 539.5 236.6 538.2 235.8 536.9 234.9 535.5 234.2 533.9 233.8 532.9 232.5 531.4 232.0 530.8 230.2 529.5 229.3 528.2 228.5 526.9 227.7 525.8 228.9 524.5 229.9 523.0 230.4 521.3 230.8 520.3 232.1 519.4 233.6 518.3 234.8 517.0 235.7 515.3 236.0ZM521.9 108.7 522.9 109.9 524.3 110.8 525.3 112.0 526.5 113.0 527.3 114.4 527.7 115.9 527.3 118.1 528.3 119.3 528.4 121.1 529.7 122.1 531.2 122.9 532.7 123.7 534.2 124.5 535.5 125.5 536.0 127.0 536.6 128.5 537.2 129.9 537.8 130.1 539.3 129.8 540.5 128.5 541.7 127.6 543.2 127.1 544.6 126.4 545.8 125.3 547.5 125.2 548.9 124.6 550.2 123.6 551.5 122.8 551.3 121.3 551.7 119.7 551.5 118.2 551.9 116.7 551.9 115.2 551.9 113.7 551.1 112.1 551.5 110.6 551.1 109.1 551.0 107.6 551.1 106.1 551.6 104.5 551.5 103.0 549.8 102.0 547.9 101.4 546.1 100.6 544.5 100.9 542.9 100.8 541.3 100.7 539.7 101.0 538.1 100.9 536.5 100.4 534.9 100.9 533.3 101.1 531.7 101.2 530.1 101.4 528.6 101.8 527.1 102.6 525.5 102.6 523.9 102.8 523.6 104.3 522.4 105.6 522.7 107.3ZM526.9 227.7 528.2 228.5 529.5 229.3 530.8 230.2 531.4 232.0 532.9 232.5 533.9 233.8 535.5 234.2 536.9 234.9 538.2 235.8 539.5 236.6 540.7 237.6 541.9 238.5 543.0 239.6 544.6 238.9 546.2 238.8 547.8 238.4 549.5 238.5 551.0 237.6 552.5 236.8 554.1 236.4 555.9 236.9 557.5 236.3 558.2 234.6 558.3 232.9 558.0 231.2 557.3 229.5 556.5 227.9 557.5 226.2 557.5 224.5 556.3 223.4 555.0 222.7 553.9 221.6 552.2 221.3 550.9 220.6 549.7 219.6 548.3 218.9 547.0 218.1 547.2 216.5 547.2 214.9 547.3 213.3 547.7 211.7 547.5 210.1 547.7 208.5 547.2 206.9 546.6 205.3 546.2 203.7 547.1 202.1 547.3 200.5 547.4 198.9 546.9 197.3 547.0 195.8 545.5 195.4 544.1 194.3 542.5 194.3 541.0 194.3 539.3 194.9 537.8 194.5 536.3 194.0 535.5 195.4 534.4 196.5 533.4 197.6 532.4 198.9 530.7 199.5 529.7 200.7 529.0 202.1 528.0 203.4 527.0 204.6 525.8 205.6 524.8 206.8 525.5 208.3 525.7 210.0 526.8 211.4 526.9 213.1 526.4 215.0 526.8 216.6 527.3 218.2 528.8 219.4 529.2 221.1 528.4 222.6 528.1 224.4 527.1 225.9ZM536.3 194.0 537.8 194.5 539.3 194.9 541.0 194.3 542.5 194.3 544.1 194.3 545.5 195.4 547.0 195.8 548.7 195.7 550.2 195.0 551.7 194.4 553.3 194.1 554.8 193.4 555.1 192.9 556.7 192.6 558.1 191.5 559.4 190.6 561.0 190.1 562.5 189.6 564.3 189.7 566.0 189.6 567.6 189.4 569.0 188.5 570.3 187.4 571.9 186.9 572.4 185.3 572.5 183.6 573.3 182.1 573.6 180.4 574.3 178.9 573.2 177.6 572.0 176.4 571.4 174.9 570.4 173.5 569.6 172.1 569.1 170.5 568.4 169.0 568.1 167.3 567.1 166.0 565.6 165.9 564.0 165.1 562.5 165.7 561.1 166.0 559.5 165.5 558.1 166.2 556.6 167.2 555.2 167.5 553.6 167.3 552.1 167.3 550.4 167.0 549.5 165.6 548.2 164.7 546.8 164.1 545.2 163.7 544.1 162.5 542.7 161.7 541.4 160.9 540.5 162.0 539.8 163.4 538.1 164.0 536.9 165.0 536.0 166.2 535.2 167.5 535.1 169.3 534.8 171.0 533.8 172.1 533.0 173.4 531.1 173.9 530.0 174.9 529.0 176.1 528.4 177.5 528.7 179.0 529.0 180.6 529.6 182.0 531.2 182.9 532.4 184.0 533.6 185.2 533.7 186.8 534.1 188.3 535.0 189.6 535.5 191.0 535.7 192.6ZM537.5 50.4 537.7 52.5 537.3 54.6 535.8 55.6 535.3 57.1 535.1 58.9 534.5 60.4 532.7 61.2 531.8 62.5 531.5 64.2 532.3 65.5 532.9 66.9 533.4 68.4 534.0 69.8 534.9 71.1 535.2 72.7 536.0 74.0 536.5 75.5 538.6 76.4 540.2 76.8 541.7 76.2 543.2 76.4 544.7 75.9 546.1 75.4 547.7 75.3 549.2 75.3 550.7 75.0 552.2 75.4 553.7 75.6 555.2 75.5 556.7 75.6 557.0 74.0 558.1 72.7 558.1 71.0 559.0 69.6 559.4 68.1 559.6 66.5 560.1 65.0 560.9 63.5 561.1 61.9 562.3 60.5 563.8 59.3 565.5 58.4 566.7 56.9 563.4 54.9 557.0 51.3 556.3 45.6 556.3 38.5 554.9 37.1 552.8 40.0 550.6 44.2 546.4 45.6 541.2 45.6 540.6 47.1 539.6 48.2 538.7 49.4ZM535.3 257.1 534.3 257.7 534.4 259.3 534.7 261.0 534.6 262.6 534.2 264.1 533.4 265.7 533.3 267.3 532.6 268.9 532.1 270.4 532.5 272.1 532.1 273.7 532.5 275.3 532.6 277.0 534.4 277.7 536.1 278.6 537.5 280.0 539.1 280.0 540.7 279.7 542.3 280.1 543.9 280.0 545.5 279.3 547.1 279.2 548.7 279.6 550.3 279.9 551.9 280.8 553.5 280.4 555.1 280.1 556.7 280.0 558.1 278.6 559.0 276.8 559.1 275.2 559.3 273.7 558.9 272.1 558.9 270.6 559.2 269.0 558.7 267.5 559.0 265.9 558.9 264.3 558.6 262.8 559.3 261.2 558.6 259.7 559.0 258.1 558.6 256.6 559.0 255.0 559.2 253.5 558.9 251.9 558.8 250.4 559.1 248.8 559.6 247.2 559.5 245.7 559.4 244.1 558.9 242.6 558.8 241.0 558.9 239.5 559.0 237.9 557.5 236.3 555.9 236.9 554.1 236.4 552.5 236.8 551.0 237.6 549.5 238.5 547.8 238.4 546.2 238.8 544.6 238.9 543.0 239.6 542.1 240.9 541.3 242.3 541.0 243.9 540.2 245.3 539.5 246.7 538.4 248.0 537.9 249.5 537.6 251.1 537.3 252.8 537.2 254.5 536.3 255.8ZM540.4 155.2 540.4 157.1 541.4 158.9 541.4 160.9 542.7 161.7 544.1 162.5 545.2 163.7 546.8 164.1 548.2 164.7 549.5 165.6 550.4 167.0 552.1 167.3 553.6 167.3 555.2 167.5 556.6 167.2 558.1 166.2 559.5 165.5 561.1 166.0 562.5 165.7 564.0 165.1 565.6 165.9 567.1 166.0 568.1 164.8 568.8 163.5 569.1 161.8 569.8 160.5 570.5 159.1 571.6 158.0 573.0 157.2 573.6 155.7 575.1 154.9 575.4 153.3 576.4 152.1 577.0 150.7 576.4 149.0 575.1 147.6 574.1 146.1 572.7 145.0 571.0 144.7 569.7 143.5 567.6 144.0 566.2 143.0 565.4 141.6 565.3 139.9 564.6 138.6 563.3 137.5 562.7 136.1 561.4 135.1 560.2 134.0 558.9 133.0 559.0 131.1 558.2 129.8 558.0 128.2 557.3 126.8 556.1 125.7 555.3 124.4 553.4 123.4 551.5 122.8 550.2 123.6 548.9 124.6 547.5 125.2 545.8 125.3 544.6 126.4 543.2 127.1 541.7 127.6 540.5 128.5 539.3 129.8 537.8 130.1 538.1 131.7 538.0 133.3 538.8 134.7 538.8 136.3 539.4 137.8 539.5 139.4 538.6 141.0 538.4 142.6 538.4 144.2 538.3 145.8 538.9 147.3 540.0 148.8 539.8 150.3 540.1 151.9 540.3 153.4 540.4 155.0ZM557.5 224.5 558.6 223.4 559.5 221.9 560.6 220.8 562.6 220.5 563.9 219.5 564.5 217.8 565.2 216.2 566.4 215.1 567.8 214.2 566.8 213.0 566.4 211.5 565.6 210.2 564.2 209.2 563.3 208.0 562.0 207.0 561.3 205.6 560.2 204.5 559.7 203.0 559.4 201.3 558.3 200.2 557.5 198.9 556.8 197.6 556.2 196.2 555.4 194.9 554.8 193.4 553.3 194.1 551.7 194.4 550.2 195.0 548.7 195.7 547.0 195.8 546.9 197.3 547.4 198.9 547.3 200.5 547.1 202.1 546.2 203.7 546.6 205.3 547.2 206.9 547.7 208.5 547.5 210.1 547.7 211.7 547.3 213.3 547.2 214.9 547.2 216.5 547.0 218.1 548.3 218.9 549.7 219.6 550.9 220.6 552.2 221.3 553.9 221.6 555.0 222.7 556.3 223.4ZM559.0 237.9 560.6 238.0 562.2 238.2 563.8 238.4 565.3 238.9 566.9 239.2 568.5 239.2 570.1 239.3 571.8 238.3 573.3 238.4 574.9 238.6 576.4 239.7 578.0 239.6 578.4 241.1 578.6 242.6 578.9 244.1 579.4 245.5 578.9 247.2 579.2 248.7 579.9 250.0 580.5 251.4 581.1 252.9 581.6 254.3 582.2 255.7 582.4 257.2 583.9 258.1 585.2 259.3 586.6 258.5 588.3 258.2 589.7 257.4 590.5 255.8 592.0 255.2 593.4 254.4 594.4 253.1 595.6 252.0 596.9 250.9 598.6 250.7 600.4 250.6 601.7 249.8 603.0 248.8 603.9 247.5 604.5 245.9 605.4 244.6 605.6 242.9 606.0 241.3 605.0 240.1 603.9 239.0 602.8 238.0 600.9 237.8 599.8 236.8 598.7 235.7 597.8 234.4 596.4 233.6 595.8 232.0 594.8 230.8 593.5 229.9 592.0 229.3 590.6 228.6 589.6 227.4 589.6 225.5 589.3 223.7 587.9 222.8 586.6 221.9 585.1 221.2 583.8 220.3 582.5 219.3 580.9 218.9 579.4 218.3 578.0 217.5 576.4 217.3 575.0 216.4 573.4 216.0 572.2 214.9 570.8 214.0 569.3 214.2 567.8 214.2 566.4 215.1 565.2 216.2 564.5 217.8 563.9 219.5 562.6 220.5 560.6 220.8 559.5 221.9 558.6 223.4 557.5 224.5 557.5 226.2 556.5 227.9 557.3 229.5 558.0 231.2 558.3 232.9 558.2 234.6 557.5 236.3ZM556.0 100.1 557.5 100.8 559.0 101.2 560.4 101.9 561.9 102.3 563.5 102.4 565.1 102.6 566.6 103.0 568.1 103.3 569.6 103.9 570.9 104.9 572.4 105.6 574.1 105.2 575.5 105.9 577.0 106.3 578.0 105.0 579.8 105.0 580.8 103.7 582.1 102.9 581.3 101.5 580.7 100.0 580.3 98.5 579.9 97.0 579.5 95.4 579.0 93.9 578.4 92.5 577.5 91.1 577.1 89.6 576.4 88.1 576.0 86.6 575.4 85.1 574.1 84.4 572.8 83.5 572.9 81.9 574.0 80.7 574.6 79.3 574.7 77.6 575.0 76.1 575.5 74.7 576.0 73.3 576.7 71.9 576.1 70.4 574.6 69.4 573.5 68.1 573.2 66.4 572.9 64.7 572.2 63.2 571.4 61.8 569.8 60.9 569.2 59.4 568.4 58.0 566.7 56.9 565.5 58.4 563.8 59.3 562.3 60.5 561.1 61.9 560.9 63.5 560.1 65.0 559.6 66.5 559.4 68.1 559.0 69.6 558.1 71.0 558.1 72.7 557.0 74.0 556.7 75.6 557.4 77.1 558.2 78.5 559.5 79.6 561.1 80.4 561.5 82.1 562.4 83.5 562.3 85.2 561.2 86.5 560.1 87.8 559.6 89.4 558.8 90.8 559.0 92.6 558.6 94.2 558.7 96.0 557.7 97.3 556.4 98.5ZM559.0 237.9 558.9 239.5 558.8 241.0 558.9 242.6 559.4 244.1 559.5 245.7 559.6 247.2 559.1 248.8 558.8 250.4 558.9 251.9 559.2 253.5 559.0 255.0 558.6 256.6 559.0 258.1 558.6 259.7 559.3 261.2 558.6 262.8 558.9 264.3 559.0 265.9 558.7 267.5 559.2 269.0 558.9 270.6 558.9 272.1 559.3 273.7 559.1 275.2 559.0 276.8 560.6 276.8 562.1 276.5 563.7 277.1 565.2 277.6 566.7 278.2 568.2 279.1 569.8 278.8 571.4 279.0 573.0 278.0 574.6 277.2 576.1 277.0 577.7 277.1 579.3 276.7 580.8 276.8 582.4 277.6 583.9 277.8 585.4 278.2 586.7 276.8 587.7 275.3 588.4 273.5 587.5 272.0 587.4 270.4 587.8 268.7 587.9 267.0 587.2 265.5 585.8 264.1 585.4 262.5 585.7 260.8 585.2 259.3 583.9 258.1 582.4 257.2 582.2 255.7 581.6 254.3 581.1 252.9 580.5 251.4 579.9 250.0 579.2 248.7 578.9 247.2 579.4 245.5 578.9 244.1 578.6 242.6 578.4 241.1 578.0 239.6 576.4 239.7 574.9 238.6 573.3 238.4 571.8 238.3 570.1 239.3 568.5 239.2 566.9 239.2 565.3 238.9 563.8 238.4 562.2 238.2 560.6 238.0ZM558.8 291.2 559.8 292.7 561.3 293.4 562.9 294.0 564.6 294.4 566.4 294.7 567.6 296.0 568.3 297.9 569.8 298.6 571.3 297.9 573.0 298.2 574.5 297.4 575.9 296.7 577.4 296.3 578.8 295.2 580.4 295.0 581.9 294.5 583.5 294.4 585.0 293.9 586.5 293.5 586.4 292.0 586.9 290.4 586.2 288.9 585.8 287.4 585.6 285.9 585.7 284.3 585.5 282.8 585.5 281.3 585.7 279.7 585.4 278.2 583.9 277.8 582.4 277.6 580.8 276.8 579.3 276.7 577.7 277.1 576.1 277.0 574.6 277.2 573.0 278.0 571.4 279.0 569.8 278.8 568.2 279.1 566.7 278.2 565.2 277.6 563.7 277.1 562.1 276.5 560.6 276.8 559.0 276.8 558.1 278.6 556.7 280.0 557.0 281.6 557.4 283.2 557.9 284.8 556.9 286.6 557.1 288.2 558.1 289.7ZM555.3 124.4 556.1 125.7 557.3 126.8 558.0 128.2 558.2 129.8 559.0 131.1 558.9 133.0 560.2 134.0 561.4 135.1 562.7 136.1 563.3 137.5 564.6 138.6 565.3 139.9 565.4 141.6 566.2 143.0 567.6 144.0 569.7 143.5 571.0 144.7 572.7 145.0 574.1 146.1 574.4 144.6 575.2 143.3 576.2 142.1 577.0 140.8 577.5 139.3 577.6 137.8 578.4 136.4 579.0 135.0 579.8 133.7 579.6 132.0 580.5 130.8 580.4 129.1 581.2 127.8 580.6 126.2 579.1 125.3 578.0 124.2 576.2 123.6 575.3 122.3 575.1 120.3 573.8 119.2 574.4 117.7 575.1 116.1 575.1 114.4 575.2 112.7 576.0 111.2 576.0 109.5 576.1 107.8 577.0 106.3 575.5 105.9 574.1 105.2 572.4 105.6 570.9 104.9 569.6 103.9 568.1 103.3 566.6 103.0 565.1 102.6 563.5 102.4 561.9 102.3 560.4 101.9 559.0 101.2 557.5 100.8 556.0 100.1 554.5 101.0 553.3 102.5 551.5 103.0 551.6 104.5 551.1 106.1 551.0 107.6 551.1 109.1 551.5 110.6 551.1 112.1 551.9 113.7 551.9 115.2 551.9 116.7 551.5 118.2 551.7 119.7 551.3 121.3 551.5 122.8 553.4 123.4ZM567.8 214.2 569.3 214.2 570.8 214.0 572.2 214.9 573.4 216.0 575.0 216.4 576.4 217.3 578.0 217.5 579.4 218.3 580.9 218.9 582.5 219.3 583.8 220.3 585.1 221.2 586.6 221.9 587.9 222.8 589.3 223.7 590.3 222.6 590.7 220.9 592.3 220.2 593.3 219.1 593.4 217.3 594.6 216.3 595.7 215.2 596.6 213.9 596.0 212.4 596.2 210.7 596.2 209.1 596.3 207.5 594.9 206.1 594.0 204.7 593.2 203.2 593.7 201.5 593.2 200.0 593.5 198.3 592.8 196.8 591.3 196.5 589.8 196.5 588.2 197.8 586.7 197.3 585.2 196.7 583.7 196.8 582.2 195.8 580.7 195.7 579.5 194.7 579.3 192.7 577.1 192.7 575.4 192.2 575.0 190.3 574.8 188.4 572.9 188.1 571.9 186.9 570.3 187.4 569.0 188.5 567.6 189.4 566.0 189.6 564.3 189.7 562.5 189.6 561.0 190.1 559.4 190.6 558.1 191.5 556.7 192.6 555.1 192.9 554.8 193.4 555.4 194.9 556.2 196.2 556.8 197.6 557.5 198.9 558.3 200.2 559.4 201.3 559.7 203.0 560.2 204.5 561.3 205.6 562.0 207.0 563.3 208.0 564.2 209.2 565.6 210.2 566.4 211.5 566.8 213.0ZM572.8 83.5 574.1 84.4 575.4 85.1 576.0 86.6 576.4 88.1 577.1 89.6 577.5 91.1 578.4 92.5 579.0 93.9 579.5 95.4 579.9 97.0 580.3 98.5 580.7 100.0 581.3 101.5 582.1 102.9 582.5 102.9 583.9 103.7 585.5 104.2 586.8 105.0 588.1 106.0 589.2 107.4 590.9 107.6 592.4 108.3 593.8 108.9 595.0 110.1 596.3 109.3 598.0 109.1 599.2 108.1 600.8 108.3 602.4 108.7 603.9 109.3 605.5 109.6 606.9 110.4 608.3 111.5 609.6 112.6 611.4 112.3 613.1 112.4 614.7 112.6 616.3 112.9 617.8 113.5 619.3 114.3 619.7 114.0 619.4 112.4 619.6 110.7 619.5 109.1 619.9 107.4 619.2 105.8 618.4 104.3 618.6 102.6 618.2 101.0 618.1 99.4 616.6 99.1 615.0 99.0 613.6 98.5 612.1 98.3 610.5 98.3 609.3 97.2 608.2 95.9 606.7 95.4 605.4 94.8 604.1 92.1 602.6 91.8 601.4 90.7 600.4 89.3 598.8 89.1 597.2 88.8 596.0 88.0 595.3 86.6 594.8 85.2 594.3 83.7 592.9 82.5 591.3 81.8 589.8 80.7 590.2 79.1 588.7 77.7 589.0 76.1 589.2 74.5 588.7 73.0 586.7 72.0 585.5 70.1 585.6 68.6 585.1 67.1 585.9 65.6 585.5 64.1 581.9 61.3 577.7 61.3 573.4 62.7 569.1 58.4 568.4 58.0 569.2 59.4 569.8 60.9 571.4 61.8 572.2 63.2 572.9 64.7 573.2 66.4 573.5 68.1 574.6 69.4 576.1 70.4 576.7 71.9 576.0 73.3 575.5 74.7 575.0 76.1 574.7 77.6 574.6 79.3 574.0 80.7 572.9 81.9ZM574.3 178.9 573.6 180.4 573.3 182.1 572.5 183.6 572.4 185.3 571.9 186.9 572.9 188.1 574.8 188.4 575.0 190.3 575.4 192.2 577.1 192.7 579.3 192.7 579.5 194.7 580.7 195.7 582.2 195.8 583.7 196.8 585.2 196.7 586.7 197.3 588.2 197.8 589.8 196.5 591.3 196.5 592.8 196.8 594.6 194.6 595.2 193.4 596.8 189.8 595.2 186.8 596.3 184.2 595.8 182.2 596.8 179.7 598.8 177.6 599.1 176.5 597.5 175.9 596.0 175.1 594.4 174.5 593.2 173.4 592.3 172.1 591.5 170.8 591.2 169.2 590.9 167.7 590.4 166.3 589.9 164.8 588.7 163.7 588.1 162.3 587.8 160.7 586.8 159.5 586.4 158.0 586.1 156.5 584.9 155.3 584.6 153.8 583.9 152.5 582.1 152.3 580.5 151.3 578.8 151.0 577.0 150.7 576.4 152.1 575.4 153.3 575.1 154.9 573.6 155.7 573.0 157.2 571.6 158.0 570.5 159.1 569.8 160.5 569.1 161.8 568.8 163.5 568.1 164.8 567.1 166.0 568.1 167.3 568.4 169.0 569.1 170.5 569.6 172.1 570.4 173.5 571.4 174.9 572.0 176.4 573.2 177.6ZM581.2 127.8 582.8 127.7 584.4 127.6 586.0 127.4 587.5 126.5 589.2 126.7 590.8 126.3 592.4 126.1 594.0 125.4 595.0 123.9 596.4 124.4 598.0 124.3 599.4 125.0 600.7 125.8 602.3 125.9 603.6 126.5 605.2 126.4 606.6 127.1 608.0 127.5 609.8 126.8 611.1 125.1 613.1 124.8 614.2 123.7 615.3 122.5 615.7 121.0 615.4 119.1 615.8 117.5 618.0 117.1 619.2 116.0 619.3 114.3 617.8 113.5 616.3 112.9 614.7 112.6 613.1 112.4 611.4 112.3 609.6 112.6 608.3 111.5 606.9 110.4 605.5 109.6 603.9 109.3 602.4 108.7 600.8 108.3 599.2 108.1 598.0 109.1 596.3 109.3 595.0 110.1 593.8 108.9 592.4 108.3 590.9 107.6 589.2 107.4 588.1 106.0 586.8 105.0 585.5 104.2 583.9 103.7 582.5 102.9 582.1 102.9 580.8 103.7 579.8 105.0 578.0 105.0 577.0 106.3 576.1 107.8 576.0 109.5 576.0 111.2 575.2 112.7 575.1 114.4 575.1 116.1 574.4 117.7 573.8 119.2 575.1 120.3 575.3 122.3 576.2 123.6 578.0 124.2 579.1 125.3 580.6 126.2ZM581.2 127.8 580.4 129.1 580.5 130.8 579.6 132.0 579.8 133.7 579.0 135.0 578.4 136.4 577.6 137.8 577.5 139.3 577.0 140.8 576.2 142.1 575.2 143.3 574.4 144.6 574.1 146.1 575.1 147.6 576.4 149.0 577.0 150.7 578.8 151.0 580.5 151.3 582.1 152.3 583.9 152.5 585.4 151.9 587.0 151.5 588.4 150.6 589.5 149.0 590.9 148.2 593.1 149.0 594.5 148.2 595.9 147.2 596.0 147.3 597.3 146.5 598.5 145.4 599.7 144.2 601.0 143.5 602.9 144.0 604.6 144.0 605.9 143.1 607.1 142.1 607.2 140.4 606.9 138.8 607.4 137.2 607.3 135.6 607.5 134.0 608.1 132.4 608.5 130.8 607.9 129.1 608.0 127.5 606.6 127.1 605.2 126.4 603.6 126.5 602.3 125.9 600.7 125.8 599.4 125.0 598.0 124.3 596.4 124.4 595.0 123.9 594.0 125.4 592.4 126.1 590.8 126.3 589.2 126.7 587.5 126.5 586.0 127.4 584.4 127.6 582.8 127.7ZM585.2 259.3 585.7 260.8 585.4 262.5 585.8 264.1 587.2 265.5 587.9 267.0 587.8 268.7 587.4 270.4 587.5 272.0 588.4 273.5 590.0 273.3 591.6 274.1 593.2 274.4 594.8 273.3 596.4 273.7 598.1 275.2 599.7 275.1 601.3 273.6 602.9 273.2 604.5 273.5 605.5 272.3 606.5 271.0 608.1 270.5 609.2 269.3 610.5 268.4 611.7 267.5 613.3 267.4 614.9 267.8 616.5 267.3 618.2 267.1 619.8 266.9 621.4 267.3 623.0 267.5 622.6 265.7 623.7 260.6 626.7 257.6 625.7 253.5 622.6 249.4 617.6 245.4 615.5 241.3 618.6 239.3 623.7 238.3 625.9 236.0 624.4 236.3 623.0 237.2 621.2 236.9 619.5 236.6 617.9 236.9 616.4 237.3 615.2 238.9 613.7 239.4 612.2 240.0 610.7 240.6 609.2 241.0 607.6 241.4 606.0 241.3 605.6 242.9 605.4 244.6 604.5 245.9 603.9 247.5 603.0 248.8 601.7 249.8 600.4 250.6 598.6 250.7 596.9 250.9 595.6 252.0 594.4 253.1 593.4 254.4 592.0 255.2 590.5 255.8 589.7 257.4 588.3 258.2 586.6 258.5ZM617.2 297.4 615.5 296.7 613.5 296.6 611.9 295.6 610.3 295.7 608.8 295.7 607.4 296.5 606.0 297.3 604.6 297.9 603.1 298.5 601.5 298.1 600.0 298.2 598.4 297.9 597.0 298.6 595.4 298.3 593.9 298.8 592.5 299.5 592.1 301.0 591.8 302.6 591.9 304.2 591.6 305.7 591.9 307.4 590.6 308.8 590.7 310.4 590.8 312.0 591.5 313.7 591.5 315.3 590.8 316.8 590.0 318.3 590.2 319.9 590.1 321.5 592.6 323.3 596.7 324.1 601.5 324.1 611.3 320.9 616.2 320.1 618.6 316.8 621.1 312.8 624.3 307.9 624.8 306.8 624.0 305.5 623.3 304.2 622.1 303.2 620.3 302.7 619.9 301.0 619.2 299.6 618.5 298.3ZM588.4 273.5 587.7 275.3 586.7 276.8 585.4 278.2 585.7 279.7 585.5 281.3 585.5 282.8 585.7 284.3 585.6 285.9 585.8 287.4 586.2 288.9 586.9 290.4 586.4 292.0 586.5 293.5 588.0 294.4 589.1 295.8 589.9 297.3 591.3 298.3 592.5 299.5 593.9 298.8 595.4 298.3 597.0 298.6 598.4 297.9 600.0 298.2 601.5 298.1 603.1 298.5 604.6 297.9 606.0 297.3 607.4 296.5 608.8 295.7 610.3 295.7 611.9 295.6 613.5 296.6 615.5 296.7 617.2 297.4 617.8 296.0 618.1 294.5 618.6 293.0 619.3 291.7 620.4 290.5 621.0 289.1 622.4 288.1 623.0 286.7 623.4 285.3 624.4 284.0 624.2 282.3 624.7 280.8 624.6 279.1 625.9 278.1 626.3 276.5 627.4 275.4 628.2 274.1 627.7 273.8 623.7 270.8 623.0 267.5 621.4 267.3 619.8 266.9 618.2 267.1 616.5 267.3 614.9 267.8 613.3 267.4 611.7 267.5 610.5 268.4 609.2 269.3 608.1 270.5 606.5 271.0 605.5 272.3 604.5 273.5 602.9 273.2 601.3 273.6 599.7 275.1 598.1 275.2 596.4 273.7 594.8 273.3 593.2 274.4 591.6 274.1 590.0 273.3ZM589.6 227.4 590.6 228.6 592.0 229.3 593.5 229.9 594.8 230.8 595.8 232.0 596.4 233.6 597.8 234.4 598.7 235.7 599.8 236.8 600.9 237.8 602.8 238.0 603.9 239.0 605.0 240.1 606.0 241.3 607.6 241.4 609.2 241.0 610.7 240.6 612.2 240.0 613.7 239.4 615.2 238.9 616.4 237.3 617.9 236.9 619.5 236.6 621.2 236.9 623.0 237.2 624.4 236.3 625.9 236.0 627.7 234.2 628.7 229.1 625.7 224.1 621.7 220.0 619.6 216.7 616.6 214.7 615.4 213.1 613.9 213.7 612.3 213.6 610.7 213.1 609.1 213.1 607.5 212.4 605.9 212.2 604.4 212.9 602.8 213.4 601.3 213.9 599.7 213.6 598.1 214.0 596.6 213.9 595.7 215.2 594.6 216.3 593.4 217.3 593.3 219.1 592.3 220.2 590.7 220.9 590.3 222.6 589.3 223.7 589.6 225.5ZM595.9 147.2 594.5 148.2 593.1 149.0 590.9 148.2 589.5 149.0 588.4 150.6 587.0 151.5 585.4 151.9 583.9 152.5 584.6 153.8 584.9 155.3 586.1 156.5 586.4 158.0 586.8 159.5 587.8 160.7 588.1 162.3 588.7 163.7 589.9 164.8 590.4 166.3 590.9 167.7 591.2 169.2 591.5 170.8 592.3 172.1 593.2 173.4 594.4 174.5 596.0 175.1 597.5 175.9 599.1 176.5 600.7 170.7 603.7 165.6 608.8 160.5 614.9 154.4 619.0 148.3 619.6 147.5 618.2 147.0 617.0 145.8 615.6 145.3 613.9 145.3 612.6 144.5 611.3 143.7 609.8 143.3 608.6 142.4 607.1 142.1 605.9 143.1 604.6 144.0 602.9 144.0 601.0 143.5 599.7 144.2 598.5 145.4 597.3 146.5 596.0 147.3ZM596.6 213.9 598.1 214.0 599.7 213.6 601.3 213.9 602.8 213.4 604.4 212.9 605.9 212.2 607.5 212.4 609.1 213.1 610.7 213.1 612.3 213.6 613.9 213.7 615.4 213.1 615.1 212.7 617.6 210.7 621.7 208.6 622.7 205.1 620.7 201.5 618.6 197.9 616.6 194.4 616.1 191.3 615.1 188.3 611.5 187.8 607.4 188.3 604.4 189.3 601.8 190.3 600.8 192.4 600.3 194.9 598.3 196.9 594.7 197.9 593.7 196.4 594.6 194.6 592.8 196.8 593.5 198.3 593.2 200.0 593.7 201.5 593.2 203.2 594.0 204.7 594.9 206.1 596.3 207.5 596.2 209.1 596.2 210.7 596.0 212.4ZM617.2 297.4 618.5 298.3 619.2 299.6 619.9 301.0 620.3 302.7 622.1 303.2 623.3 304.2 624.0 305.5 624.8 306.8 625.9 304.6 630.0 299.8 632.8 296.1 637.9 293.1 640.9 289.0 645.0 285.0 647.0 279.9 645.0 277.9 638.9 278.9 632.8 276.9 628.2 274.1 627.4 275.4 626.3 276.5 625.9 278.1 624.6 279.1 624.7 280.8 624.2 282.3 624.4 284.0 623.4 285.3 623.0 286.7 622.4 288.1 621.0 289.1 620.4 290.5 619.3 291.7 618.6 293.0 618.1 294.5 617.8 296.0ZM613.1 124.8 614.2 125.9 615.7 126.7 616.7 127.8 616.9 129.7 617.8 130.8 619.1 131.7 620.5 132.6 621.2 134.0 622.3 135.0 622.7 136.7 623.6 137.9 625.2 138.5 626.6 139.2 627.8 140.2 628.2 141.9 629.3 143.0 631.5 141.5 633.9 135.6 632.7 127.1 633.9 118.5 634.2 116.3 632.6 115.6 631.0 115.2 629.3 115.5 627.7 115.5 626.2 114.6 624.5 114.8 622.9 114.5 621.2 114.9 619.7 114.0 619.3 114.3 619.2 116.0 618.0 117.1 615.8 117.5 615.4 119.1 615.7 121.0 615.3 122.5 614.2 123.7ZM607.1 142.1 608.6 142.4 609.8 143.3 611.3 143.7 612.6 144.5 613.9 145.3 615.6 145.3 617.0 145.8 618.2 147.0 619.6 147.5 622.0 144.5 627.0 144.5 629.3 143.0 628.2 141.9 627.8 140.2 626.6 139.2 625.2 138.5 623.6 137.9 622.7 136.7 622.3 135.0 621.2 134.0 620.5 132.6 619.1 131.7 617.8 130.8 616.9 129.7 616.7 127.8 615.7 126.7 614.2 125.9 613.1 124.8 611.1 125.1 609.8 126.8 608.0 127.5 607.9 129.1 608.5 130.8 608.1 132.4 607.5 134.0 607.3 135.6 607.4 137.2 606.9 138.8 607.2 140.4ZM624.3 92.1 623.2 93.3 622.2 94.5 621.2 95.8 620.6 97.3 619.4 98.3 618.1 99.4 618.2 101.0 618.6 102.6 618.4 104.3 619.2 105.8 619.9 107.4 619.5 109.1 619.6 110.7 619.4 112.4 619.7 114.0 621.2 114.9 622.9 114.5 624.5 114.8 626.2 114.6 627.7 115.5 629.3 115.5 631.0 115.2 632.6 115.6 634.2 116.3 635.1 108.8 637.6 99.0 641.2 91.7 644.9 85.6 647.3 80.7 640.3 79.1 634.6 79.1 634.0 79.0 633.3 80.4 632.0 81.4 630.6 82.2 629.2 83.1 628.2 84.3 626.7 85.0 625.5 86.1 625.0 87.8 624.0 89.0 624.5 90.5Z" fill="none" stroke="#13303d" stroke-width="1.4" stroke-linejoin="round"/>
<polygon points="469.9,9.1 474.5,5.5 484.3,2.4 491.6,1.2 494.6,0.0 495.9,2.4 496.5,7.3 498.9,12.2 503.2,15.2 506.2,13.4 510.5,12.8 513.5,17.1 514.8,22.0 519.6,23.8 523.3,26.8 527.0,29.9 530.6,29.9 535.5,31.7 537.9,33.5 537.3,37.8 539.1,41.5 539.3,45.6 546.4,45.6 550.6,44.2 552.8,40.0 554.9,37.1 556.3,38.5 556.3,45.6 557.0,51.3 563.4,54.9 569.1,58.4 573.4,62.7 577.7,61.3 581.9,61.3 585.5,64.1 590.5,62.7 594.7,62.7 600.4,65.6 604.7,71.3 609.0,74.1 613.2,73.4 617.5,75.5 621.8,75.5 626.0,74.1 628.9,77.7 634.6,79.1 640.3,79.1 647.3,80.7 644.9,85.6 641.2,91.7 637.6,99.0 635.1,108.8 633.9,118.5 632.7,127.1 633.9,135.6 631.5,141.5 627.0,144.5 622.0,144.5 619.0,148.3 614.9,154.4 608.8,160.5 603.7,165.6 600.7,170.7 598.8,177.6 596.8,179.7 595.8,182.2 596.3,184.2 595.2,186.8 596.8,189.8 595.2,193.4 593.7,196.4 594.7,197.9 598.3,196.9 600.3,194.9 600.8,192.4 601.8,190.3 604.4,189.3 607.4,188.3 611.5,187.8 615.1,188.3 616.1,191.3 616.6,194.4 618.6,197.9 620.7,201.5 622.7,205.1 621.7,208.6 617.6,210.7 615.1,212.7 616.6,214.7 619.6,216.7 621.7,220.0 625.7,224.1 628.7,229.1 627.7,234.2 623.7,238.3 618.6,239.3 615.5,241.3 617.6,245.4 622.6,249.4 625.7,253.5 626.7,257.6 623.7,260.6 622.6,265.7 623.7,270.8 627.7,273.8 632.8,276.9 638.9,278.9 645.0,277.9 647.0,279.9 645.0,285.0 640.9,289.0 637.9,293.1 632.8,296.1 630.0,299.8 625.9,304.6 624.3,307.9 621.1,312.8 618.6,316.8 616.2,320.1 611.3,320.9 606.4,322.5 601.5,324.1 596.7,324.1 592.6,323.3 589.3,320.9 585.3,320.1 580.4,318.5 578.8,315.2 573.9,315.2 569.0,314.4 565.8,312.8 564.1,311.1 561.7,313.6 556.8,314.4 555.2,312.0 551.1,310.3 546.3,309.5 543.0,308.7 539.8,307.9 536.5,309.5 533.5,310.3 527.4,313.4 521.3,317.4 516.2,320.5 512.2,324.6 511.1,330.7 510.1,336.7 511.1,342.8 512.2,347.9 514.2,352.0 509.1,351.0 503.0,353.0 498.9,356.1 493.9,355.0 488.8,356.1 483.7,354.0 478.6,355.0 474.6,352.0 472.5,348.9 466.4,345.9 460.3,343.9 454.2,340.8 448.1,338.8 442.0,336.7 440.4,340.4 436.8,341.3 431.3,340.4 425.8,341.3 420.3,339.5 414.8,336.7 411.2,334.0 407.5,334.9 403.9,336.7 400.2,334.0 396.6,332.2 392.9,330.3 387.4,328.5 381.9,324.8 377.4,323.9 375.5,321.2 372.8,316.6 370.1,314.8 367.3,312.0 371.0,310.2 374.6,306.6 377.4,299.3 379.2,291.9 381.0,284.6 382.5,278.0 383.9,270.6 384.8,263.3 385.7,259.6 388.5,259.8 389.8,261.5 388.6,257.2 386.6,255.9 387.5,244.9 388.5,234.0 389.4,226.8 390.6,226.0 393.5,228.2 397.0,231.2 400.5,234.6 403.6,237.8 402.2,232.2 399.2,228.0 395.2,224.4 391.5,222.3 389.9,219.1 388.4,217.7 387.7,214.8 389.2,211.3 390.6,207.7 391.3,204.1 389.9,200.6 388.4,198.4 389.9,197.0 390.6,194.9 388.4,192.8 383.5,191.3 378.5,188.5 374.2,185.6 372.1,182.8 369.2,177.8 366.4,173.6 364.9,168.4 364.1,165.5 365.6,161.3 364.9,157.7 363.4,155.6 364.1,153.4 368.4,151.3 364.1,150.6 359.9,152.0 356.3,150.6 355.6,147.0 356.3,143.5 351.3,142.0 347.1,139.9 344.2,137.1 340.0,134.2 337.1,132.1 334.3,130.7 331.4,130.0 329.8,128.4 327.0,127.7 321.3,126.9 315.6,125.5 311.5,124.3 308.5,124.6 305.5,123.5 304.5,121.0 302.5,118.5 299.5,117.0 296.5,115.3 301.0,114.8 306.0,114.5 309.5,113.3 307.5,111.5 303.5,110.8 300.5,110.0 302.5,108.8 306.5,108.2 310.0,108.6 312.5,107.5 311.0,104.3 308.0,103.1 303.0,103.6 299.5,103.6 296.8,102.5 296.3,99.3 297.3,96.5 298.7,94.1 302.5,93.1 306.3,91.7 311.1,91.7 315.9,91.2 320.7,91.7 325.4,92.2 328.5,90.5 330.5,88.5 332.7,87.1 336.9,86.4 341.2,86.4 344.9,87.2 348.1,92.0 351.4,96.9 354.6,100.2 359.5,96.1 364.4,96.1 368.5,97.7 371.7,96.9 375.0,96.1 379.0,97.7 383.9,97.7 385.5,96.1 383.9,92.0 383.9,85.5 383.1,79.0 381.5,72.5 379.8,66.0 378.2,60.3 376.6,53.8 378.2,53.0 382.3,55.4 387.2,56.3 392.0,55.4 394.5,57.9 393.7,62.8 396.1,68.5 398.5,69.3 402.6,68.5 404.9,68.8 408.3,70.1 411.4,70.4 413.2,71.7 417.9,72.0 424.4,71.2 430.1,68.8 434.5,67.2 431.0,63.5 430.5,60.0 431.7,56.6 437.4,54.1 443.9,50.9 450.4,48.5 456.9,46.0 462.3,42.7 466.7,39.5 468.3,37.9 469.9,34.6 468.3,28.1 469.1,23.3 469.6,18.5" fill="none" stroke="#13303d" stroke-width="0.8" stroke-linejoin="round"/>
<polygon points="485.0,88.6 488.3,86.6 489.2,89.2 489.0,91.8 487.8,94.0 485.6,93.2" fill="#bae5ef" stroke="#13303d" stroke-width="0.9" stroke-linejoin="round"/>
<polygon points="488.3,86.6 491.8,85.6 496.2,86.4 496.4,90.2 492.6,90.6 489.2,89.2" fill="#16a2cc" stroke="#13303d" stroke-width="0.9" stroke-linejoin="round"/>
<polygon points="489.2,89.2 492.6,90.6 491.4,91.6 489.0,91.8" fill="#bae5ef" stroke="#13303d" stroke-width="0.9" stroke-linejoin="round"/>
<polygon points="491.4,91.6 492.6,90.6 496.4,90.2 496.0,94.6 492.4,96.2 489.4,95.2 487.8,94.0 489.0,91.8" fill="#bae5ef" stroke="#13303d" stroke-width="0.9" stroke-linejoin="round"/>
<polygon points="379.2,195.2 383.0,196.2 387.8,197.2 387.6,198.2 383.0,197.4 379.0,196.3" fill="#93d4ec" stroke="#13303d" stroke-width="0.9"/>
<polygon points="383.4,203.8 385.2,205.5 387.6,208.5 389.3,212.6 388.4,213.0 385.8,209.5 383.6,206.0" fill="#93d4ec" stroke="#13303d" stroke-width="0.9"/>
<polygon points="334.3,146.2 337.0,146.5 338.6,148.6 336.5,149.8 334.4,148.5" fill="#93d4ec" stroke="#13303d" stroke-width="0.9"/>
<polygon points="360.0,162.2 362.0,163.5 364.0,166.8 363.0,167.2 360.8,164.5" fill="#93d4ec" stroke="#13303d" stroke-width="0.9"/>
<polygon points="337.6,139.5 339.4,141.5 339.2,143.2 338.0,141.6" fill="#93d4ec" stroke="#13303d" stroke-width="0.9"/>
<polygon points="327.5,131.6 329.8,131.8 329.5,133.0 327.6,132.8" fill="#93d4ec" stroke="#13303d" stroke-width="0.9"/>
<polygon points="356.3,173.6 358.8,173.8 359.9,175.4 357.3,175.6" fill="#13303d" stroke="#13303d" stroke-width="0.8"/>
<path d="M611.5 325.2 L614.6 324.4 M606.5 324.8 L608 324.6" stroke="#13303d" stroke-width="1.3" stroke-linecap="round"/>
<polygon points="683.7,332.3 685.7,333.1 686.5,338.0 687.0,344.5 688.9,349.4 689.8,357.5 689.8,367.3 688.1,375.4 687.6,382.0 686.5,390.1 685.7,395.0 684.1,399.9 681.6,399.0 677.5,396.6 672.7,393.3 670.2,389.3 669.4,386.8 666.2,386.0 667.8,382.0 663.7,378.7 666.2,375.4 662.9,372.2 664.5,368.1 661.3,365.7 662.9,362.4 660.5,360.0 662.9,355.9 667.8,349.4 674.3,346.2 679.2,344.5 681.6,342.9 681.6,336.4 682.4,333.1" fill="#bae5ef" stroke="#13303d" stroke-width="1" stroke-linejoin="round"/>
<polyline points="661.3,361.6 669.4,363.2 676.7,368.9 681.6,373.8 684.1,379.5 687.6,380.3" fill="none" stroke="#13303d" stroke-width="0.9"/>
<polygon points="691.9,34.1 689.8,36.2 689.4,40.5 690.2,47.3 692.8,52.4 694.5,53.3 697.5,51.6 699.2,47.3 699.4,42.2 700.6,39.5 700.0,37.5 697.5,36.5 694.5,34.9" fill="#0e5068" stroke="#0d2630" stroke-width="1" stroke-linejoin="round"/>
<polygon points="699.8,37.5 702.0,34.5 701.0,32.0 701.2,29.5 703.5,27.3 706.3,28.0 707.5,30.5 707.0,33.5 709.0,35.0 712.0,36.0 715.0,37.8 717.3,39.8 716.5,40.6 713.0,40.2 709.0,40.6 704.0,41.2 700.5,41.0 699.6,40.0" fill="#0e5068" stroke="#0d2630" stroke-width="1" stroke-linejoin="round"/>
<polygon points="693.1,99.4 695.2,96.8 698.2,96.1 702.1,97.7 706.3,99.8 709.8,102.0 712.3,104.1 715.3,102.8 713.2,105.4 712.8,107.9 714.5,110.5 717.5,113.5 719.2,116.5 720.0,120.7 718.7,124.2 716.6,125.9 715.7,123.7 714.0,122.5 710.6,122.0 706.3,121.6 703.4,122.0 701.7,119.5 702.9,117.3 706.3,116.0 707.2,114.8 705.1,113.9 702.1,112.2 698.7,108.8 696.1,105.4 693.5,102.0" fill="#0e5068" stroke="#0d2630" stroke-width="1" stroke-linejoin="round"/>
<polygon points="699.9,164.3 702.1,165.1 707.2,166.4 709.8,168.1 712.3,170.7 715.7,173.7 718.7,176.7 719.2,178.4 716.6,182.2 714.0,185.6 711.5,190.7 709.8,194.2 707.2,195.0 703.8,194.2 699.5,195.0 696.1,195.4 694.8,194.2 697.8,190.7 699.1,186.5 699.5,183.5 697.0,180.5 695.7,176.2 695.2,172.0 697.0,168.5 698.7,166.0" fill="#0e5068" stroke="#0d2630" stroke-width="1" stroke-linejoin="round"/>
<polygon points="687.8,243.9 690.0,241.4 692.1,238.2 695.7,235.7 699.9,234.3 705.6,234.6 711.3,235.7 714.9,237.1 716.3,239.2 719.9,242.8 724.1,245.3 725.9,247.8 724.1,251.3 724.1,254.9 721.3,256.3 715.6,257.7 709.9,258.5 704.2,257.4 699.2,255.6 694.9,254.2 692.8,251.3 690.7,247.8 688.2,245.6" fill="#0e5068" stroke="#0d2630" stroke-width="1" stroke-linejoin="round"/>
<polygon points="701.1,298.7 705.4,299.3 709.0,301.1 711.5,302.9 710.9,306.6 710.2,311.5 711.5,316.3 709.0,317.6 705.4,317.6 703.5,315.1 705.4,313.3 702.9,312.1 704.8,309.0 703.5,305.4 701.7,302.3 700.5,299.9" fill="#0e5068" stroke="#0d2630" stroke-width="1" stroke-linejoin="round"/>
<path d="M720.5 37.1 L724.8 34.9 M695.4 58 L699.2 56.7" stroke="#0d2630" stroke-width="1.4" stroke-linecap="round"/>
<path d="M712.4 50.3 C714.5 52.5 716 54 715.5 55.5 C714.8 57 710.5 57 709.6 55.5 C709 54 710.5 52.5 712.4 50.3Z" fill="#0e5068" stroke="#0d2630" stroke-width="0.9"/>
<ellipse cx="701.2" cy="296.4" rx="0.9" ry="0.9" fill="#0d2630"/>
<ellipse cx="715.7" cy="304.2" rx="0.9" ry="1.5" fill="#0d2630"/>
<text x="706.9" y="20.75" text-anchor="middle" textLength="63.5" lengthAdjust="spacingAndGlyphs" class="lb">Guadeloupe</text>
<text x="706.9" y="89.65" text-anchor="middle" textLength="56.6" lengthAdjust="spacingAndGlyphs" class="lb">Martinique</text>
<text x="706.9" y="157.65" text-anchor="middle" textLength="39.2" lengthAdjust="spacingAndGlyphs" class="lb">Guyane</text>
<text x="706.9" y="227.65" text-anchor="middle" textLength="59" lengthAdjust="spacingAndGlyphs" class="lb">La Réunion</text>
<text x="706.9" y="290" text-anchor="middle" textLength="41.9" lengthAdjust="spacingAndGlyphs" class="lb">Mayotte</text>
<rect x="279.3" y="413.4" width="465.1" height="80" fill="#cbcbcd"/>
<text x="403.4" y="431.7" textLength="216" lengthAdjust="spacingAndGlyphs" class="lt">Écart par rapport au taux national</text>
<rect x="292.5" y="446.5" width="35.6" height="11.8" fill="#e3f4f4" stroke="#4a5558" stroke-width="1.1"/>
<text x="340.2" y="458.9" textLength="45.7" lengthAdjust="spacingAndGlyphs" class="li">&lt;-20%</text>
<rect x="437.8" y="446.5" width="35.6" height="11.8" fill="#bae5ef" stroke="#4a5558" stroke-width="1.1"/>
<text x="485.3" y="458.9" textLength="94.3" lengthAdjust="spacingAndGlyphs" class="li">[-20% ; -10%[</text>
<rect x="603.2" y="446.5" width="35.6" height="11.8" fill="#93d4ec" stroke="#4a5558" stroke-width="1.1"/>
<text x="651" y="458.9" textLength="78.2" lengthAdjust="spacingAndGlyphs" class="li">[-10% ; 0%]</text>
<rect x="292.5" y="472.2" width="35.6" height="11.8" fill="#4cbfe0" stroke="#4a5558" stroke-width="1.1"/>
<text x="340.1" y="483.09999999999997" textLength="71.7" lengthAdjust="spacingAndGlyphs" class="li">]0% ; 10%]</text>
<rect x="437.8" y="472.2" width="35.6" height="11.8" fill="#16a2cc" stroke="#4a5558" stroke-width="1.1"/>
<text x="485.3" y="483.09999999999997" textLength="80.4" lengthAdjust="spacingAndGlyphs" class="li">]10% ; 20%]</text>
<rect x="603.2" y="472.2" width="35.6" height="11.8" fill="#0c4f64" stroke="#4a5558" stroke-width="1.1"/>
<text x="651" y="483.09999999999997" textLength="39.7" lengthAdjust="spacingAndGlyphs" class="li">&gt;20%</text>
</svg>
</body></html>
